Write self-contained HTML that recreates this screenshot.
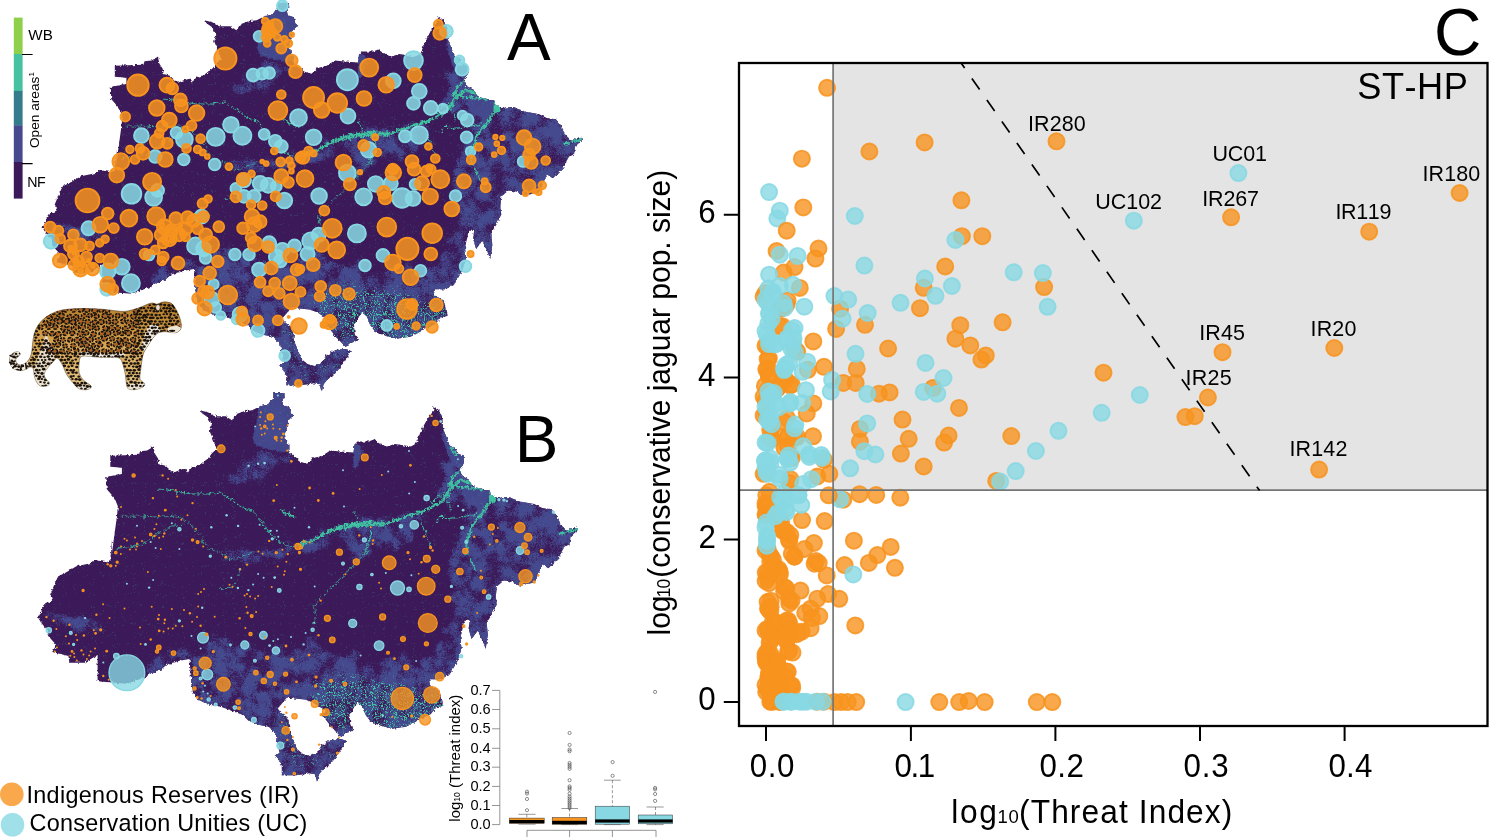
<!DOCTYPE html>
<html><head><meta charset="utf-8"><title>Figure</title>
<style>html,body{margin:0;padding:0;background:#fff;overflow:hidden}svg{display:block}text{font-family:"Liberation Sans",Arial,sans-serif;fill:#000;font-kerning:none}</style></head><body>
<svg width="1489" height="837" viewBox="0 0 1489 837">
<rect width="1489" height="837" fill="#fff"/>
<defs><clipPath id="mapclip"><path d="M111.8 554.0 L117.2 514.2 L117.8 506.1 L114.4 498.1 L106.7 489.0 L106.3 476.9 L121.9 473.8 L121.9 467.8 L110.3 466.8 L110.3 455.7 L139.0 454.7 L140.0 451.2 L147.1 450.6 L153.6 446.6 L154.8 453.6 L158.2 458.7 L159.2 464.1 L165.3 465.8 L173.3 472.8 L180.4 469.8 L185.5 468.8 L187.1 473.4 L191.5 467.8 L199.6 464.7 L207.7 458.7 L212.7 452.6 L216.7 449.6 L213.7 440.5 L209.7 431.4 L211.7 424.4 L207.7 417.3 L200.6 412.3 L199.6 410.2 L207.7 412.3 L215.7 416.3 L225.8 416.3 L231.9 420.3 L235.9 414.3 L244.0 411.2 L252.1 410.2 L260.1 406.2 L268.2 404.2 L273.3 397.1 L273.3 393.1 L284.4 393.1 L284.8 399.1 L282.0 400.1 L283.4 405.2 L289.4 407.2 L290.8 413.3 L293.1 415.7 L288.4 420.3 L287.4 427.4 L284.8 433.5 L286.4 443.5 L289.4 445.6 L289.4 452.6 L292.4 454.7 L298.5 460.7 L300.0 461.7 L307.1 463.7 L312.1 458.7 L322.2 455.7 L330.3 450.6 L340.4 451.6 L353.5 452.6 L354.5 444.6 L357.5 441.5 L368.6 441.5 L373.7 439.5 L380.8 444.6 L386.8 446.6 L394.9 444.0 L405.0 445.6 L411.0 446.6 L416.1 443.5 L421.1 430.4 L427.2 419.3 L433.2 411.2 L433.6 406.2 L439.3 410.2 L442.3 417.3 L443.3 429.4 L447.4 439.5 L449.4 445.6 L455.5 448.6 L457.5 453.6 L463.5 455.7 L463.9 462.7 L460.5 469.8 L461.5 475.8 L469.6 479.9 L473.6 487.0 L489.8 490.4 L490.8 495.0 L496.8 498.1 L507.9 497.0 L522.1 502.1 L534.2 504.1 L542.3 508.1 L551.3 509.2 L557.4 516.2 L560.4 524.3 L566.5 530.4 L574.6 527.3 L578.6 529.3 L570.5 536.4 L569.5 544.5 L564.5 546.5 L560.4 554.0 L558.4 558.2 L548.3 568.3 L542.3 564.2 L538.2 574.3 L534.2 582.4 L520.1 585.4 L512.0 581.4 L503.9 580.4 L496.8 586.4 L495.8 596.5 L496.8 604.6 L491.8 614.7 L486.7 622.8 L487.8 634.9 L485.7 649.0 L482.7 640.9 L477.7 630.8 L471.6 638.9 L468.6 628.8 L469.6 620.8 L464.5 620.8 L460.5 636.9 L461.5 649.0 L457.5 661.1 L450.4 673.2 L441.3 679.3 L429.2 679.3 L430.2 685.4 L439.3 690.4 L441.3 699.5 L442.3 700.6 L443.3 705.6 L436.2 707.6 L430.1 714.7 L420.1 718.7 L414.0 722.8 L405.9 726.8 L391.8 728.8 L381.7 725.8 L371.6 722.8 L365.5 714.7 L362.5 706.6 L357.5 702.6 L353.4 708.6 L349.4 714.7 L350.4 724.8 L354.4 729.8 L349.4 731.9 L345.4 732.9 L341.3 736.9 L331.2 726.8 L325.2 718.7 L321.1 714.7 L326.2 710.7 L319.1 706.6 L313.1 702.6 L305.0 699.6 L294.9 698.5 L286.8 697.5 L282.8 702.6 L277.7 708.6 L280.8 712.7 L286.8 716.7 L289.8 722.8 L288.8 728.8 L292.9 738.9 L296.9 749.0 L303.0 754.1 L310.0 756.1 L317.1 753.1 L321.1 746.0 L331.2 739.9 L341.3 738.9 L346.4 740.9 L341.3 749.0 L335.3 758.1 L329.2 765.2 L323.1 769.2 L319.1 774.3 L317.1 782.3 L315.1 774.3 L309.0 773.2 L305.0 774.3 L294.9 775.3 L281.8 775.3 L281.8 765.2 L278.7 759.1 L274.7 755.5 L279.7 753.1 L276.7 740.9 L275.7 732.9 L268.6 726.8 L258.5 724.8 L248.5 720.8 L242.4 714.7 L234.3 711.7 L220.2 706.6 L208.1 704.6 L200.0 700.6 L197.6 699.5 L193.5 693.4 L191.5 685.4 L190.5 671.2 L189.5 659.1 L179.4 660.7 L167.3 664.2 L161.2 669.2 L151.1 673.2 L145.1 677.3 L126.9 683.7 L108.7 682.3 L97.6 681.3 L97.6 655.1 L84.5 662.7 L69.4 662.7 L68.4 656.1 L52.2 652.0 L56.2 645.0 L49.2 636.9 L46.2 628.8 L41.1 622.8 L38.1 617.7 L41.1 611.7 L43.1 605.6 L52.2 600.6 L50.2 594.5 L55.2 582.4 L58.3 576.3 L66.3 572.3 L76.4 566.2 L90.6 563.2 L96.6 560.2 L106.7 562.2 L110.3 560.2 L111.8 540.0Z"/></clipPath><filter id="fblue" filterUnits="userSpaceOnUse" x="30" y="385" width="560" height="410" color-interpolation-filters="sRGB">
<feGaussianBlur in="SourceAlpha" stdDeviation="4" result="b"/>
<feTurbulence type="fractalNoise" baseFrequency="0.8" numOctaves="1" seed="11" result="n"/>
<feColorMatrix in="n" type="matrix" values="0 0 0 0 0 0 0 0 0 0 0 0 0 0 0 2.2 0 0 0 -0.6" result="na"/>
<feTurbulence type="fractalNoise" baseFrequency="0.07" numOctaves="3" seed="3" result="m"/>
<feColorMatrix in="m" type="matrix" values="0 0 0 0 0 0 0 0 0 0 0 0 0 0 0 2.5 0 0 0 -0.75" result="ma"/>
<feComposite in="na" in2="ma" operator="arithmetic" k1="0" k2="0.4" k3="0.6" k4="0" result="nm"/>
<feComposite in="b" in2="nm" operator="arithmetic" k1="0" k2="0.8" k3="1" k4="-0.72" result="s"/>
<feComponentTransfer in="s" result="t"><feFuncA type="linear" slope="2.5" intercept="-0.75"/></feComponentTransfer>
<feFlood flood-color="#454a8f"/><feComposite operator="in" in2="t"/>
</filter>
<filter id="fteal" filterUnits="userSpaceOnUse" x="30" y="385" width="560" height="410" color-interpolation-filters="sRGB">
<feGaussianBlur in="SourceAlpha" stdDeviation="5" result="b"/>
<feTurbulence type="fractalNoise" baseFrequency="0.9" numOctaves="1" seed="5" result="n"/>
<feColorMatrix in="n" type="matrix" values="0 0 0 0 0 0 0 0 0 0 0 0 0 0 0 0 2.5 0 0 -0.75" result="na"/>
<feComposite in="b" in2="na" operator="arithmetic" k1="0" k2="0.4" k3="1" k4="-0.62" result="s"/>
<feComponentTransfer in="s" result="t"><feFuncA type="linear" slope="3" intercept="-1"/></feComponentTransfer>
<feFlood flood-color="#3fc3a0"/><feComposite operator="in" in2="t"/>
</filter>
<filter id="fedge" filterUnits="userSpaceOnUse" x="30" y="385" width="560" height="410" color-interpolation-filters="sRGB">
<feTurbulence type="fractalNoise" baseFrequency="0.35" numOctaves="2" seed="21" result="n"/>
<feDisplacementMap in="SourceGraphic" in2="n" scale="3.5" xChannelSelector="R" yChannelSelector="G"/>
</filter>
<filter id="frough" filterUnits="userSpaceOnUse" x="30" y="385" width="560" height="410" color-interpolation-filters="sRGB">
<feTurbulence type="fractalNoise" baseFrequency="0.25" numOctaves="2" seed="8" result="n"/>
<feDisplacementMap in="SourceGraphic" in2="n" scale="5" xChannelSelector="R" yChannelSelector="G" result="d"/>
<feTurbulence type="fractalNoise" baseFrequency="0.9" numOctaves="1" seed="2" result="h"/>
<feColorMatrix in="h" type="matrix" values="0 0 0 0 0 0 0 0 0 0 0 0 0 0 0 0 0 3 0 -0.45" result="ha"/>
<feComposite in="d" in2="ha" operator="in"/>
</filter><g id="mapbase"><g filter="url(#fedge)"><path d="M111.8 554.0 L117.2 514.2 L117.8 506.1 L114.4 498.1 L106.7 489.0 L106.3 476.9 L121.9 473.8 L121.9 467.8 L110.3 466.8 L110.3 455.7 L139.0 454.7 L140.0 451.2 L147.1 450.6 L153.6 446.6 L154.8 453.6 L158.2 458.7 L159.2 464.1 L165.3 465.8 L173.3 472.8 L180.4 469.8 L185.5 468.8 L187.1 473.4 L191.5 467.8 L199.6 464.7 L207.7 458.7 L212.7 452.6 L216.7 449.6 L213.7 440.5 L209.7 431.4 L211.7 424.4 L207.7 417.3 L200.6 412.3 L199.6 410.2 L207.7 412.3 L215.7 416.3 L225.8 416.3 L231.9 420.3 L235.9 414.3 L244.0 411.2 L252.1 410.2 L260.1 406.2 L268.2 404.2 L273.3 397.1 L273.3 393.1 L284.4 393.1 L284.8 399.1 L282.0 400.1 L283.4 405.2 L289.4 407.2 L290.8 413.3 L293.1 415.7 L288.4 420.3 L287.4 427.4 L284.8 433.5 L286.4 443.5 L289.4 445.6 L289.4 452.6 L292.4 454.7 L298.5 460.7 L300.0 461.7 L307.1 463.7 L312.1 458.7 L322.2 455.7 L330.3 450.6 L340.4 451.6 L353.5 452.6 L354.5 444.6 L357.5 441.5 L368.6 441.5 L373.7 439.5 L380.8 444.6 L386.8 446.6 L394.9 444.0 L405.0 445.6 L411.0 446.6 L416.1 443.5 L421.1 430.4 L427.2 419.3 L433.2 411.2 L433.6 406.2 L439.3 410.2 L442.3 417.3 L443.3 429.4 L447.4 439.5 L449.4 445.6 L455.5 448.6 L457.5 453.6 L463.5 455.7 L463.9 462.7 L460.5 469.8 L461.5 475.8 L469.6 479.9 L473.6 487.0 L489.8 490.4 L490.8 495.0 L496.8 498.1 L507.9 497.0 L522.1 502.1 L534.2 504.1 L542.3 508.1 L551.3 509.2 L557.4 516.2 L560.4 524.3 L566.5 530.4 L574.6 527.3 L578.6 529.3 L570.5 536.4 L569.5 544.5 L564.5 546.5 L560.4 554.0 L558.4 558.2 L548.3 568.3 L542.3 564.2 L538.2 574.3 L534.2 582.4 L520.1 585.4 L512.0 581.4 L503.9 580.4 L496.8 586.4 L495.8 596.5 L496.8 604.6 L491.8 614.7 L486.7 622.8 L487.8 634.9 L485.7 649.0 L482.7 640.9 L477.7 630.8 L471.6 638.9 L468.6 628.8 L469.6 620.8 L464.5 620.8 L460.5 636.9 L461.5 649.0 L457.5 661.1 L450.4 673.2 L441.3 679.3 L429.2 679.3 L430.2 685.4 L439.3 690.4 L441.3 699.5 L442.3 700.6 L443.3 705.6 L436.2 707.6 L430.1 714.7 L420.1 718.7 L414.0 722.8 L405.9 726.8 L391.8 728.8 L381.7 725.8 L371.6 722.8 L365.5 714.7 L362.5 706.6 L357.5 702.6 L353.4 708.6 L349.4 714.7 L350.4 724.8 L354.4 729.8 L349.4 731.9 L345.4 732.9 L341.3 736.9 L331.2 726.8 L325.2 718.7 L321.1 714.7 L326.2 710.7 L319.1 706.6 L313.1 702.6 L305.0 699.6 L294.9 698.5 L286.8 697.5 L282.8 702.6 L277.7 708.6 L280.8 712.7 L286.8 716.7 L289.8 722.8 L288.8 728.8 L292.9 738.9 L296.9 749.0 L303.0 754.1 L310.0 756.1 L317.1 753.1 L321.1 746.0 L331.2 739.9 L341.3 738.9 L346.4 740.9 L341.3 749.0 L335.3 758.1 L329.2 765.2 L323.1 769.2 L319.1 774.3 L317.1 782.3 L315.1 774.3 L309.0 773.2 L305.0 774.3 L294.9 775.3 L281.8 775.3 L281.8 765.2 L278.7 759.1 L274.7 755.5 L279.7 753.1 L276.7 740.9 L275.7 732.9 L268.6 726.8 L258.5 724.8 L248.5 720.8 L242.4 714.7 L234.3 711.7 L220.2 706.6 L208.1 704.6 L200.0 700.6 L197.6 699.5 L193.5 693.4 L191.5 685.4 L190.5 671.2 L189.5 659.1 L179.4 660.7 L167.3 664.2 L161.2 669.2 L151.1 673.2 L145.1 677.3 L126.9 683.7 L108.7 682.3 L97.6 681.3 L97.6 655.1 L84.5 662.7 L69.4 662.7 L68.4 656.1 L52.2 652.0 L56.2 645.0 L49.2 636.9 L46.2 628.8 L41.1 622.8 L38.1 617.7 L41.1 611.7 L43.1 605.6 L52.2 600.6 L50.2 594.5 L55.2 582.4 L58.3 576.3 L66.3 572.3 L76.4 566.2 L90.6 563.2 L96.6 560.2 L106.7 562.2 L110.3 560.2 L111.8 540.0Z" fill="#3c1a59"/><g clip-path="url(#mapclip)"><path d="M258.1 407.2 L268.2 403.2 L272.3 397.1 L272.3 391.1 L286.4 391.1 L287.4 399.1 L285.4 405.2 L292.4 406.2 L296.5 415.7 L291.4 420.3 L289.4 427.4 L287.4 433.5 L288.4 443.5 L290.4 445.6 L290.4 452.6 L280.3 451.6 L268.2 449.6 L256.1 445.6 L252.1 437.5 L256.1 425.4 L258.1 415.3Z" fill="#454a8f" fill-opacity="0.92"/><path d="M469.6 478.9 L474.6 485.9 L490.8 489.6 L491.8 495.0 L487.8 504.1 L477.7 508.1 L467.6 502.1 L461.5 494.0 L463.5 485.9Z" fill="#454a8f" fill-opacity="0.92"/><path d="M352.9 443.5 L360.6 445.6 L360.6 455.7 L358.5 465.8 L353.7 468.2Z" fill="#454a8f" fill-opacity="0.92"/><path d="M442.5 423.4 L445.4 429.4 L451.0 445.6 L459.1 452.6 L465.1 462.7 L461.5 469.8 L453.4 465.8 L447.4 453.6 L443.7 441.5Z" fill="#454a8f" fill-opacity="0.92"/><g filter="url(#fblue)"><path d="M255.9 408.0 L275.0 396.5 L284.6 402.2 L288.4 423.3 L285.7 450.1 L294.1 461.6 L275.0 467.3 L259.7 480.7 L236.7 485.3 L221.4 480.7 L232.9 471.1 L253.9 457.7 L256.6 434.8Z"/><path d="M354.6 445.5 L366.9 448.2 L368.8 461.6 L355.4 467.3Z"/><path d="M435.8 385.0 L435.8 408.0 L443.4 442.4 L441.5 473.0 L431.9 499.8 L451.1 503.7 L462.6 511.3 L454.9 538.1 L447.3 557.3 L451.1 584.1 L445.3 614.7 L435.8 645.3 L420.5 660.6 L397.5 653.0 L374.5 660.6 L351.6 649.1 L328.6 653.0 L313.3 630.0 L298.0 649.1 L275.0 645.3 L255.9 653.0 L244.4 641.5 L229.1 630.0 L209.9 637.7 L198.4 653.0 L183.1 649.1 L156.3 653.0 L144.8 675.9 L144.8 806.1 L604.2 806.1 L604.2 385.0Z"/><path d="M213.7 553.4 L259.7 547.7 L298.0 540.0 L328.6 526.6 L359.2 517.1 L393.7 515.2 L428.1 507.5 L431.9 517.1 L412.8 528.6 L374.5 536.2 L336.2 543.9 L305.6 555.3 L259.7 563.0 L213.7 568.0Z"/><path d="M351.6 538.1 L412.8 530.5 L416.6 545.8 L374.5 553.4 L355.4 568.7 L347.7 553.4Z"/><path d="M41.5 608.9 L75.9 614.7 L110.4 624.3 L106.6 635.7 L72.1 630.0 L41.5 622.3Z"/></g><g filter="url(#fteal)"><path d="M313.1 680.4 L341.3 676.3 L381.7 680.4 L422.1 690.5 L452.4 700.6 L432.2 724.8 L391.8 730.8 L365.5 720.8 L357.5 706.6 L349.4 732.9 L325.2 720.8 L313.1 704.6Z"/><path d="M280.8 716.7 L284.8 734.9 L290.8 753.1 L305.0 763.1 L321.1 759.1 L337.3 747.0" fill="none" stroke="#000" stroke-width="5" stroke-linecap="round" stroke-linejoin="round"/></g><g filter="url(#frough)" fill="none" stroke="#3fc3a0" stroke-linecap="round" stroke-linejoin="round"><path d="M300.0 544.5 L312.1 540.5 L326.2 532.4 L340.4 527.3 L356.5 524.3 L370.7 524.3 L384.8 524.3 L400.9 518.2 L413.1 514.2 L425.2 510.2 L437.3 504.1 L445.4 498.1 L449.4 490.0 L455.5 483.9 L461.5 479.9 L471.6 483.9" stroke-width="3.2"/><path d="M340.4 527.3 L356.5 524.7 L370.7 524.3 L384.8 523.9" stroke-width="5.1"/><path d="M449.4 485.9 L453.4 475.8 L459.5 471.8" stroke-width="2.5"/><path d="M493.8 495.6 L489.8 502.1 L485.7 508.1 L479.7 516.2 L471.6 526.3 L467.6 540.5 L465.5 554.0" stroke-width="2.5"/><path d="M435.3 522.3 L439.3 517.2 L453.4 518.2 L465.5 516.2 L477.7 514.2" stroke-width="1.2"/><path d="M421.1 522.3 L424.2 530.4 L427.2 538.4 L431.2 546.5" stroke-width="1.0"/><path d="M370.7 530.4 L369.7 538.4 L367.6 546.5 L366.6 554.0" stroke-width="1.2"/><path d="M354.5 510.2 L356.5 518.2 L358.5 524.3" stroke-width="1.0"/><path d="M560.4 534.4 L570.5 530.4 L577.6 528.7" stroke-width="2.5"/><path d="M450.4 447.6 L453.4 451.6 L455.5 454.7" stroke-width="2.5"/><path d="M159.2 489.0 L175.4 491.0 L191.5 494.0 L207.7 494.0 L219.8 492.0 L231.9 500.1 L244.0 508.1 L254.1 512.2 L262.2 522.3 L270.2 534.4 L280.3 542.5 L292.4 546.5 L308.6 544.5" stroke-width="1.0"/><path d="M120.8 516.2 L143.1 516.2 L159.2 517.2 L175.4 516.2 L187.5 520.3 L191.5 526.3 L199.6 534.4 L205.6 544.5" stroke-width="0.8"/><path d="M118.8 547.5 L143.1 544.5 L159.2 532.4 L171.3 526.3 L183.4 524.3" stroke-width="0.8"/><path d="M280.3 510.2 L288.4 514.2 L294.5 517.2" stroke-width="2.0"/><path d="M368.6 540.0 L366.6 548.1 L360.6 558.2 L350.5 568.3 L340.4 578.4 L330.3 588.5 L320.2 598.5 L314.1 606.6 L316.2 616.7 L314.1 624.8" stroke-width="0.8"/><path d="M465.5 540.0 L467.6 552.1 L471.6 562.2 L475.6 570.3" stroke-width="1.2"/><path d="M207.7 548.1 L219.8 552.1 L231.9 560.2 L242.0 556.2 L252.1 552.1" stroke-width="0.8"/><path d="M240.0 570.3 L237.9 580.4 L231.9 588.5 L219.8 588.5" stroke-width="0.7"/><path d="M116.8 549.1 L124.9 547.1 L135.0 546.1 L143.1 544.0" stroke-width="0.7"/><path d="M451.1 485.7 L457.2 486.2 L464.3 487.7 L471.4 488.7 L477.5 488.2 L482.6 489.8" stroke-width="2.2"/><path d="M431.8 503.0 L434.8 498.4 L440.9 495.3 L446.0 492.8 L450.1 489.8" stroke-width="1.4"/><path d="M445.0 496.9 L447.0 500.9 L451.1 505.0 L450.1 511.1" stroke-width="1.0"/></g><path d="M489.8 490.4 L496.8 498.1 L492.8 504.1 L488.8 498.1Z" fill="#3fc3a0"/></g></g></g></defs>
<use href="#mapbase" transform="translate(4.5 -390.0)"/>
<use href="#mapbase"/>
<g fill="#87d8e3" fill-opacity="0.86" stroke="#87d8e3" stroke-width="1.9">
<circle cx="282.4" cy="5.7" r="5.4"/>
<circle cx="259.1" cy="36.3" r="5.4"/>
<circle cx="253.1" cy="75.1" r="6.4"/>
<circle cx="262.2" cy="73.7" r="5.8"/>
<circle cx="269.2" cy="73.1" r="5.8"/>
<circle cx="230.9" cy="124.8" r="7.8"/>
<circle cx="215.7" cy="136.9" r="9.0"/>
<circle cx="242.4" cy="135.7" r="9.0"/>
<circle cx="141.4" cy="135.7" r="7.4"/>
<circle cx="176.4" cy="132.8" r="5.8"/>
<circle cx="184.4" cy="139.3" r="8.4"/>
<circle cx="183.8" cy="159.5" r="5.8"/>
<circle cx="214.7" cy="164.5" r="5.8"/>
<circle cx="264.2" cy="134.3" r="5.4"/>
<circle cx="275.3" cy="141.3" r="6.4"/>
<circle cx="281.3" cy="146.4" r="6.4"/>
<circle cx="298.5" cy="117.7" r="8.4"/>
<circle cx="313.6" cy="137.3" r="7.8"/>
<circle cx="155.2" cy="156.5" r="6.4"/>
<circle cx="446.4" cy="31.3" r="6.4"/>
<circle cx="413.5" cy="60.6" r="9.4"/>
<circle cx="459.5" cy="60.2" r="4.8"/>
<circle cx="462.1" cy="69.2" r="6.4"/>
<circle cx="347.4" cy="79.7" r="10.5"/>
<circle cx="393.3" cy="80.8" r="7.4"/>
<circle cx="419.3" cy="91.3" r="7.4"/>
<circle cx="413.5" cy="103.4" r="6.4"/>
<circle cx="430.8" cy="108.0" r="7.0"/>
<circle cx="442.9" cy="108.6" r="4.8"/>
<circle cx="348.0" cy="116.1" r="7.4"/>
<circle cx="462.5" cy="115.5" r="4.8"/>
<circle cx="467.2" cy="120.1" r="6.4"/>
<circle cx="405.0" cy="136.3" r="6.0"/>
<circle cx="419.1" cy="134.9" r="8.8"/>
<circle cx="466.6" cy="137.3" r="5.8"/>
<circle cx="470.6" cy="151.4" r="4.8"/>
<circle cx="368.6" cy="149.8" r="7.8"/>
<circle cx="523.1" cy="161.5" r="5.4"/>
<circle cx="131.5" cy="193.8" r="9.8"/>
<circle cx="153.6" cy="197.4" r="8.4"/>
<circle cx="157.6" cy="190.4" r="6.4"/>
<circle cx="88.5" cy="228.3" r="7.0"/>
<circle cx="51.2" cy="241.3" r="7.4"/>
<circle cx="201.6" cy="216.6" r="7.0"/>
<circle cx="195.5" cy="245.9" r="8.4"/>
<circle cx="203.6" cy="248.9" r="7.4"/>
<circle cx="205.6" cy="258.0" r="5.8"/>
<circle cx="234.9" cy="254.6" r="5.8"/>
<circle cx="249.0" cy="254.6" r="5.8"/>
<circle cx="121.9" cy="266.7" r="7.8"/>
<circle cx="107.7" cy="271.1" r="7.8"/>
<circle cx="130.9" cy="283.2" r="9.0"/>
<circle cx="149.1" cy="255.0" r="5.4"/>
<circle cx="260.1" cy="183.3" r="7.4"/>
<circle cx="268.2" cy="185.3" r="7.4"/>
<circle cx="244.0" cy="180.3" r="7.0"/>
<circle cx="235.9" cy="188.4" r="5.4"/>
<circle cx="244.0" cy="196.4" r="6.4"/>
<circle cx="254.1" cy="196.4" r="6.4"/>
<circle cx="276.3" cy="186.3" r="5.4"/>
<circle cx="284.4" cy="200.5" r="7.8"/>
<circle cx="319.1" cy="196.0" r="7.8"/>
<circle cx="269.2" cy="243.3" r="7.0"/>
<circle cx="282.4" cy="249.9" r="7.0"/>
<circle cx="294.5" cy="245.9" r="6.4"/>
<circle cx="307.6" cy="254.0" r="7.0"/>
<circle cx="310.6" cy="240.8" r="8.4"/>
<circle cx="318.7" cy="234.8" r="7.0"/>
<circle cx="276.3" cy="257.0" r="7.4"/>
<circle cx="280.3" cy="261.0" r="6.4"/>
<circle cx="259.1" cy="269.7" r="7.0"/>
<circle cx="213.7" cy="284.3" r="5.0"/>
<circle cx="211.7" cy="299.4" r="7.4"/>
<circle cx="215.7" cy="307.5" r="5.4"/>
<circle cx="106.7" cy="289.3" r="6.4"/>
<circle cx="240.0" cy="314.5" r="7.4"/>
<circle cx="220.8" cy="315.5" r="4.4"/>
<circle cx="347.4" cy="173.2" r="8.4"/>
<circle cx="375.7" cy="183.9" r="7.8"/>
<circle cx="390.8" cy="183.3" r="7.0"/>
<circle cx="363.6" cy="196.8" r="8.4"/>
<circle cx="402.0" cy="198.0" r="9.8"/>
<circle cx="413.1" cy="198.5" r="7.4"/>
<circle cx="415.1" cy="184.3" r="5.4"/>
<circle cx="455.5" cy="196.0" r="5.8"/>
<circle cx="356.9" cy="233.4" r="9.0"/>
<circle cx="383.0" cy="255.4" r="6.4"/>
<circle cx="365.0" cy="265.5" r="5.8"/>
<circle cx="420.5" cy="270.7" r="5.8"/>
<circle cx="465.5" cy="266.3" r="5.8"/>
<circle cx="258.0" cy="330.5" r="6.4"/>
<circle cx="284.7" cy="355.7" r="5.4"/>
<circle cx="386.8" cy="325.4" r="5.4"/>
<circle cx="236.8" cy="319.4" r="5.0"/>
</g>
<g fill="#f7931e" fill-opacity="0.86" stroke="#f7931e" stroke-width="1.9">
<circle cx="225.4" cy="58.5" r="11.1"/>
<circle cx="138.0" cy="85.2" r="10.7"/>
<circle cx="166.9" cy="85.2" r="7.4"/>
<circle cx="172.3" cy="88.4" r="5.8"/>
<circle cx="180.4" cy="99.9" r="6.4"/>
<circle cx="181.4" cy="106.0" r="6.4"/>
<circle cx="156.8" cy="108.0" r="7.8"/>
<circle cx="196.6" cy="113.1" r="7.8"/>
<circle cx="125.3" cy="116.7" r="4.8"/>
<circle cx="169.3" cy="120.1" r="7.4"/>
<circle cx="162.2" cy="126.2" r="5.4"/>
<circle cx="191.5" cy="125.6" r="5.0"/>
<circle cx="185.5" cy="129.2" r="3.0"/>
<circle cx="200.6" cy="138.7" r="4.4"/>
<circle cx="159.2" cy="133.2" r="4.4"/>
<circle cx="157.2" cy="141.3" r="7.4"/>
<circle cx="167.3" cy="143.3" r="5.4"/>
<circle cx="186.5" cy="148.4" r="4.4"/>
<circle cx="197.6" cy="149.4" r="3.8"/>
<circle cx="202.6" cy="152.4" r="3.0"/>
<circle cx="207.3" cy="156.5" r="2.4"/>
<circle cx="129.9" cy="149.4" r="3.8"/>
<circle cx="140.0" cy="148.4" r="4.4"/>
<circle cx="143.1" cy="153.4" r="6.4"/>
<circle cx="135.0" cy="159.5" r="4.4"/>
<circle cx="120.8" cy="161.5" r="8.4"/>
<circle cx="165.3" cy="159.5" r="7.4"/>
<circle cx="228.9" cy="166.6" r="3.4"/>
<circle cx="265.2" cy="21.2" r="3.4"/>
<circle cx="275.3" cy="26.2" r="7.0"/>
<circle cx="268.2" cy="30.3" r="6.4"/>
<circle cx="266.2" cy="37.3" r="4.4"/>
<circle cx="267.2" cy="43.4" r="3.4"/>
<circle cx="277.3" cy="37.3" r="3.4"/>
<circle cx="284.4" cy="39.4" r="3.4"/>
<circle cx="288.4" cy="43.4" r="3.8"/>
<circle cx="281.3" cy="48.5" r="5.0"/>
<circle cx="291.8" cy="34.7" r="2.2"/>
<circle cx="291.8" cy="60.6" r="5.8"/>
<circle cx="295.5" cy="71.7" r="6.4"/>
<circle cx="281.3" cy="94.5" r="4.4"/>
<circle cx="277.9" cy="110.6" r="9.4"/>
<circle cx="313.6" cy="97.5" r="10.5"/>
<circle cx="321.7" cy="110.0" r="7.8"/>
<circle cx="274.3" cy="151.0" r="3.4"/>
<circle cx="262.2" cy="161.5" r="1.8"/>
<circle cx="266.2" cy="163.5" r="2.4"/>
<circle cx="280.7" cy="161.9" r="4.4"/>
<circle cx="289.4" cy="160.5" r="3.4"/>
<circle cx="291.4" cy="165.5" r="3.4"/>
<circle cx="300.5" cy="157.5" r="5.0"/>
<circle cx="308.6" cy="151.0" r="4.4"/>
<circle cx="313.6" cy="153.4" r="3.0"/>
<circle cx="438.3" cy="24.2" r="4.4"/>
<circle cx="439.7" cy="33.3" r="6.4"/>
<circle cx="369.2" cy="67.6" r="9.0"/>
<circle cx="414.7" cy="75.1" r="7.0"/>
<circle cx="386.2" cy="84.8" r="7.8"/>
<circle cx="337.3" cy="103.0" r="9.8"/>
<circle cx="364.0" cy="98.5" r="7.4"/>
<circle cx="375.1" cy="137.3" r="3.0"/>
<circle cx="363.6" cy="145.4" r="5.4"/>
<circle cx="377.3" cy="152.4" r="3.8"/>
<circle cx="428.4" cy="146.4" r="3.4"/>
<circle cx="478.7" cy="147.0" r="3.8"/>
<circle cx="471.2" cy="159.9" r="4.4"/>
<circle cx="495.4" cy="136.9" r="2.2"/>
<circle cx="502.3" cy="137.9" r="2.2"/>
<circle cx="496.8" cy="143.7" r="2.4"/>
<circle cx="501.5" cy="150.4" r="3.8"/>
<circle cx="494.2" cy="154.6" r="2.4"/>
<circle cx="524.1" cy="137.7" r="7.4"/>
<circle cx="532.6" cy="146.4" r="7.8"/>
<circle cx="529.1" cy="154.4" r="5.8"/>
<circle cx="531.2" cy="162.5" r="6.4"/>
<circle cx="545.7" cy="160.5" r="4.4"/>
<circle cx="303.0" cy="157.5" r="6.4"/>
<circle cx="343.4" cy="162.5" r="7.8"/>
<circle cx="412.0" cy="161.5" r="6.4"/>
<circle cx="435.3" cy="158.5" r="4.4"/>
<circle cx="429.2" cy="167.6" r="3.4"/>
<circle cx="392.9" cy="169.0" r="5.4"/>
<circle cx="116.8" cy="175.2" r="7.4"/>
<circle cx="152.1" cy="181.9" r="9.0"/>
<circle cx="87.5" cy="200.5" r="11.9"/>
<circle cx="107.7" cy="213.6" r="5.8"/>
<circle cx="100.3" cy="224.7" r="7.8"/>
<circle cx="113.8" cy="228.1" r="5.0"/>
<circle cx="128.9" cy="218.2" r="8.4"/>
<circle cx="50.2" cy="227.1" r="5.4"/>
<circle cx="58.3" cy="230.8" r="5.0"/>
<circle cx="60.3" cy="238.8" r="4.8"/>
<circle cx="73.4" cy="234.8" r="5.4"/>
<circle cx="105.1" cy="239.2" r="3.8"/>
<circle cx="99.7" cy="242.9" r="3.8"/>
<circle cx="70.4" cy="245.9" r="6.4"/>
<circle cx="80.5" cy="244.9" r="6.4"/>
<circle cx="89.6" cy="245.9" r="4.4"/>
<circle cx="73.4" cy="254.0" r="5.4"/>
<circle cx="86.5" cy="257.0" r="5.4"/>
<circle cx="99.7" cy="258.0" r="4.4"/>
<circle cx="110.8" cy="261.0" r="7.4"/>
<circle cx="59.9" cy="260.6" r="7.0"/>
<circle cx="73.4" cy="265.1" r="5.0"/>
<circle cx="80.5" cy="269.1" r="7.4"/>
<circle cx="92.6" cy="269.1" r="6.4"/>
<circle cx="78.5" cy="261.0" r="5.4"/>
<circle cx="107.7" cy="284.3" r="7.4"/>
<circle cx="112.8" cy="289.3" r="5.4"/>
<circle cx="144.7" cy="236.8" r="7.8"/>
<circle cx="156.2" cy="216.2" r="9.0"/>
<circle cx="164.3" cy="226.7" r="7.4"/>
<circle cx="175.8" cy="218.6" r="6.4"/>
<circle cx="187.5" cy="217.6" r="6.4"/>
<circle cx="193.5" cy="220.7" r="6.4"/>
<circle cx="203.6" cy="216.6" r="5.4"/>
<circle cx="202.6" cy="203.5" r="5.0"/>
<circle cx="208.1" cy="198.9" r="3.8"/>
<circle cx="161.2" cy="234.8" r="6.4"/>
<circle cx="171.3" cy="230.8" r="6.4"/>
<circle cx="179.4" cy="234.8" r="6.4"/>
<circle cx="185.5" cy="228.7" r="6.4"/>
<circle cx="197.6" cy="228.7" r="5.4"/>
<circle cx="169.3" cy="238.8" r="7.4"/>
<circle cx="163.2" cy="242.9" r="5.4"/>
<circle cx="185.5" cy="236.8" r="4.4"/>
<circle cx="205.6" cy="234.8" r="6.4"/>
<circle cx="210.7" cy="244.5" r="8.4"/>
<circle cx="218.8" cy="226.7" r="5.4"/>
<circle cx="145.1" cy="254.0" r="5.4"/>
<circle cx="155.2" cy="249.9" r="4.4"/>
<circle cx="163.2" cy="257.0" r="5.4"/>
<circle cx="161.8" cy="261.0" r="4.4"/>
<circle cx="178.0" cy="263.1" r="6.4"/>
<circle cx="217.8" cy="261.4" r="5.8"/>
<circle cx="209.7" cy="273.1" r="6.4"/>
<circle cx="199.6" cy="281.2" r="5.4"/>
<circle cx="203.6" cy="291.3" r="5.4"/>
<circle cx="207.7" cy="292.3" r="6.4"/>
<circle cx="227.8" cy="295.0" r="9.4"/>
<circle cx="197.6" cy="298.4" r="5.4"/>
<circle cx="204.6" cy="308.5" r="7.0"/>
<circle cx="243.0" cy="179.3" r="6.4"/>
<circle cx="251.5" cy="173.8" r="3.4"/>
<circle cx="281.3" cy="176.2" r="7.0"/>
<circle cx="288.4" cy="182.3" r="5.4"/>
<circle cx="305.0" cy="178.7" r="8.4"/>
<circle cx="291.4" cy="171.2" r="2.4"/>
<circle cx="235.9" cy="196.8" r="5.4"/>
<circle cx="275.7" cy="196.4" r="5.0"/>
<circle cx="251.1" cy="204.5" r="4.4"/>
<circle cx="262.2" cy="205.5" r="4.4"/>
<circle cx="252.1" cy="216.6" r="7.4"/>
<circle cx="260.1" cy="221.7" r="6.4"/>
<circle cx="243.0" cy="228.3" r="5.8"/>
<circle cx="254.1" cy="224.7" r="7.4"/>
<circle cx="251.1" cy="237.8" r="5.4"/>
<circle cx="255.1" cy="243.9" r="7.4"/>
<circle cx="268.2" cy="246.9" r="5.8"/>
<circle cx="290.4" cy="255.4" r="7.0"/>
<circle cx="271.3" cy="268.1" r="6.4"/>
<circle cx="296.5" cy="269.7" r="5.8"/>
<circle cx="313.2" cy="264.7" r="6.4"/>
<circle cx="321.7" cy="244.9" r="7.0"/>
<circle cx="324.3" cy="210.6" r="5.0"/>
<circle cx="260.1" cy="282.2" r="5.4"/>
<circle cx="274.7" cy="283.2" r="5.4"/>
<circle cx="289.8" cy="283.2" r="7.0"/>
<circle cx="268.2" cy="291.3" r="5.0"/>
<circle cx="279.3" cy="293.3" r="5.4"/>
<circle cx="300.5" cy="291.9" r="5.0"/>
<circle cx="291.4" cy="301.4" r="7.8"/>
<circle cx="320.7" cy="286.3" r="5.4"/>
<circle cx="319.7" cy="296.4" r="5.0"/>
<circle cx="242.0" cy="311.5" r="5.0"/>
<circle cx="360.0" cy="172.2" r="2.2"/>
<circle cx="349.9" cy="184.3" r="6.0"/>
<circle cx="393.3" cy="172.6" r="7.8"/>
<circle cx="414.1" cy="169.2" r="6.4"/>
<circle cx="426.2" cy="171.2" r="5.4"/>
<circle cx="431.2" cy="169.2" r="4.4"/>
<circle cx="440.3" cy="179.3" r="9.0"/>
<circle cx="422.1" cy="183.3" r="7.0"/>
<circle cx="430.2" cy="196.4" r="7.8"/>
<circle cx="383.8" cy="192.4" r="6.4"/>
<circle cx="385.2" cy="198.0" r="6.4"/>
<circle cx="463.9" cy="181.3" r="7.0"/>
<circle cx="485.7" cy="187.3" r="5.0"/>
<circle cx="484.7" cy="181.3" r="3.0"/>
<circle cx="451.8" cy="209.0" r="7.4"/>
<circle cx="332.3" cy="228.3" r="9.4"/>
<circle cx="386.8" cy="227.1" r="9.4"/>
<circle cx="432.2" cy="233.2" r="9.8"/>
<circle cx="336.7" cy="249.9" r="8.4"/>
<circle cx="407.4" cy="248.9" r="11.1"/>
<circle cx="430.8" cy="254.0" r="6.4"/>
<circle cx="392.9" cy="262.4" r="7.8"/>
<circle cx="398.9" cy="268.7" r="4.4"/>
<circle cx="410.6" cy="277.2" r="7.8"/>
<circle cx="300.0" cy="269.1" r="4.4"/>
<circle cx="470.6" cy="254.0" r="3.0"/>
<circle cx="335.3" cy="290.3" r="5.4"/>
<circle cx="349.1" cy="293.9" r="5.8"/>
<circle cx="407.0" cy="309.1" r="9.8"/>
<circle cx="412.0" cy="304.4" r="5.4"/>
<circle cx="436.3" cy="305.0" r="6.4"/>
<circle cx="330.3" cy="319.0" r="4.4"/>
<circle cx="529.1" cy="185.9" r="6.4"/>
<circle cx="542.3" cy="185.3" r="3.8"/>
<circle cx="538.6" cy="192.0" r="3.0"/>
<circle cx="525.5" cy="193.4" r="2.6"/>
<circle cx="534.2" cy="191.4" r="1.8"/>
<circle cx="299.0" cy="326.0" r="7.8"/>
<circle cx="258.0" cy="320.4" r="5.0"/>
<circle cx="277.8" cy="320.4" r="5.0"/>
<circle cx="242.9" cy="319.4" r="6.4"/>
<circle cx="288.7" cy="316.9" r="1.0"/>
<circle cx="329.7" cy="322.4" r="7.0"/>
<circle cx="323.6" cy="324.8" r="3.0"/>
<circle cx="298.4" cy="383.4" r="3.4"/>
<circle cx="396.7" cy="326.4" r="2.4"/>
<circle cx="416.1" cy="326.0" r="3.8"/>
<circle cx="432.0" cy="327.0" r="5.8"/>
<circle cx="76.6" cy="260.9" r="1.9"/>
<circle cx="82.7" cy="265.0" r="2.2"/>
<circle cx="88.7" cy="260.9" r="1.9"/>
<circle cx="92.8" cy="266.0" r="1.9"/>
<circle cx="80.6" cy="271.1" r="2.2"/>
<circle cx="87.7" cy="271.1" r="1.9"/>
<circle cx="70.5" cy="247.7" r="1.9"/>
<circle cx="74.5" cy="252.8" r="1.9"/>
<circle cx="161.9" cy="225.4" r="2.2"/>
<circle cx="168.0" cy="230.5" r="2.2"/>
<circle cx="175.1" cy="228.4" r="2.2"/>
<circle cx="182.2" cy="233.5" r="2.4"/>
<circle cx="164.9" cy="238.6" r="2.2"/>
<circle cx="172.0" cy="240.6" r="2.2"/>
<circle cx="180.1" cy="225.4" r="1.9"/>
<circle cx="267.3" cy="27.2" r="4.4"/>
<circle cx="273.0" cy="32.3" r="3.7"/>
<circle cx="268.7" cy="35.8" r="3.7"/>
<circle cx="265.8" cy="31.5" r="3.3"/>
<circle cx="270.1" cy="23.7" r="2.9"/>
</g>
<g fill="#87d8e3" fill-opacity="0.8" stroke="#87d8e3" stroke-width="1.3">
<circle cx="277.9" cy="395.5" r="1.0" stroke="none" fill-opacity="1"/>
<circle cx="255.1" cy="426.4" r="1.0" stroke="none" fill-opacity="1"/>
<circle cx="248.6" cy="465.8" r="1.2" stroke="none" fill-opacity="1"/>
<circle cx="258.1" cy="463.7" r="1.2" stroke="none" fill-opacity="1"/>
<circle cx="264.6" cy="463.1" r="1.4" stroke="none" fill-opacity="1"/>
<circle cx="226.6" cy="515.2" r="1.2" stroke="none" fill-opacity="1"/>
<circle cx="211.3" cy="527.3" r="1.2" stroke="none" fill-opacity="1"/>
<circle cx="238.1" cy="525.9" r="1.2" stroke="none" fill-opacity="1"/>
<circle cx="179.4" cy="529.3" r="1.6"/>
<circle cx="171.9" cy="523.3" r="1.0" stroke="none" fill-opacity="1"/>
<circle cx="137.0" cy="525.7" r="1.0" stroke="none" fill-opacity="1"/>
<circle cx="150.7" cy="542.1" r="1.0" stroke="none" fill-opacity="1"/>
<circle cx="155.6" cy="548.1" r="1.0" stroke="none" fill-opacity="1"/>
<circle cx="179.4" cy="548.9" r="1.0" stroke="none" fill-opacity="1"/>
<circle cx="259.7" cy="524.7" r="1.0" stroke="none" fill-opacity="1"/>
<circle cx="270.8" cy="530.8" r="1.0" stroke="none" fill-opacity="1"/>
<circle cx="276.9" cy="530.8" r="1.0" stroke="none" fill-opacity="1"/>
<circle cx="272.3" cy="538.8" r="1.0"/>
<circle cx="278.3" cy="536.8" r="1.0" stroke="none" fill-opacity="1"/>
<circle cx="294.5" cy="507.7" r="1.0" stroke="none" fill-opacity="1"/>
<circle cx="309.0" cy="527.3" r="1.2" stroke="none" fill-opacity="1"/>
<circle cx="440.7" cy="421.5" r="1.4" stroke="none" fill-opacity="1"/>
<circle cx="409.0" cy="451.0" r="1.0" stroke="none" fill-opacity="1"/>
<circle cx="343.0" cy="470.2" r="1.0" stroke="none" fill-opacity="1"/>
<circle cx="388.2" cy="471.4" r="1.0" stroke="none" fill-opacity="1"/>
<circle cx="414.9" cy="481.9" r="1.0" stroke="none" fill-opacity="1"/>
<circle cx="409.2" cy="493.6" r="1.0" stroke="none" fill-opacity="1"/>
<circle cx="426.6" cy="498.1" r="2.6"/>
<circle cx="344.0" cy="506.5" r="1.0" stroke="none" fill-opacity="1"/>
<circle cx="457.9" cy="459.3" r="1.0" stroke="none" fill-opacity="1"/>
<circle cx="458.1" cy="506.1" r="1.0" stroke="none" fill-opacity="1"/>
<circle cx="463.1" cy="510.2" r="1.4" stroke="none" fill-opacity="1"/>
<circle cx="462.1" cy="527.7" r="1.4"/>
<circle cx="414.3" cy="524.9" r="4.2"/>
<circle cx="400.9" cy="526.3" r="1.6"/>
<circle cx="364.4" cy="539.8" r="2.0"/>
<circle cx="466.2" cy="541.9" r="1.2"/>
<circle cx="520.1" cy="550.5" r="3.8"/>
<circle cx="498.9" cy="499.7" r="1.0"/>
<circle cx="503.9" cy="500.1" r="1.0"/>
<circle cx="506.9" cy="501.1" r="1.2" stroke="none" fill-opacity="1"/>
<circle cx="553.4" cy="512.2" r="1.0"/>
<circle cx="48.8" cy="630.2" r="2.6"/>
<circle cx="70.8" cy="632.9" r="1.4"/>
<circle cx="73.6" cy="644.4" r="1.0"/>
<circle cx="85.1" cy="618.1" r="1.2" stroke="none" fill-opacity="1"/>
<circle cx="126.9" cy="583.8" r="1.0" stroke="none" fill-opacity="1"/>
<circle cx="153.1" cy="580.0" r="1.0" stroke="none" fill-opacity="1"/>
<circle cx="149.1" cy="587.6" r="1.2" stroke="none" fill-opacity="1"/>
<circle cx="179.4" cy="620.8" r="1.0"/>
<circle cx="145.5" cy="644.4" r="1.4" stroke="none" fill-opacity="1"/>
<circle cx="203.0" cy="637.7" r="5.4"/>
<circle cx="116.4" cy="656.1" r="2.8"/>
<circle cx="126.9" cy="672.8" r="17.9"/>
<circle cx="207.3" cy="674.5" r="5.4"/>
<circle cx="200.6" cy="678.5" r="1.4"/>
<circle cx="244.8" cy="645.0" r="4.0"/>
<circle cx="263.4" cy="635.3" r="3.8"/>
<circle cx="275.9" cy="650.6" r="3.6"/>
<circle cx="254.9" cy="660.7" r="1.4"/>
<circle cx="279.3" cy="590.5" r="1.8"/>
<circle cx="274.7" cy="577.6" r="1.4" stroke="none" fill-opacity="1"/>
<circle cx="237.9" cy="588.0" r="1.2" stroke="none" fill-opacity="1"/>
<circle cx="248.4" cy="590.1" r="1.2" stroke="none" fill-opacity="1"/>
<circle cx="253.1" cy="584.4" r="1.0" stroke="none" fill-opacity="1"/>
<circle cx="258.1" cy="573.9" r="1.0" stroke="none" fill-opacity="1"/>
<circle cx="263.6" cy="577.8" r="1.0" stroke="none" fill-opacity="1"/>
<circle cx="240.0" cy="569.3" r="1.2" stroke="none" fill-opacity="1"/>
<circle cx="231.3" cy="577.8" r="1.0" stroke="none" fill-opacity="1"/>
<circle cx="210.3" cy="556.2" r="1.0"/>
<circle cx="202.2" cy="607.8" r="1.2" stroke="none" fill-opacity="1"/>
<circle cx="191.5" cy="635.9" r="1.0" stroke="none" fill-opacity="1"/>
<circle cx="200.6" cy="648.6" r="1.0" stroke="none" fill-opacity="1"/>
<circle cx="230.5" cy="645.0" r="1.4" stroke="none" fill-opacity="1"/>
<circle cx="269.6" cy="645.6" r="1.4" stroke="none" fill-opacity="1"/>
<circle cx="273.3" cy="640.9" r="1.0" stroke="none" fill-opacity="1"/>
<circle cx="277.9" cy="639.3" r="1.0" stroke="none" fill-opacity="1"/>
<circle cx="291.0" cy="636.9" r="1.0" stroke="none" fill-opacity="1"/>
<circle cx="303.6" cy="644.4" r="1.2" stroke="none" fill-opacity="1"/>
<circle cx="312.6" cy="629.8" r="1.6"/>
<circle cx="305.6" cy="632.9" r="1.0" stroke="none" fill-opacity="1"/>
<circle cx="314.1" cy="622.8" r="1.0" stroke="none" fill-opacity="1"/>
<circle cx="314.7" cy="586.4" r="1.0" stroke="none" fill-opacity="1"/>
<circle cx="208.7" cy="699.5" r="1.6"/>
<circle cx="215.7" cy="704.5" r="1.4"/>
<circle cx="203.2" cy="691.4" r="1.0" stroke="none" fill-opacity="1"/>
<circle cx="205.0" cy="685.8" r="1.0" stroke="none" fill-opacity="1"/>
<circle cx="207.7" cy="693.4" r="1.0" stroke="none" fill-opacity="1"/>
<circle cx="103.3" cy="662.5" r="1.0" stroke="none" fill-opacity="1"/>
<circle cx="234.9" cy="707.6" r="1.8"/>
<circle cx="343.0" cy="563.6" r="1.4"/>
<circle cx="371.9" cy="574.5" r="1.2"/>
<circle cx="385.8" cy="572.9" r="1.0" stroke="none" fill-opacity="1"/>
<circle cx="411.4" cy="575.3" r="1.0" stroke="none" fill-opacity="1"/>
<circle cx="359.4" cy="587.0" r="2.6"/>
<circle cx="397.5" cy="588.0" r="7.0"/>
<circle cx="409.0" cy="589.3" r="2.2"/>
<circle cx="451.4" cy="586.4" r="1.0"/>
<circle cx="488.6" cy="596.9" r="2.2"/>
<circle cx="352.7" cy="623.4" r="4.0"/>
<circle cx="379.1" cy="645.6" r="4.8"/>
<circle cx="360.6" cy="655.5" r="1.0" stroke="none" fill-opacity="1"/>
<circle cx="416.1" cy="661.1" r="1.0" stroke="none" fill-opacity="1"/>
<circle cx="461.1" cy="656.3" r="1.6"/>
<circle cx="280.3" cy="745.6" r="3.4"/>
<circle cx="253.9" cy="719.9" r="2.4"/>
<circle cx="382.7" cy="715.7" r="1.2" stroke="none" fill-opacity="1"/>
</g>
<g fill="#f7931e" fill-opacity="0.8" stroke="#f7931e" stroke-width="1.3">
<circle cx="270.2" cy="416.9" r="3.0"/>
<circle cx="221.2" cy="448.8" r="3.8"/>
<circle cx="133.6" cy="475.4" r="1.6"/>
<circle cx="162.6" cy="475.4" r="1.2" stroke="none" fill-opacity="1"/>
<circle cx="168.1" cy="478.7" r="1.0" stroke="none" fill-opacity="1"/>
<circle cx="175.8" cy="490.0" r="1.0" stroke="none" fill-opacity="1"/>
<circle cx="177.2" cy="496.6" r="1.0" stroke="none" fill-opacity="1"/>
<circle cx="152.9" cy="498.1" r="1.2" stroke="none" fill-opacity="1"/>
<circle cx="121.0" cy="506.9" r="1.0" stroke="none" fill-opacity="1"/>
<circle cx="165.3" cy="510.2" r="1.4" stroke="none" fill-opacity="1"/>
<circle cx="192.5" cy="503.1" r="1.2" stroke="none" fill-opacity="1"/>
<circle cx="187.5" cy="515.2" r="1.0" stroke="none" fill-opacity="1"/>
<circle cx="158.8" cy="515.8" r="1.0" stroke="none" fill-opacity="1"/>
<circle cx="181.4" cy="519.7" r="1.0" stroke="none" fill-opacity="1"/>
<circle cx="156.4" cy="524.3" r="1.0" stroke="none" fill-opacity="1"/>
<circle cx="154.4" cy="528.9" r="1.0" stroke="none" fill-opacity="1"/>
<circle cx="150.7" cy="534.4" r="1.2"/>
<circle cx="154.4" cy="536.0" r="1.2" stroke="none" fill-opacity="1"/>
<circle cx="159.2" cy="537.8" r="1.0" stroke="none" fill-opacity="1"/>
<circle cx="164.3" cy="533.4" r="1.2" stroke="none" fill-opacity="1"/>
<circle cx="163.2" cy="536.4" r="1.0" stroke="none" fill-opacity="1"/>
<circle cx="124.5" cy="538.8" r="1.0" stroke="none" fill-opacity="1"/>
<circle cx="126.9" cy="540.5" r="1.0" stroke="none" fill-opacity="1"/>
<circle cx="135.0" cy="537.4" r="1.0" stroke="none" fill-opacity="1"/>
<circle cx="142.0" cy="541.1" r="1.0" stroke="none" fill-opacity="1"/>
<circle cx="137.0" cy="543.5" r="1.0" stroke="none" fill-opacity="1"/>
<circle cx="137.0" cy="546.5" r="1.0" stroke="none" fill-opacity="1"/>
<circle cx="129.9" cy="549.5" r="1.0" stroke="none" fill-opacity="1"/>
<circle cx="136.0" cy="549.5" r="0.9" stroke="none" fill-opacity="1"/>
<circle cx="160.8" cy="548.9" r="1.0" stroke="none" fill-opacity="1"/>
<circle cx="115.8" cy="552.6" r="1.2"/>
<circle cx="192.5" cy="540.0" r="1.0"/>
<circle cx="197.6" cy="542.1" r="1.4"/>
<circle cx="195.9" cy="528.7" r="1.0" stroke="none" fill-opacity="1"/>
<circle cx="203.2" cy="546.5" r="1.0" stroke="none" fill-opacity="1"/>
<circle cx="276.9" cy="485.1" r="1.0" stroke="none" fill-opacity="1"/>
<circle cx="273.7" cy="500.7" r="1.4" stroke="none" fill-opacity="1"/>
<circle cx="291.4" cy="461.3" r="1.4" stroke="none" fill-opacity="1"/>
<circle cx="287.4" cy="450.6" r="1.2" stroke="none" fill-opacity="1"/>
<circle cx="309.6" cy="488.0" r="1.4" stroke="none" fill-opacity="1"/>
<circle cx="318.3" cy="500.5" r="1.4" stroke="none" fill-opacity="1"/>
<circle cx="304.0" cy="541.5" r="1.4" stroke="none" fill-opacity="1"/>
<circle cx="297.9" cy="546.5" r="3.0"/>
<circle cx="269.2" cy="540.9" r="1.2" stroke="none" fill-opacity="1"/>
<circle cx="276.3" cy="552.6" r="1.0"/>
<circle cx="260.8" cy="412.3" r="1.0" stroke="none" fill-opacity="1"/>
<circle cx="260.1" cy="416.9" r="1.0" stroke="none" fill-opacity="1"/>
<circle cx="265.4" cy="421.3" r="1.0" stroke="none" fill-opacity="1"/>
<circle cx="260.1" cy="425.0" r="1.0" stroke="none" fill-opacity="1"/>
<circle cx="264.8" cy="426.4" r="1.2"/>
<circle cx="261.2" cy="428.4" r="1.2" stroke="none" fill-opacity="1"/>
<circle cx="267.2" cy="428.4" r="1.0" stroke="none" fill-opacity="1"/>
<circle cx="272.9" cy="424.4" r="1.0" stroke="none" fill-opacity="1"/>
<circle cx="273.3" cy="428.4" r="1.0" stroke="none" fill-opacity="1"/>
<circle cx="279.7" cy="429.0" r="1.0" stroke="none" fill-opacity="1"/>
<circle cx="283.4" cy="433.9" r="1.4" stroke="none" fill-opacity="1"/>
<circle cx="287.8" cy="425.0" r="1.0" stroke="none" fill-opacity="1"/>
<circle cx="261.8" cy="434.7" r="1.0" stroke="none" fill-opacity="1"/>
<circle cx="264.8" cy="433.5" r="0.9" stroke="none" fill-opacity="1"/>
<circle cx="275.7" cy="437.9" r="1.4"/>
<circle cx="281.7" cy="437.5" r="1.2" stroke="none" fill-opacity="1"/>
<circle cx="276.7" cy="440.5" r="1.0" stroke="none" fill-opacity="1"/>
<circle cx="281.3" cy="440.9" r="0.9" stroke="none" fill-opacity="1"/>
<circle cx="435.5" cy="423.0" r="2.6"/>
<circle cx="431.6" cy="415.9" r="1.2" stroke="none" fill-opacity="1"/>
<circle cx="364.8" cy="457.5" r="3.4"/>
<circle cx="410.4" cy="465.3" r="1.4" stroke="none" fill-opacity="1"/>
<circle cx="381.8" cy="475.0" r="1.0" stroke="none" fill-opacity="1"/>
<circle cx="333.1" cy="493.4" r="1.4" stroke="none" fill-opacity="1"/>
<circle cx="359.6" cy="489.0" r="1.0" stroke="none" fill-opacity="1"/>
<circle cx="370.7" cy="527.3" r="1.0" stroke="none" fill-opacity="1"/>
<circle cx="359.2" cy="535.4" r="1.2" stroke="none" fill-opacity="1"/>
<circle cx="373.1" cy="540.5" r="1.2" stroke="none" fill-opacity="1"/>
<circle cx="372.7" cy="543.9" r="1.0" stroke="none" fill-opacity="1"/>
<circle cx="424.0" cy="536.4" r="1.2" stroke="none" fill-opacity="1"/>
<circle cx="430.6" cy="547.5" r="1.0"/>
<circle cx="432.6" cy="550.5" r="1.2" stroke="none" fill-opacity="1"/>
<circle cx="408.0" cy="552.6" r="1.0"/>
<circle cx="339.4" cy="552.2" r="3.0"/>
<circle cx="301.0" cy="547.5" r="1.4"/>
<circle cx="491.4" cy="527.1" r="3.0"/>
<circle cx="497.8" cy="527.9" r="1.0" stroke="none" fill-opacity="1"/>
<circle cx="492.8" cy="534.0" r="1.0" stroke="none" fill-opacity="1"/>
<circle cx="519.9" cy="527.5" r="5.0"/>
<circle cx="528.1" cy="537.2" r="3.8"/>
<circle cx="524.5" cy="545.7" r="2.8"/>
<circle cx="527.1" cy="552.2" r="2.2"/>
<circle cx="541.7" cy="550.9" r="1.4"/>
<circle cx="496.8" cy="540.9" r="1.2"/>
<circle cx="489.8" cy="544.5" r="1.0" stroke="none" fill-opacity="1"/>
<circle cx="474.2" cy="536.8" r="1.2" stroke="none" fill-opacity="1"/>
<circle cx="465.3" cy="550.9" r="2.6"/>
<circle cx="120.8" cy="554.1" r="1.0" stroke="none" fill-opacity="1"/>
<circle cx="107.7" cy="564.2" r="1.2" stroke="none" fill-opacity="1"/>
<circle cx="110.8" cy="565.8" r="1.0"/>
<circle cx="115.8" cy="565.8" r="1.0" stroke="none" fill-opacity="1"/>
<circle cx="117.2" cy="562.2" r="1.0"/>
<circle cx="83.1" cy="590.5" r="1.0"/>
<circle cx="147.9" cy="571.9" r="1.0" stroke="none" fill-opacity="1"/>
<circle cx="103.1" cy="604.2" r="1.0" stroke="none" fill-opacity="1"/>
<circle cx="96.4" cy="614.7" r="1.2" stroke="none" fill-opacity="1"/>
<circle cx="109.5" cy="618.1" r="1.0" stroke="none" fill-opacity="1"/>
<circle cx="124.5" cy="608.6" r="1.0" stroke="none" fill-opacity="1"/>
<circle cx="151.7" cy="606.8" r="1.0" stroke="none" fill-opacity="1"/>
<circle cx="46.4" cy="617.1" r="1.2" stroke="none" fill-opacity="1"/>
<circle cx="53.6" cy="620.8" r="1.2" stroke="none" fill-opacity="1"/>
<circle cx="56.4" cy="629.0" r="1.0" stroke="none" fill-opacity="1"/>
<circle cx="69.4" cy="624.8" r="1.2" stroke="none" fill-opacity="1"/>
<circle cx="65.9" cy="636.3" r="1.0" stroke="none" fill-opacity="1"/>
<circle cx="76.0" cy="634.9" r="1.0" stroke="none" fill-opacity="1"/>
<circle cx="77.2" cy="639.9" r="1.0" stroke="none" fill-opacity="1"/>
<circle cx="83.9" cy="635.5" r="1.2" stroke="none" fill-opacity="1"/>
<circle cx="93.8" cy="630.2" r="1.0" stroke="none" fill-opacity="1"/>
<circle cx="95.6" cy="633.3" r="1.4" stroke="none" fill-opacity="1"/>
<circle cx="100.7" cy="629.8" r="1.0"/>
<circle cx="69.0" cy="643.4" r="1.0" stroke="none" fill-opacity="1"/>
<circle cx="56.9" cy="647.4" r="1.0" stroke="none" fill-opacity="1"/>
<circle cx="54.8" cy="651.6" r="1.0" stroke="none" fill-opacity="1"/>
<circle cx="72.0" cy="651.4" r="1.4" stroke="none" fill-opacity="1"/>
<circle cx="74.0" cy="653.5" r="1.0" stroke="none" fill-opacity="1"/>
<circle cx="70.4" cy="655.7" r="1.0" stroke="none" fill-opacity="1"/>
<circle cx="74.4" cy="657.1" r="1.0" stroke="none" fill-opacity="1"/>
<circle cx="81.5" cy="650.4" r="1.2" stroke="none" fill-opacity="1"/>
<circle cx="83.5" cy="654.5" r="1.0" stroke="none" fill-opacity="1"/>
<circle cx="89.2" cy="655.5" r="1.0" stroke="none" fill-opacity="1"/>
<circle cx="90.6" cy="651.6" r="1.0" stroke="none" fill-opacity="1"/>
<circle cx="95.0" cy="648.6" r="1.0" stroke="none" fill-opacity="1"/>
<circle cx="86.9" cy="659.1" r="1.0" stroke="none" fill-opacity="1"/>
<circle cx="76.8" cy="660.5" r="1.0" stroke="none" fill-opacity="1"/>
<circle cx="106.7" cy="651.2" r="1.4" stroke="none" fill-opacity="1"/>
<circle cx="140.0" cy="627.4" r="1.0" stroke="none" fill-opacity="1"/>
<circle cx="140.6" cy="644.0" r="1.0" stroke="none" fill-opacity="1"/>
<circle cx="150.7" cy="639.5" r="1.2" stroke="none" fill-opacity="1"/>
<circle cx="159.0" cy="614.9" r="1.0" stroke="none" fill-opacity="1"/>
<circle cx="158.2" cy="619.1" r="1.4" stroke="none" fill-opacity="1"/>
<circle cx="164.9" cy="619.7" r="1.2" stroke="none" fill-opacity="1"/>
<circle cx="164.3" cy="623.2" r="1.0" stroke="none" fill-opacity="1"/>
<circle cx="159.2" cy="630.8" r="1.4" stroke="none" fill-opacity="1"/>
<circle cx="163.6" cy="631.5" r="1.0" stroke="none" fill-opacity="1"/>
<circle cx="168.3" cy="628.4" r="1.0" stroke="none" fill-opacity="1"/>
<circle cx="172.7" cy="628.4" r="1.0" stroke="none" fill-opacity="1"/>
<circle cx="175.8" cy="625.8" r="1.0" stroke="none" fill-opacity="1"/>
<circle cx="182.4" cy="626.2" r="1.0" stroke="none" fill-opacity="1"/>
<circle cx="171.9" cy="609.0" r="1.0" stroke="none" fill-opacity="1"/>
<circle cx="184.0" cy="610.1" r="1.0" stroke="none" fill-opacity="1"/>
<circle cx="189.9" cy="613.3" r="1.2" stroke="none" fill-opacity="1"/>
<circle cx="198.2" cy="606.6" r="1.0" stroke="none" fill-opacity="1"/>
<circle cx="197.0" cy="617.1" r="1.0" stroke="none" fill-opacity="1"/>
<circle cx="192.1" cy="621.8" r="1.0" stroke="none" fill-opacity="1"/>
<circle cx="200.6" cy="625.8" r="1.2" stroke="none" fill-opacity="1"/>
<circle cx="214.7" cy="616.7" r="1.0" stroke="none" fill-opacity="1"/>
<circle cx="198.2" cy="594.1" r="1.0" stroke="none" fill-opacity="1"/>
<circle cx="201.0" cy="591.9" r="1.0" stroke="none" fill-opacity="1"/>
<circle cx="204.0" cy="589.1" r="1.0" stroke="none" fill-opacity="1"/>
<circle cx="158.8" cy="647.4" r="2.2"/>
<circle cx="157.0" cy="651.6" r="1.6"/>
<circle cx="173.5" cy="653.1" r="2.2"/>
<circle cx="206.6" cy="634.3" r="1.2"/>
<circle cx="205.2" cy="663.1" r="6.0"/>
<circle cx="194.7" cy="668.6" r="1.6"/>
<circle cx="195.9" cy="673.2" r="2.2"/>
<circle cx="223.4" cy="684.3" r="6.8"/>
<circle cx="194.5" cy="688.4" r="1.6"/>
<circle cx="202.6" cy="683.3" r="1.2" stroke="none" fill-opacity="1"/>
<circle cx="197.2" cy="697.5" r="1.4" stroke="none" fill-opacity="1"/>
<circle cx="201.6" cy="698.5" r="1.2" stroke="none" fill-opacity="1"/>
<circle cx="210.7" cy="696.1" r="1.0" stroke="none" fill-opacity="1"/>
<circle cx="213.3" cy="651.6" r="1.0"/>
<circle cx="250.5" cy="633.9" r="1.6"/>
<circle cx="245.4" cy="628.0" r="1.0" stroke="none" fill-opacity="1"/>
<circle cx="251.7" cy="616.1" r="1.4"/>
<circle cx="247.6" cy="612.7" r="1.2" stroke="none" fill-opacity="1"/>
<circle cx="256.1" cy="612.1" r="1.0" stroke="none" fill-opacity="1"/>
<circle cx="246.4" cy="607.0" r="1.0" stroke="none" fill-opacity="1"/>
<circle cx="239.6" cy="618.3" r="1.2" stroke="none" fill-opacity="1"/>
<circle cx="244.6" cy="595.5" r="1.0" stroke="none" fill-opacity="1"/>
<circle cx="247.0" cy="593.9" r="1.0" stroke="none" fill-opacity="1"/>
<circle cx="250.1" cy="596.5" r="1.0" stroke="none" fill-opacity="1"/>
<circle cx="255.1" cy="598.5" r="1.0" stroke="none" fill-opacity="1"/>
<circle cx="258.1" cy="596.1" r="1.0" stroke="none" fill-opacity="1"/>
<circle cx="229.5" cy="584.8" r="1.0" stroke="none" fill-opacity="1"/>
<circle cx="232.3" cy="587.0" r="1.0" stroke="none" fill-opacity="1"/>
<circle cx="277.7" cy="566.4" r="1.0" stroke="none" fill-opacity="1"/>
<circle cx="284.8" cy="571.3" r="1.0" stroke="none" fill-opacity="1"/>
<circle cx="284.0" cy="574.7" r="1.0" stroke="none" fill-opacity="1"/>
<circle cx="271.7" cy="587.0" r="1.0" stroke="none" fill-opacity="1"/>
<circle cx="300.5" cy="569.3" r="1.0"/>
<circle cx="286.4" cy="561.8" r="1.0" stroke="none" fill-opacity="1"/>
<circle cx="287.8" cy="554.1" r="1.2" stroke="none" fill-opacity="1"/>
<circle cx="262.6" cy="553.7" r="1.0" stroke="none" fill-opacity="1"/>
<circle cx="258.5" cy="551.5" r="1.0" stroke="none" fill-opacity="1"/>
<circle cx="225.8" cy="557.2" r="1.4" stroke="none" fill-opacity="1"/>
<circle cx="247.0" cy="564.6" r="1.2" stroke="none" fill-opacity="1"/>
<circle cx="240.0" cy="569.3" r="1.0" stroke="none" fill-opacity="1"/>
<circle cx="299.5" cy="552.5" r="1.0"/>
<circle cx="309.6" cy="542.4" r="1.0" stroke="none" fill-opacity="1"/>
<circle cx="282.4" cy="549.7" r="1.0" stroke="none" fill-opacity="1"/>
<circle cx="265.2" cy="637.5" r="1.0" stroke="none" fill-opacity="1"/>
<circle cx="267.2" cy="657.7" r="1.6"/>
<circle cx="286.0" cy="646.0" r="1.4" stroke="none" fill-opacity="1"/>
<circle cx="292.0" cy="659.7" r="1.2"/>
<circle cx="309.0" cy="655.1" r="1.4" stroke="none" fill-opacity="1"/>
<circle cx="255.9" cy="672.6" r="2.2"/>
<circle cx="270.2" cy="674.5" r="3.0"/>
<circle cx="285.6" cy="674.1" r="2.0"/>
<circle cx="263.8" cy="681.1" r="2.6"/>
<circle cx="274.9" cy="683.7" r="1.6"/>
<circle cx="286.6" cy="691.8" r="2.2"/>
<circle cx="296.5" cy="681.9" r="1.4" stroke="none" fill-opacity="1"/>
<circle cx="316.1" cy="677.1" r="1.0"/>
<circle cx="315.7" cy="686.0" r="1.0"/>
<circle cx="318.5" cy="635.3" r="1.2" stroke="none" fill-opacity="1"/>
<circle cx="320.7" cy="600.6" r="1.2" stroke="none" fill-opacity="1"/>
<circle cx="327.4" cy="618.3" r="3.0"/>
<circle cx="238.1" cy="702.1" r="2.2"/>
<circle cx="239.0" cy="708.2" r="1.4"/>
<circle cx="314.7" cy="703.9" r="3.4"/>
<circle cx="284.8" cy="707.0" r="1.0" stroke="none" fill-opacity="1"/>
<circle cx="103.3" cy="675.9" r="1.2" stroke="none" fill-opacity="1"/>
<circle cx="108.7" cy="679.7" r="1.0" stroke="none" fill-opacity="1"/>
<circle cx="120.8" cy="546.5" r="1.0" stroke="none" fill-opacity="1"/>
<circle cx="356.3" cy="561.8" r="3.0"/>
<circle cx="389.2" cy="562.8" r="6.8"/>
<circle cx="426.8" cy="558.8" r="3.4"/>
<circle cx="435.7" cy="569.3" r="4.0"/>
<circle cx="410.0" cy="559.2" r="1.0" stroke="none" fill-opacity="1"/>
<circle cx="421.5" cy="562.2" r="1.2" stroke="none" fill-opacity="1"/>
<circle cx="418.7" cy="573.7" r="1.0" stroke="none" fill-opacity="1"/>
<circle cx="426.2" cy="586.2" r="8.8"/>
<circle cx="447.8" cy="599.2" r="3.0"/>
<circle cx="459.9" cy="571.5" r="3.2"/>
<circle cx="480.9" cy="570.7" r="1.0" stroke="none" fill-opacity="1"/>
<circle cx="481.3" cy="577.6" r="1.4"/>
<circle cx="484.1" cy="591.7" r="1.8"/>
<circle cx="477.1" cy="613.1" r="1.0" stroke="none" fill-opacity="1"/>
<circle cx="525.5" cy="576.3" r="6.6"/>
<circle cx="521.1" cy="584.0" r="1.6"/>
<circle cx="534.2" cy="582.0" r="1.0"/>
<circle cx="538.2" cy="575.3" r="1.2" stroke="none" fill-opacity="1"/>
<circle cx="345.4" cy="574.3" r="1.0" stroke="none" fill-opacity="1"/>
<circle cx="379.1" cy="582.8" r="1.0" stroke="none" fill-opacity="1"/>
<circle cx="381.0" cy="588.5" r="1.0" stroke="none" fill-opacity="1"/>
<circle cx="382.6" cy="616.9" r="3.0"/>
<circle cx="427.8" cy="623.0" r="9.4"/>
<circle cx="332.3" cy="639.9" r="2.8"/>
<circle cx="403.0" cy="639.1" r="2.4"/>
<circle cx="426.4" cy="643.8" r="2.0"/>
<circle cx="388.0" cy="652.7" r="1.4"/>
<circle cx="394.5" cy="658.7" r="1.4" stroke="none" fill-opacity="1"/>
<circle cx="406.2" cy="667.4" r="2.4"/>
<circle cx="331.1" cy="680.7" r="1.4"/>
<circle cx="345.0" cy="684.1" r="1.8"/>
<circle cx="463.7" cy="626.2" r="1.2"/>
<circle cx="466.6" cy="644.0" r="1.0"/>
<circle cx="439.7" cy="676.7" r="4.2"/>
<circle cx="402.4" cy="698.5" r="11.1"/>
<circle cx="431.8" cy="694.8" r="8.2"/>
<circle cx="294.5" cy="716.3" r="2.6"/>
<circle cx="285.8" cy="730.4" r="3.8"/>
<circle cx="325.8" cy="712.3" r="3.4"/>
<circle cx="321.1" cy="714.7" r="1.0"/>
<circle cx="287.4" cy="739.9" r="1.2" stroke="none" fill-opacity="1"/>
<circle cx="292.9" cy="736.9" r="1.0" stroke="none" fill-opacity="1"/>
<circle cx="292.9" cy="749.6" r="1.4"/>
<circle cx="294.3" cy="773.6" r="1.2"/>
<circle cx="319.1" cy="744.6" r="1.2" stroke="none" fill-opacity="1"/>
<circle cx="337.3" cy="753.1" r="1.0"/>
<circle cx="339.3" cy="737.5" r="1.0" stroke="none" fill-opacity="1"/>
<circle cx="331.8" cy="727.2" r="1.0" stroke="none" fill-opacity="1"/>
<circle cx="281.8" cy="722.2" r="1.0" stroke="none" fill-opacity="1"/>
<circle cx="425.1" cy="719.7" r="5.4"/>
<circle cx="411.6" cy="716.1" r="1.0"/>
<circle cx="392.4" cy="716.7" r="1.0" stroke="none" fill-opacity="1"/>
<circle cx="286.4" cy="712.7" r="1.2" stroke="none" fill-opacity="1"/>
</g>
<rect x="13.8" y="17.6" width="8.8" height="36.7" fill="#8ecf4b"/>
<rect x="13.8" y="54.0" width="8.8" height="37.2" fill="#47c2a0"/>
<rect x="13.8" y="90.9" width="8.8" height="34.9" fill="#347b8c"/>
<rect x="13.8" y="125.5" width="8.8" height="36.8" fill="#484a90"/>
<rect x="13.8" y="162.0" width="8.8" height="36.6" fill="#3c1a59"/>
<path d="M22 54.5H32.6M22 163.7H32.6" stroke="#000" stroke-width="1.2"/>
<text transform="translate(28.33 39.70) scale(1 0.980)" font-size="15.2" letter-spacing="0.18" fill="#000">WB</text>
<text transform="translate(27.24 187.00) scale(1 1.030)" font-size="14.2" letter-spacing="-0.40" fill="#000">NF</text>
<text transform="translate(38.6 148.1) rotate(-90)" font-size="13.7">Open areas<tspan font-size="8" dy="-5">1</tspan></text>
<g>
<defs><clipPath id="jagclip"><path d="M154.6 303.6Q156.7 305.0 159.4 303.3Q162.1 301.6 166.8 301.9Q171.5 302.3 173.5 305.3Q175.6 308.4 177.6 312.4Q179.6 316.5 180.6 320.5Q181.6 324.6 181.3 327.3Q181.0 330.0 178.3 331.7Q175.6 333.3 172.9 332.7Q170.2 332.0 166.1 331.7Q162.1 331.3 158.7 332.7Q155.3 334.0 151.9 339.4Q148.5 344.8 145.8 348.9Q143.1 352.9 142.5 357.0Q141.8 361.0 141.1 366.4Q140.4 371.8 139.8 375.9Q139.1 379.9 142.1 381.6Q145.2 383.3 144.8 385.0Q144.5 386.7 139.8 388.4Q135.0 390.1 131.3 389.7Q127.6 389.4 126.9 386.7Q126.3 384.0 125.9 379.3Q125.6 374.5 124.2 369.1Q122.9 363.7 121.5 360.4Q120.2 357.0 114.1 357.3Q108.0 357.7 101.3 357.3Q94.5 357.0 89.1 356.3Q83.7 355.6 81.7 356.3Q79.7 357.0 79.3 360.4Q79.0 363.7 78.7 368.5Q78.3 373.2 81.0 377.2Q83.7 381.3 87.1 383.0Q90.5 384.7 91.2 386.3Q91.8 388.0 89.1 389.0Q86.4 390.1 82.4 389.7Q78.3 389.4 75.6 386.0Q72.9 382.6 69.5 378.6Q66.2 374.5 64.8 370.5Q63.5 366.4 61.4 363.1Q59.4 359.7 58.1 358.3Q56.7 357.0 55.4 359.0Q54.0 361.0 50.6 364.4Q47.3 367.8 45.2 371.2Q43.2 374.5 44.6 376.9Q45.9 379.3 47.9 380.9Q50.0 382.6 49.3 384.3Q48.6 386.0 44.6 386.3Q40.5 386.7 38.5 384.7Q36.5 382.6 35.1 378.6Q33.8 374.5 33.8 371.2Q33.8 367.8 31.7 367.1Q29.7 366.4 28.4 367.8Q27.0 369.1 23.6 370.1Q20.3 371.2 16.9 370.1Q13.5 369.1 11.5 366.4Q9.5 363.7 9.5 360.4Q9.5 357.0 11.5 354.6Q13.5 352.2 16.2 351.9Q18.9 351.6 19.9 352.9Q20.9 354.3 19.2 355.6Q17.6 357.0 16.2 358.3Q14.9 359.7 16.2 362.4Q17.6 365.1 20.3 365.1Q23.0 365.1 25.7 363.1Q28.4 361.0 30.0 357.7Q31.7 354.3 32.1 349.5Q32.4 344.8 33.1 339.4Q33.8 334.0 35.8 329.3Q37.8 324.6 41.9 320.5Q45.9 316.5 51.3 313.8Q56.7 311.1 62.1 310.0Q67.5 309.0 74.3 308.7Q81.0 308.4 87.8 308.5Q94.5 308.6 101.3 309.2Q108.0 309.7 114.8 310.7Q121.5 311.7 124.9 311.4Q128.3 311.1 133.0 309.7Q137.7 308.4 141.8 306.7Q145.8 305.0 149.2 303.6Q152.6 302.3 154.6 303.6Z"/></clipPath><linearGradient id="jg" x1="0" y1="0" x2="0" y2="1"><stop offset="0" stop-color="#b27a2a"/><stop offset="0.45" stop-color="#d6a450"/><stop offset="1" stop-color="#e2c488"/></linearGradient></defs>
<path d="M154.6 303.6Q156.7 305.0 159.4 303.3Q162.1 301.6 166.8 301.9Q171.5 302.3 173.5 305.3Q175.6 308.4 177.6 312.4Q179.6 316.5 180.6 320.5Q181.6 324.6 181.3 327.3Q181.0 330.0 178.3 331.7Q175.6 333.3 172.9 332.7Q170.2 332.0 166.1 331.7Q162.1 331.3 158.7 332.7Q155.3 334.0 151.9 339.4Q148.5 344.8 145.8 348.9Q143.1 352.9 142.5 357.0Q141.8 361.0 141.1 366.4Q140.4 371.8 139.8 375.9Q139.1 379.9 142.1 381.6Q145.2 383.3 144.8 385.0Q144.5 386.7 139.8 388.4Q135.0 390.1 131.3 389.7Q127.6 389.4 126.9 386.7Q126.3 384.0 125.9 379.3Q125.6 374.5 124.2 369.1Q122.9 363.7 121.5 360.4Q120.2 357.0 114.1 357.3Q108.0 357.7 101.3 357.3Q94.5 357.0 89.1 356.3Q83.7 355.6 81.7 356.3Q79.7 357.0 79.3 360.4Q79.0 363.7 78.7 368.5Q78.3 373.2 81.0 377.2Q83.7 381.3 87.1 383.0Q90.5 384.7 91.2 386.3Q91.8 388.0 89.1 389.0Q86.4 390.1 82.4 389.7Q78.3 389.4 75.6 386.0Q72.9 382.6 69.5 378.6Q66.2 374.5 64.8 370.5Q63.5 366.4 61.4 363.1Q59.4 359.7 58.1 358.3Q56.7 357.0 55.4 359.0Q54.0 361.0 50.6 364.4Q47.3 367.8 45.2 371.2Q43.2 374.5 44.6 376.9Q45.9 379.3 47.9 380.9Q50.0 382.6 49.3 384.3Q48.6 386.0 44.6 386.3Q40.5 386.7 38.5 384.7Q36.5 382.6 35.1 378.6Q33.8 374.5 33.8 371.2Q33.8 367.8 31.7 367.1Q29.7 366.4 28.4 367.8Q27.0 369.1 23.6 370.1Q20.3 371.2 16.9 370.1Q13.5 369.1 11.5 366.4Q9.5 363.7 9.5 360.4Q9.5 357.0 11.5 354.6Q13.5 352.2 16.2 351.9Q18.9 351.6 19.9 352.9Q20.9 354.3 19.2 355.6Q17.6 357.0 16.2 358.3Q14.9 359.7 16.2 362.4Q17.6 365.1 20.3 365.1Q23.0 365.1 25.7 363.1Q28.4 361.0 30.0 357.7Q31.7 354.3 32.1 349.5Q32.4 344.8 33.1 339.4Q33.8 334.0 35.8 329.3Q37.8 324.6 41.9 320.5Q45.9 316.5 51.3 313.8Q56.7 311.1 62.1 310.0Q67.5 309.0 74.3 308.7Q81.0 308.4 87.8 308.5Q94.5 308.6 101.3 309.2Q108.0 309.7 114.8 310.7Q121.5 311.7 124.9 311.4Q128.3 311.1 133.0 309.7Q137.7 308.4 141.8 306.7Q145.8 305.0 149.2 303.6Q152.6 302.3 154.6 303.6Z" fill="url(#jg)" stroke="#3a2a18" stroke-width="0.5" stroke-linejoin="round"/>
<g clip-path="url(#jagclip)">
<path d="M79.0 353.3Q79.7 350.9 87.1 351.9Q94.5 352.9 101.3 353.3Q108.0 353.6 114.8 352.9Q121.5 352.2 124.2 353.9Q126.9 355.6 123.6 356.6Q120.2 357.7 114.1 358.0Q108.0 358.3 101.3 358.0Q94.5 357.7 89.1 357.0Q83.7 356.3 81.0 356.0Q78.3 355.6 79.0 353.3Z" fill="#efe9dc"/>
<path d="M146.5 330.6Q148.5 324.6 152.6 324.6Q156.7 324.6 159.4 327.9Q162.1 331.3 158.7 332.7Q155.3 334.0 151.9 339.4Q148.5 344.8 145.8 348.9Q143.1 352.9 141.8 350.2Q140.4 347.5 142.5 342.1Q144.5 336.7 146.5 330.6Z" fill="#efe9dc"/>
<path d="M33.8 371.2Q33.8 367.8 38.5 356.3Q43.2 344.8 44.6 338.1Q45.9 331.3 47.9 338.1Q50.0 344.8 53.3 350.9Q56.7 357.0 52.0 362.4Q47.3 367.8 45.2 371.2Q43.2 374.5 44.6 376.9Q45.9 379.3 47.9 380.9Q50.0 382.6 49.3 384.3Q48.6 386.0 44.6 386.3Q40.5 386.7 38.5 384.7Q36.5 382.6 35.1 378.6Q33.8 374.5 33.8 371.2Z" fill="#e6dcc6"/>
<path d="M29.0 363.7Q29.7 366.4 28.4 367.8Q27.0 369.1 23.6 370.1Q20.3 371.2 16.9 370.1Q13.5 369.1 11.5 366.4Q9.5 363.7 9.5 360.4Q9.5 357.0 11.5 354.6Q13.5 352.2 16.2 351.9Q18.9 351.6 19.9 352.9Q20.9 354.3 19.2 355.6Q17.6 357.0 16.2 358.3Q14.9 359.7 16.2 362.4Q17.6 365.1 20.3 365.1Q23.0 365.1 25.7 363.1Q28.4 361.0 29.0 363.7Z" fill="#efe9dc"/>
<path d="M127.3 386.7Q126.9 384.0 136.1 383.6Q145.2 383.3 144.8 385.0Q144.5 386.7 139.8 388.4Q135.0 390.1 131.3 389.7Q127.6 389.4 127.3 386.7Z" fill="#e9e2d2"/>
<path d="M77.0 386.7Q75.6 384.0 83.1 384.3Q90.5 384.7 91.2 386.3Q91.8 388.0 89.1 389.0Q86.4 390.1 82.4 389.7Q78.3 389.4 77.0 386.7Z" fill="#e9e2d2"/>
<path d="M38.5 383.3Q36.5 379.9 43.2 381.3Q50.0 382.6 49.3 384.3Q48.6 386.0 44.6 386.3Q40.5 386.7 38.5 383.3Z" fill="#e9e2d2"/>
<g fill="#ad5f24"><ellipse cx="59.7" cy="310.9" rx="1.9" ry="1.6"/><ellipse cx="65.3" cy="309.7" rx="1.6" ry="1.4"/><ellipse cx="73.5" cy="309.9" rx="1.7" ry="1.4"/><ellipse cx="80.7" cy="309.7" rx="1.8" ry="1.5"/><ellipse cx="86.9" cy="309.7" rx="2.0" ry="1.7"/><ellipse cx="94.8" cy="310.5" rx="2.0" ry="1.6"/><ellipse cx="101.2" cy="310.3" rx="1.6" ry="1.3"/><ellipse cx="107.2" cy="310.6" rx="1.7" ry="1.4"/><ellipse cx="135.9" cy="310.8" rx="1.7" ry="1.4"/><ellipse cx="48.8" cy="316.4" rx="1.7" ry="1.4"/><ellipse cx="54.5" cy="316.5" rx="2.0" ry="1.6"/><ellipse cx="61.5" cy="315.8" rx="2.0" ry="1.7"/><ellipse cx="69.6" cy="316.7" rx="1.7" ry="1.4"/><ellipse cx="76.2" cy="316.9" rx="1.7" ry="1.4"/><ellipse cx="84.0" cy="316.0" rx="1.7" ry="1.4"/><ellipse cx="89.9" cy="315.5" rx="1.6" ry="1.3"/><ellipse cx="96.6" cy="316.2" rx="1.7" ry="1.4"/><ellipse cx="105.0" cy="316.0" rx="2.0" ry="1.7"/><ellipse cx="110.7" cy="316.1" rx="1.7" ry="1.4"/><ellipse cx="117.7" cy="315.8" rx="1.7" ry="1.4"/><ellipse cx="124.9" cy="315.5" rx="2.0" ry="1.7"/><ellipse cx="133.4" cy="316.4" rx="1.9" ry="1.6"/><ellipse cx="45.6" cy="322.7" rx="1.7" ry="1.4"/><ellipse cx="52.5" cy="322.0" rx="1.9" ry="1.5"/><ellipse cx="59.7" cy="321.3" rx="2.0" ry="1.7"/><ellipse cx="66.7" cy="321.4" rx="2.0" ry="1.7"/><ellipse cx="73.2" cy="322.1" rx="1.9" ry="1.6"/><ellipse cx="80.7" cy="321.2" rx="2.0" ry="1.6"/><ellipse cx="87.7" cy="322.1" rx="2.0" ry="1.6"/><ellipse cx="94.7" cy="322.4" rx="1.8" ry="1.5"/><ellipse cx="101.2" cy="322.0" rx="2.0" ry="1.6"/><ellipse cx="108.5" cy="322.0" rx="1.5" ry="1.3"/><ellipse cx="115.1" cy="321.8" rx="1.9" ry="1.6"/><ellipse cx="123.0" cy="321.3" rx="1.6" ry="1.3"/><ellipse cx="129.0" cy="322.6" rx="1.9" ry="1.6"/><ellipse cx="135.8" cy="322.5" rx="1.7" ry="1.5"/><ellipse cx="40.7" cy="327.2" rx="1.8" ry="1.5"/><ellipse cx="48.7" cy="327.0" rx="1.7" ry="1.4"/><ellipse cx="55.3" cy="327.1" rx="1.7" ry="1.4"/><ellipse cx="63.3" cy="328.0" rx="1.9" ry="1.6"/><ellipse cx="69.4" cy="328.5" rx="1.7" ry="1.4"/><ellipse cx="76.3" cy="327.2" rx="1.9" ry="1.6"/><ellipse cx="82.7" cy="327.2" rx="1.9" ry="1.6"/><ellipse cx="90.6" cy="327.6" rx="1.8" ry="1.5"/><ellipse cx="96.9" cy="328.1" rx="1.7" ry="1.4"/><ellipse cx="105.4" cy="328.3" rx="1.9" ry="1.6"/><ellipse cx="111.7" cy="327.8" rx="1.8" ry="1.5"/><ellipse cx="117.8" cy="328.1" rx="1.9" ry="1.6"/><ellipse cx="125.2" cy="328.5" rx="1.7" ry="1.4"/><ellipse cx="132.3" cy="327.4" rx="1.7" ry="1.4"/><ellipse cx="45.4" cy="333.3" rx="1.7" ry="1.4"/><ellipse cx="52.2" cy="333.8" rx="1.7" ry="1.4"/><ellipse cx="58.1" cy="334.4" rx="2.0" ry="1.7"/><ellipse cx="65.1" cy="333.2" rx="1.6" ry="1.4"/><ellipse cx="72.3" cy="333.2" rx="1.7" ry="1.4"/><ellipse cx="80.3" cy="333.7" rx="2.0" ry="1.7"/><ellipse cx="86.2" cy="332.9" rx="1.7" ry="1.4"/><ellipse cx="93.6" cy="334.2" rx="1.9" ry="1.6"/><ellipse cx="101.7" cy="334.0" rx="1.8" ry="1.5"/><ellipse cx="108.0" cy="333.1" rx="1.9" ry="1.6"/><ellipse cx="115.8" cy="333.2" rx="1.7" ry="1.4"/><ellipse cx="121.9" cy="333.5" rx="1.6" ry="1.3"/><ellipse cx="128.4" cy="333.1" rx="2.0" ry="1.6"/><ellipse cx="136.1" cy="334.0" rx="1.6" ry="1.4"/><ellipse cx="56.0" cy="339.6" rx="1.6" ry="1.3"/><ellipse cx="62.7" cy="340.1" rx="1.8" ry="1.5"/><ellipse cx="70.1" cy="339.7" rx="1.7" ry="1.4"/><ellipse cx="77.1" cy="340.1" rx="2.0" ry="1.6"/><ellipse cx="83.7" cy="339.5" rx="2.0" ry="1.7"/><ellipse cx="90.5" cy="339.5" rx="1.8" ry="1.5"/><ellipse cx="98.0" cy="340.1" rx="1.9" ry="1.6"/><ellipse cx="104.5" cy="338.6" rx="1.9" ry="1.6"/><ellipse cx="112.0" cy="338.7" rx="1.8" ry="1.5"/><ellipse cx="119.0" cy="339.9" rx="1.7" ry="1.4"/><ellipse cx="125.4" cy="340.2" rx="1.9" ry="1.6"/><ellipse cx="133.2" cy="339.8" rx="1.8" ry="1.5"/><ellipse cx="52.1" cy="345.8" rx="1.7" ry="1.4"/><ellipse cx="58.0" cy="344.8" rx="1.7" ry="1.4"/><ellipse cx="65.1" cy="346.0" rx="1.6" ry="1.4"/><ellipse cx="73.2" cy="345.9" rx="1.8" ry="1.5"/><ellipse cx="80.9" cy="344.7" rx="1.7" ry="1.4"/><ellipse cx="86.6" cy="345.3" rx="1.9" ry="1.6"/><ellipse cx="93.4" cy="345.6" rx="1.6" ry="1.3"/><ellipse cx="100.1" cy="344.9" rx="1.7" ry="1.4"/><ellipse cx="109.0" cy="344.7" rx="1.6" ry="1.4"/><ellipse cx="116.0" cy="344.5" rx="2.0" ry="1.6"/><ellipse cx="121.3" cy="344.7" rx="1.6" ry="1.3"/><ellipse cx="128.8" cy="345.6" rx="1.9" ry="1.6"/><ellipse cx="135.6" cy="344.8" rx="1.8" ry="1.5"/><ellipse cx="49.2" cy="350.5" rx="1.7" ry="1.4"/><ellipse cx="54.8" cy="351.6" rx="1.9" ry="1.6"/><ellipse cx="62.0" cy="351.4" rx="1.7" ry="1.4"/><ellipse cx="69.1" cy="350.9" rx="1.6" ry="1.3"/><ellipse cx="76.3" cy="350.4" rx="1.7" ry="1.4"/><ellipse cx="84.4" cy="351.1" rx="1.6" ry="1.4"/><ellipse cx="90.9" cy="350.3" rx="1.8" ry="1.5"/><ellipse cx="96.9" cy="350.7" rx="1.8" ry="1.5"/><ellipse cx="104.2" cy="351.3" rx="1.8" ry="1.5"/><ellipse cx="111.2" cy="351.1" rx="1.8" ry="1.5"/><ellipse cx="118.5" cy="350.4" rx="2.0" ry="1.6"/><ellipse cx="126.0" cy="351.2" rx="1.6" ry="1.3"/><ellipse cx="133.4" cy="351.5" rx="1.8" ry="1.5"/></g>
<g fill="none" stroke="#1a120c" stroke-width="1.7"><ellipse cx="59.7" cy="310.9" rx="2.7" ry="2.4" stroke-dasharray="2.5 0.9" stroke-dashoffset="0.8"/><ellipse cx="65.3" cy="309.7" rx="2.3" ry="2.1" stroke-dasharray="3.3 1.0" stroke-dashoffset="2.4"/><ellipse cx="73.5" cy="309.9" rx="2.4" ry="2.1" stroke-dasharray="3.0 1.0" stroke-dashoffset="2.6"/><ellipse cx="80.7" cy="309.7" rx="2.6" ry="2.3" stroke-dasharray="3.0 0.9" stroke-dashoffset="0.5"/><ellipse cx="86.9" cy="309.7" rx="2.8" ry="2.5" stroke-dasharray="3.2 0.9" stroke-dashoffset="0.9"/><ellipse cx="94.8" cy="310.5" rx="2.8" ry="2.5" stroke-dasharray="3.2 0.9" stroke-dashoffset="1.2"/><ellipse cx="101.2" cy="310.3" rx="2.3" ry="2.0" stroke-dasharray="2.6 1.0" stroke-dashoffset="0.1"/><ellipse cx="107.2" cy="310.6" rx="2.4" ry="2.1" stroke-dasharray="2.8 0.8" stroke-dashoffset="1.0"/><ellipse cx="135.9" cy="310.8" rx="2.4" ry="2.1" stroke-dasharray="2.9 1.1" stroke-dashoffset="0.3"/><ellipse cx="48.8" cy="316.4" rx="2.3" ry="2.1" stroke-dasharray="2.6 0.7" stroke-dashoffset="1.4"/><ellipse cx="54.5" cy="316.5" rx="2.8" ry="2.5" stroke-dasharray="3.3 1.0" stroke-dashoffset="2.9"/><ellipse cx="61.5" cy="315.8" rx="2.8" ry="2.5" stroke-dasharray="3.1 0.8" stroke-dashoffset="2.8"/><ellipse cx="69.6" cy="316.7" rx="2.4" ry="2.1" stroke-dasharray="2.4 0.8" stroke-dashoffset="0.4"/><ellipse cx="76.2" cy="316.9" rx="2.4" ry="2.1" stroke-dasharray="2.2 0.6" stroke-dashoffset="0.5"/><ellipse cx="84.0" cy="316.0" rx="2.4" ry="2.1" stroke-dasharray="2.3 1.1" stroke-dashoffset="1.3"/><ellipse cx="89.9" cy="315.5" rx="2.2" ry="2.0" stroke-dasharray="2.4 0.9" stroke-dashoffset="0.4"/><ellipse cx="96.6" cy="316.2" rx="2.4" ry="2.1" stroke-dasharray="3.4 0.7" stroke-dashoffset="1.6"/><ellipse cx="105.0" cy="316.0" rx="2.9" ry="2.5" stroke-dasharray="2.8 0.7" stroke-dashoffset="1.2"/><ellipse cx="110.7" cy="316.1" rx="2.4" ry="2.1" stroke-dasharray="3.3 1.0" stroke-dashoffset="1.5"/><ellipse cx="117.7" cy="315.8" rx="2.3" ry="2.1" stroke-dasharray="2.4 0.7" stroke-dashoffset="2.6"/><ellipse cx="124.9" cy="315.5" rx="2.8" ry="2.5" stroke-dasharray="2.9 1.1" stroke-dashoffset="1.2"/><ellipse cx="133.4" cy="316.4" rx="2.7" ry="2.4" stroke-dasharray="3.1 0.8" stroke-dashoffset="0.3"/><ellipse cx="45.6" cy="322.7" rx="2.4" ry="2.1" stroke-dasharray="3.0 1.0" stroke-dashoffset="1.9"/><ellipse cx="52.5" cy="322.0" rx="2.6" ry="2.3" stroke-dasharray="3.0 0.7" stroke-dashoffset="2.8"/><ellipse cx="59.7" cy="321.3" rx="2.8" ry="2.5" stroke-dasharray="3.4 0.9" stroke-dashoffset="0.1"/><ellipse cx="66.7" cy="321.4" rx="2.8" ry="2.5" stroke-dasharray="3.0 0.6" stroke-dashoffset="0.5"/><ellipse cx="73.2" cy="322.1" rx="2.7" ry="2.4" stroke-dasharray="3.3 0.7" stroke-dashoffset="0.0"/><ellipse cx="80.7" cy="321.2" rx="2.8" ry="2.5" stroke-dasharray="2.3 1.0" stroke-dashoffset="2.3"/><ellipse cx="87.7" cy="322.1" rx="2.8" ry="2.5" stroke-dasharray="2.4 0.9" stroke-dashoffset="1.0"/><ellipse cx="94.7" cy="322.4" rx="2.5" ry="2.2" stroke-dasharray="2.8 0.6" stroke-dashoffset="0.1"/><ellipse cx="101.2" cy="322.0" rx="2.8" ry="2.4" stroke-dasharray="2.9 0.7" stroke-dashoffset="1.1"/><ellipse cx="108.5" cy="322.0" rx="2.2" ry="1.9" stroke-dasharray="3.2 1.0" stroke-dashoffset="0.3"/><ellipse cx="115.1" cy="321.8" rx="2.7" ry="2.4" stroke-dasharray="2.6 0.7" stroke-dashoffset="1.5"/><ellipse cx="123.0" cy="321.3" rx="2.3" ry="2.0" stroke-dasharray="2.9 1.0" stroke-dashoffset="1.5"/><ellipse cx="129.0" cy="322.6" rx="2.7" ry="2.4" stroke-dasharray="2.3 1.0" stroke-dashoffset="0.6"/><ellipse cx="135.8" cy="322.5" rx="2.5" ry="2.2" stroke-dasharray="3.2 0.7" stroke-dashoffset="2.6"/><ellipse cx="40.7" cy="327.2" rx="2.5" ry="2.2" stroke-dasharray="2.6 0.9" stroke-dashoffset="2.7"/><ellipse cx="48.7" cy="327.0" rx="2.4" ry="2.1" stroke-dasharray="2.9 0.8" stroke-dashoffset="2.1"/><ellipse cx="55.3" cy="327.1" rx="2.4" ry="2.1" stroke-dasharray="3.2 0.8" stroke-dashoffset="2.3"/><ellipse cx="63.3" cy="328.0" rx="2.6" ry="2.3" stroke-dasharray="2.9 0.8" stroke-dashoffset="2.7"/><ellipse cx="69.4" cy="328.5" rx="2.4" ry="2.1" stroke-dasharray="3.2 1.0" stroke-dashoffset="1.8"/><ellipse cx="76.3" cy="327.2" rx="2.7" ry="2.4" stroke-dasharray="2.6 0.9" stroke-dashoffset="0.4"/><ellipse cx="82.7" cy="327.2" rx="2.7" ry="2.4" stroke-dasharray="2.4 1.1" stroke-dashoffset="1.1"/><ellipse cx="90.6" cy="327.6" rx="2.6" ry="2.3" stroke-dasharray="2.3 0.8" stroke-dashoffset="2.8"/><ellipse cx="96.9" cy="328.1" rx="2.4" ry="2.1" stroke-dasharray="2.6 0.6" stroke-dashoffset="0.1"/><ellipse cx="105.4" cy="328.3" rx="2.7" ry="2.4" stroke-dasharray="3.2 1.1" stroke-dashoffset="0.5"/><ellipse cx="111.7" cy="327.8" rx="2.6" ry="2.3" stroke-dasharray="3.3 1.0" stroke-dashoffset="2.9"/><ellipse cx="117.8" cy="328.1" rx="2.6" ry="2.3" stroke-dasharray="3.1 0.9" stroke-dashoffset="2.5"/><ellipse cx="125.2" cy="328.5" rx="2.5" ry="2.2" stroke-dasharray="2.9 1.0" stroke-dashoffset="2.1"/><ellipse cx="132.3" cy="327.4" rx="2.4" ry="2.1" stroke-dasharray="3.0 1.1" stroke-dashoffset="2.7"/><ellipse cx="45.4" cy="333.3" rx="2.5" ry="2.2" stroke-dasharray="2.2 0.7" stroke-dashoffset="1.6"/><ellipse cx="52.2" cy="333.8" rx="2.4" ry="2.1" stroke-dasharray="3.3 0.9" stroke-dashoffset="0.5"/><ellipse cx="58.1" cy="334.4" rx="2.9" ry="2.5" stroke-dasharray="3.3 0.9" stroke-dashoffset="0.9"/><ellipse cx="65.1" cy="333.2" rx="2.3" ry="2.1" stroke-dasharray="3.3 1.0" stroke-dashoffset="2.3"/><ellipse cx="72.3" cy="333.2" rx="2.4" ry="2.1" stroke-dasharray="3.3 0.7" stroke-dashoffset="2.4"/><ellipse cx="80.3" cy="333.7" rx="2.8" ry="2.5" stroke-dasharray="2.5 0.9" stroke-dashoffset="0.5"/><ellipse cx="86.2" cy="332.9" rx="2.4" ry="2.1" stroke-dasharray="2.3 0.6" stroke-dashoffset="3.0"/><ellipse cx="93.6" cy="334.2" rx="2.7" ry="2.4" stroke-dasharray="3.1 0.9" stroke-dashoffset="2.9"/><ellipse cx="101.7" cy="334.0" rx="2.6" ry="2.3" stroke-dasharray="3.0 1.0" stroke-dashoffset="1.7"/><ellipse cx="108.0" cy="333.1" rx="2.8" ry="2.4" stroke-dasharray="2.8 0.6" stroke-dashoffset="0.5"/><ellipse cx="115.8" cy="333.2" rx="2.5" ry="2.2" stroke-dasharray="3.0 1.0" stroke-dashoffset="1.0"/><ellipse cx="121.9" cy="333.5" rx="2.2" ry="1.9" stroke-dasharray="3.3 0.6" stroke-dashoffset="2.9"/><ellipse cx="128.4" cy="333.1" rx="2.8" ry="2.4" stroke-dasharray="3.2 0.7" stroke-dashoffset="1.7"/><ellipse cx="136.1" cy="334.0" rx="2.3" ry="2.0" stroke-dasharray="3.2 1.1" stroke-dashoffset="2.1"/><ellipse cx="56.0" cy="339.6" rx="2.3" ry="2.0" stroke-dasharray="2.9 1.1" stroke-dashoffset="0.9"/><ellipse cx="62.7" cy="340.1" rx="2.6" ry="2.3" stroke-dasharray="2.2 0.9" stroke-dashoffset="0.8"/><ellipse cx="70.1" cy="339.7" rx="2.4" ry="2.1" stroke-dasharray="3.3 0.9" stroke-dashoffset="1.0"/><ellipse cx="77.1" cy="340.1" rx="2.8" ry="2.5" stroke-dasharray="3.3 0.9" stroke-dashoffset="2.1"/><ellipse cx="83.7" cy="339.5" rx="2.9" ry="2.5" stroke-dasharray="2.6 0.6" stroke-dashoffset="2.1"/><ellipse cx="90.5" cy="339.5" rx="2.6" ry="2.3" stroke-dasharray="2.5 0.7" stroke-dashoffset="0.2"/><ellipse cx="98.0" cy="340.1" rx="2.7" ry="2.3" stroke-dasharray="2.3 1.1" stroke-dashoffset="2.5"/><ellipse cx="104.5" cy="338.6" rx="2.8" ry="2.4" stroke-dasharray="2.9 0.9" stroke-dashoffset="0.1"/><ellipse cx="112.0" cy="338.7" rx="2.5" ry="2.2" stroke-dasharray="2.4 0.8" stroke-dashoffset="2.7"/><ellipse cx="119.0" cy="339.9" rx="2.4" ry="2.1" stroke-dasharray="2.7 0.9" stroke-dashoffset="0.1"/><ellipse cx="125.4" cy="340.2" rx="2.7" ry="2.4" stroke-dasharray="3.2 0.7" stroke-dashoffset="2.1"/><ellipse cx="133.2" cy="339.8" rx="2.5" ry="2.2" stroke-dasharray="2.4 0.6" stroke-dashoffset="2.7"/><ellipse cx="52.1" cy="345.8" rx="2.4" ry="2.1" stroke-dasharray="2.9 0.7" stroke-dashoffset="1.5"/><ellipse cx="58.0" cy="344.8" rx="2.4" ry="2.1" stroke-dasharray="3.3 0.7" stroke-dashoffset="2.3"/><ellipse cx="65.1" cy="346.0" rx="2.3" ry="2.0" stroke-dasharray="2.3 0.7" stroke-dashoffset="2.8"/><ellipse cx="73.2" cy="345.9" rx="2.5" ry="2.2" stroke-dasharray="2.3 0.8" stroke-dashoffset="1.4"/><ellipse cx="80.9" cy="344.7" rx="2.3" ry="2.1" stroke-dasharray="3.2 0.7" stroke-dashoffset="2.9"/><ellipse cx="86.6" cy="345.3" rx="2.6" ry="2.3" stroke-dasharray="3.3 0.6" stroke-dashoffset="2.5"/><ellipse cx="93.4" cy="345.6" rx="2.2" ry="1.9" stroke-dasharray="3.1 0.7" stroke-dashoffset="0.6"/><ellipse cx="100.1" cy="344.9" rx="2.4" ry="2.1" stroke-dasharray="3.4 0.9" stroke-dashoffset="1.1"/><ellipse cx="109.0" cy="344.7" rx="2.3" ry="2.1" stroke-dasharray="3.3 1.1" stroke-dashoffset="2.1"/><ellipse cx="116.0" cy="344.5" rx="2.8" ry="2.5" stroke-dasharray="3.0 0.9" stroke-dashoffset="2.5"/><ellipse cx="121.3" cy="344.7" rx="2.3" ry="2.0" stroke-dasharray="2.8 0.9" stroke-dashoffset="1.6"/><ellipse cx="128.8" cy="345.6" rx="2.8" ry="2.4" stroke-dasharray="3.1 0.6" stroke-dashoffset="0.5"/><ellipse cx="135.6" cy="344.8" rx="2.6" ry="2.3" stroke-dasharray="2.4 0.9" stroke-dashoffset="1.0"/><ellipse cx="49.2" cy="350.5" rx="2.4" ry="2.1" stroke-dasharray="3.4 0.7" stroke-dashoffset="0.1"/><ellipse cx="54.8" cy="351.6" rx="2.7" ry="2.4" stroke-dasharray="3.3 0.8" stroke-dashoffset="0.1"/><ellipse cx="62.0" cy="351.4" rx="2.5" ry="2.2" stroke-dasharray="2.4 0.8" stroke-dashoffset="1.4"/><ellipse cx="69.1" cy="350.9" rx="2.3" ry="2.0" stroke-dasharray="2.2 1.0" stroke-dashoffset="2.2"/><ellipse cx="76.3" cy="350.4" rx="2.4" ry="2.1" stroke-dasharray="2.9 1.0" stroke-dashoffset="1.4"/><ellipse cx="84.4" cy="351.1" rx="2.3" ry="2.0" stroke-dasharray="2.9 0.9" stroke-dashoffset="1.8"/><ellipse cx="90.9" cy="350.3" rx="2.5" ry="2.2" stroke-dasharray="3.2 0.7" stroke-dashoffset="0.1"/><ellipse cx="96.9" cy="350.7" rx="2.5" ry="2.2" stroke-dasharray="2.6 0.9" stroke-dashoffset="0.5"/><ellipse cx="104.2" cy="351.3" rx="2.6" ry="2.3" stroke-dasharray="3.4 1.1" stroke-dashoffset="0.8"/><ellipse cx="111.2" cy="351.1" rx="2.6" ry="2.3" stroke-dasharray="2.6 1.0" stroke-dashoffset="0.6"/><ellipse cx="118.5" cy="350.4" rx="2.8" ry="2.5" stroke-dasharray="2.9 1.1" stroke-dashoffset="0.4"/><ellipse cx="126.0" cy="351.2" rx="2.2" ry="2.0" stroke-dasharray="3.2 1.0" stroke-dashoffset="0.2"/><ellipse cx="133.4" cy="351.5" rx="2.6" ry="2.3" stroke-dasharray="2.9 0.7" stroke-dashoffset="0.2"/><ellipse cx="149.8" cy="305.3" rx="1.3" ry="1.0" fill="#1a120c" stroke="none"/><ellipse cx="154.2" cy="304.2" rx="1.7" ry="1.3" fill="#1a120c" stroke="none"/><ellipse cx="157.8" cy="304.8" rx="1.7" ry="1.4" fill="#1a120c" stroke="none"/><ellipse cx="160.9" cy="304.4" rx="1.5" ry="1.2" fill="#1a120c" stroke="none"/><ellipse cx="164.7" cy="305.1" rx="1.6" ry="1.3" fill="#1a120c" stroke="none"/><ellipse cx="169.0" cy="305.5" rx="1.7" ry="1.4" fill="#1a120c" stroke="none"/><ellipse cx="173.0" cy="305.5" rx="1.8" ry="1.5" fill="#1a120c" stroke="none"/><ellipse cx="84.0" cy="308.7" rx="1.4" ry="1.2" fill="#1a120c" stroke="none"/><ellipse cx="140.9" cy="308.1" rx="1.8" ry="1.4" fill="#1a120c" stroke="none"/><ellipse cx="144.0" cy="308.2" rx="1.4" ry="1.1" fill="#1a120c" stroke="none"/><ellipse cx="148.2" cy="307.8" rx="1.2" ry="1.0" fill="#1a120c" stroke="none"/><ellipse cx="151.7" cy="308.2" rx="1.8" ry="1.4" fill="#1a120c" stroke="none"/><ellipse cx="155.3" cy="308.7" rx="1.8" ry="1.4" fill="#1a120c" stroke="none"/><ellipse cx="158.9" cy="308.5" rx="1.8" ry="1.5" fill="#1a120c" stroke="none"/><ellipse cx="163.8" cy="308.3" rx="1.5" ry="1.2" fill="#1a120c" stroke="none"/><ellipse cx="167.0" cy="308.3" rx="1.6" ry="1.3" fill="#1a120c" stroke="none"/><ellipse cx="170.3" cy="308.6" rx="1.6" ry="1.3" fill="#1a120c" stroke="none"/><ellipse cx="173.9" cy="307.8" rx="1.3" ry="1.0" fill="#1a120c" stroke="none"/><ellipse cx="138.8" cy="310.7" rx="1.8" ry="1.5" fill="#1a120c" stroke="none"/><ellipse cx="141.9" cy="311.8" rx="1.2" ry="1.0" fill="#1a120c" stroke="none"/><ellipse cx="146.1" cy="311.0" rx="1.7" ry="1.4" fill="#1a120c" stroke="none"/><ellipse cx="150.3" cy="310.8" rx="1.3" ry="1.0" fill="#1a120c" stroke="none"/><ellipse cx="154.0" cy="311.2" rx="1.5" ry="1.2" fill="#1a120c" stroke="none"/><ellipse cx="157.3" cy="311.2" rx="1.6" ry="1.3" fill="#1a120c" stroke="none"/><ellipse cx="161.1" cy="310.8" rx="1.5" ry="1.2" fill="#1a120c" stroke="none"/><ellipse cx="165.7" cy="311.7" rx="1.7" ry="1.4" fill="#1a120c" stroke="none"/><ellipse cx="169.4" cy="311.3" rx="1.5" ry="1.2" fill="#1a120c" stroke="none"/><ellipse cx="173.0" cy="310.8" rx="1.7" ry="1.4" fill="#1a120c" stroke="none"/><ellipse cx="175.9" cy="311.5" rx="1.6" ry="1.2" fill="#1a120c" stroke="none"/><ellipse cx="136.8" cy="314.4" rx="1.8" ry="1.4" fill="#1a120c" stroke="none"/><ellipse cx="140.2" cy="314.2" rx="1.6" ry="1.3" fill="#1a120c" stroke="none"/><ellipse cx="144.4" cy="315.2" rx="1.9" ry="1.5" fill="#1a120c" stroke="none"/><ellipse cx="147.9" cy="314.5" rx="1.7" ry="1.3" fill="#1a120c" stroke="none"/><ellipse cx="151.8" cy="314.7" rx="1.5" ry="1.2" fill="#1a120c" stroke="none"/><ellipse cx="156.1" cy="315.1" rx="1.7" ry="1.4" fill="#1a120c" stroke="none"/><ellipse cx="159.7" cy="315.1" rx="1.4" ry="1.1" fill="#1a120c" stroke="none"/><ellipse cx="163.7" cy="314.2" rx="1.3" ry="1.0" fill="#1a120c" stroke="none"/><ellipse cx="166.9" cy="314.1" rx="1.4" ry="1.1" fill="#1a120c" stroke="none"/><ellipse cx="170.8" cy="314.1" rx="1.5" ry="1.2" fill="#1a120c" stroke="none"/><ellipse cx="174.3" cy="315.2" rx="1.3" ry="1.0" fill="#1a120c" stroke="none"/><ellipse cx="178.3" cy="314.5" rx="1.3" ry="1.1" fill="#1a120c" stroke="none"/><ellipse cx="139.2" cy="318.0" rx="1.7" ry="1.4" fill="#1a120c" stroke="none"/><ellipse cx="142.8" cy="317.6" rx="1.7" ry="1.4" fill="#1a120c" stroke="none"/><ellipse cx="146.3" cy="317.2" rx="1.6" ry="1.3" fill="#1a120c" stroke="none"/><ellipse cx="150.5" cy="317.9" rx="1.7" ry="1.4" fill="#1a120c" stroke="none"/><ellipse cx="153.1" cy="317.7" rx="1.6" ry="1.2" fill="#1a120c" stroke="none"/><ellipse cx="157.5" cy="318.3" rx="1.5" ry="1.2" fill="#1a120c" stroke="none"/><ellipse cx="161.3" cy="317.8" rx="1.7" ry="1.3" fill="#1a120c" stroke="none"/><ellipse cx="165.1" cy="317.7" rx="1.4" ry="1.1" fill="#1a120c" stroke="none"/><ellipse cx="169.3" cy="317.6" rx="1.7" ry="1.4" fill="#1a120c" stroke="none"/><ellipse cx="172.3" cy="318.5" rx="1.4" ry="1.1" fill="#1a120c" stroke="none"/><ellipse cx="176.3" cy="317.6" rx="1.8" ry="1.4" fill="#1a120c" stroke="none"/><ellipse cx="137.3" cy="320.5" rx="1.5" ry="1.2" fill="#1a120c" stroke="none"/><ellipse cx="140.0" cy="320.6" rx="1.5" ry="1.2" fill="#1a120c" stroke="none"/><ellipse cx="144.6" cy="320.5" rx="1.8" ry="1.4" fill="#1a120c" stroke="none"/><ellipse cx="148.5" cy="321.7" rx="1.7" ry="1.4" fill="#1a120c" stroke="none"/><ellipse cx="151.4" cy="321.3" rx="1.6" ry="1.3" fill="#1a120c" stroke="none"/><ellipse cx="155.3" cy="321.4" rx="1.4" ry="1.2" fill="#1a120c" stroke="none"/><ellipse cx="159.8" cy="321.6" rx="1.5" ry="1.2" fill="#1a120c" stroke="none"/><ellipse cx="162.6" cy="321.5" rx="1.3" ry="1.1" fill="#1a120c" stroke="none"/><ellipse cx="166.4" cy="321.6" rx="1.4" ry="1.1" fill="#1a120c" stroke="none"/><ellipse cx="170.4" cy="320.9" rx="1.7" ry="1.4" fill="#1a120c" stroke="none"/><ellipse cx="174.1" cy="320.8" rx="1.3" ry="1.0" fill="#1a120c" stroke="none"/><ellipse cx="177.9" cy="321.4" rx="1.6" ry="1.3" fill="#1a120c" stroke="none"/><ellipse cx="138.7" cy="324.3" rx="1.3" ry="1.1" fill="#1a120c" stroke="none"/><ellipse cx="141.7" cy="323.7" rx="1.7" ry="1.4" fill="#1a120c" stroke="none"/><ellipse cx="145.8" cy="324.3" rx="1.6" ry="1.3" fill="#1a120c" stroke="none"/><ellipse cx="150.3" cy="323.8" rx="1.5" ry="1.2" fill="#1a120c" stroke="none"/><ellipse cx="154.0" cy="324.5" rx="1.5" ry="1.2" fill="#1a120c" stroke="none"/><ellipse cx="157.7" cy="324.7" rx="1.8" ry="1.4" fill="#1a120c" stroke="none"/><ellipse cx="161.3" cy="323.8" rx="1.3" ry="1.0" fill="#1a120c" stroke="none"/><ellipse cx="165.2" cy="324.5" rx="1.5" ry="1.2" fill="#1a120c" stroke="none"/><ellipse cx="169.1" cy="323.9" rx="1.5" ry="1.2" fill="#1a120c" stroke="none"/><ellipse cx="172.4" cy="324.6" rx="1.9" ry="1.5" fill="#1a120c" stroke="none"/><ellipse cx="176.1" cy="323.8" rx="1.5" ry="1.2" fill="#1a120c" stroke="none"/><ellipse cx="180.6" cy="325.0" rx="1.3" ry="1.0" fill="#1a120c" stroke="none"/><ellipse cx="38.9" cy="327.8" rx="1.5" ry="1.2" fill="#1a120c" stroke="none"/><ellipse cx="136.4" cy="327.3" rx="1.4" ry="1.1" fill="#1a120c" stroke="none"/><ellipse cx="139.8" cy="327.6" rx="1.6" ry="1.3" fill="#1a120c" stroke="none"/><ellipse cx="143.8" cy="327.6" rx="1.6" ry="1.2" fill="#1a120c" stroke="none"/><ellipse cx="148.3" cy="327.2" rx="1.4" ry="1.1" fill="#1a120c" stroke="none"/><ellipse cx="152.3" cy="327.8" rx="1.7" ry="1.4" fill="#1a120c" stroke="none"/><ellipse cx="155.4" cy="327.6" rx="1.5" ry="1.2" fill="#1a120c" stroke="none"/><ellipse cx="159.6" cy="328.2" rx="1.5" ry="1.2" fill="#1a120c" stroke="none"/><ellipse cx="163.1" cy="327.8" rx="1.6" ry="1.2" fill="#1a120c" stroke="none"/><ellipse cx="166.7" cy="326.9" rx="1.8" ry="1.4" fill="#1a120c" stroke="none"/><ellipse cx="170.7" cy="328.0" rx="1.4" ry="1.2" fill="#1a120c" stroke="none"/><ellipse cx="175.0" cy="328.0" rx="1.4" ry="1.1" fill="#1a120c" stroke="none"/><ellipse cx="178.6" cy="326.9" rx="1.7" ry="1.3" fill="#1a120c" stroke="none"/><ellipse cx="36.2" cy="331.2" rx="1.7" ry="1.3" fill="#1a120c" stroke="none"/><ellipse cx="138.0" cy="330.8" rx="1.6" ry="1.3" fill="#1a120c" stroke="none"/><ellipse cx="142.2" cy="331.1" rx="1.7" ry="1.3" fill="#1a120c" stroke="none"/><ellipse cx="146.2" cy="331.2" rx="1.3" ry="1.0" fill="#1a120c" stroke="none"/><ellipse cx="149.5" cy="330.5" rx="1.3" ry="1.1" fill="#1a120c" stroke="none"/><ellipse cx="154.2" cy="331.2" rx="1.8" ry="1.5" fill="#1a120c" stroke="none"/><ellipse cx="157.3" cy="331.3" rx="1.8" ry="1.5" fill="#1a120c" stroke="none"/><ellipse cx="161.6" cy="331.2" rx="1.7" ry="1.3" fill="#1a120c" stroke="none"/><ellipse cx="164.4" cy="330.5" rx="1.4" ry="1.1" fill="#1a120c" stroke="none"/><ellipse cx="168.8" cy="330.9" rx="1.8" ry="1.5" fill="#1a120c" stroke="none"/><ellipse cx="172.3" cy="331.4" rx="1.3" ry="1.1" fill="#1a120c" stroke="none"/><ellipse cx="176.8" cy="330.5" rx="1.6" ry="1.3" fill="#1a120c" stroke="none"/><ellipse cx="180.3" cy="330.2" rx="1.6" ry="1.3" fill="#1a120c" stroke="none"/><ellipse cx="34.1" cy="334.4" rx="1.6" ry="1.3" fill="#1a120c" stroke="none"/><ellipse cx="38.1" cy="334.7" rx="1.6" ry="1.3" fill="#1a120c" stroke="none"/><ellipse cx="141.1" cy="333.9" rx="1.9" ry="1.5" fill="#1a120c" stroke="none"/><ellipse cx="143.9" cy="333.8" rx="1.3" ry="1.0" fill="#1a120c" stroke="none"/><ellipse cx="147.5" cy="333.9" rx="1.7" ry="1.4" fill="#1a120c" stroke="none"/><ellipse cx="152.0" cy="333.6" rx="1.3" ry="1.0" fill="#1a120c" stroke="none"/><ellipse cx="155.0" cy="333.8" rx="1.6" ry="1.3" fill="#1a120c" stroke="none"/><ellipse cx="35.9" cy="337.6" rx="1.5" ry="1.2" fill="#1a120c" stroke="none"/><ellipse cx="138.7" cy="337.6" rx="1.3" ry="1.1" fill="#1a120c" stroke="none"/><ellipse cx="142.8" cy="336.9" rx="1.6" ry="1.3" fill="#1a120c" stroke="none"/><ellipse cx="146.1" cy="337.3" rx="1.8" ry="1.4" fill="#1a120c" stroke="none"/><ellipse cx="149.4" cy="336.9" rx="1.9" ry="1.5" fill="#1a120c" stroke="none"/><ellipse cx="35.1" cy="340.6" rx="1.4" ry="1.1" fill="#1a120c" stroke="none"/><ellipse cx="38.9" cy="340.6" rx="1.2" ry="1.0" fill="#1a120c" stroke="none"/><ellipse cx="42.4" cy="339.9" rx="1.4" ry="1.1" fill="#1a120c" stroke="none"/><ellipse cx="46.0" cy="340.7" rx="1.9" ry="1.5" fill="#1a120c" stroke="none"/><ellipse cx="139.8" cy="340.5" rx="1.8" ry="1.5" fill="#1a120c" stroke="none"/><ellipse cx="144.7" cy="340.2" rx="1.8" ry="1.5" fill="#1a120c" stroke="none"/><ellipse cx="147.6" cy="340.8" rx="1.7" ry="1.4" fill="#1a120c" stroke="none"/><ellipse cx="151.2" cy="340.2" rx="1.6" ry="1.3" fill="#1a120c" stroke="none"/><ellipse cx="36.6" cy="343.6" rx="1.5" ry="1.2" fill="#1a120c" stroke="none"/><ellipse cx="39.9" cy="343.8" rx="1.8" ry="1.5" fill="#1a120c" stroke="none"/><ellipse cx="44.1" cy="343.6" rx="1.7" ry="1.3" fill="#1a120c" stroke="none"/><ellipse cx="48.4" cy="343.3" rx="1.6" ry="1.3" fill="#1a120c" stroke="none"/><ellipse cx="138.4" cy="343.5" rx="1.8" ry="1.4" fill="#1a120c" stroke="none"/><ellipse cx="142.5" cy="344.2" rx="1.2" ry="1.0" fill="#1a120c" stroke="none"/><ellipse cx="146.5" cy="343.3" rx="1.4" ry="1.1" fill="#1a120c" stroke="none"/><ellipse cx="34.9" cy="347.3" rx="1.4" ry="1.1" fill="#1a120c" stroke="none"/><ellipse cx="38.8" cy="346.4" rx="1.4" ry="1.1" fill="#1a120c" stroke="none"/><ellipse cx="42.4" cy="347.4" rx="1.9" ry="1.5" fill="#1a120c" stroke="none"/><ellipse cx="46.0" cy="347.3" rx="1.9" ry="1.5" fill="#1a120c" stroke="none"/><ellipse cx="136.4" cy="346.6" rx="1.8" ry="1.4" fill="#1a120c" stroke="none"/><ellipse cx="141.0" cy="347.5" rx="1.8" ry="1.5" fill="#1a120c" stroke="none"/><ellipse cx="144.2" cy="346.6" rx="1.6" ry="1.3" fill="#1a120c" stroke="none"/><ellipse cx="32.6" cy="349.6" rx="1.4" ry="1.1" fill="#1a120c" stroke="none"/><ellipse cx="36.0" cy="350.1" rx="1.4" ry="1.1" fill="#1a120c" stroke="none"/><ellipse cx="40.8" cy="349.6" rx="1.4" ry="1.1" fill="#1a120c" stroke="none"/><ellipse cx="43.4" cy="350.1" rx="1.5" ry="1.2" fill="#1a120c" stroke="none"/><ellipse cx="47.6" cy="349.8" rx="1.4" ry="1.1" fill="#1a120c" stroke="none"/><ellipse cx="138.2" cy="350.4" rx="1.4" ry="1.2" fill="#1a120c" stroke="none"/><ellipse cx="142.2" cy="349.6" rx="1.7" ry="1.4" fill="#1a120c" stroke="none"/><ellipse cx="12.4" cy="353.8" rx="1.4" ry="1.1" fill="#1a120c" stroke="none"/><ellipse cx="16.0" cy="353.9" rx="1.4" ry="1.1" fill="#1a120c" stroke="none"/><ellipse cx="20.0" cy="353.6" rx="1.3" ry="1.0" fill="#1a120c" stroke="none"/><ellipse cx="34.5" cy="353.6" rx="1.8" ry="1.5" fill="#1a120c" stroke="none"/><ellipse cx="37.7" cy="353.2" rx="1.8" ry="1.5" fill="#1a120c" stroke="none"/><ellipse cx="42.3" cy="353.9" rx="1.3" ry="1.0" fill="#1a120c" stroke="none"/><ellipse cx="46.3" cy="353.1" rx="1.4" ry="1.1" fill="#1a120c" stroke="none"/><ellipse cx="49.5" cy="353.5" rx="1.8" ry="1.4" fill="#1a120c" stroke="none"/><ellipse cx="53.7" cy="353.7" rx="1.4" ry="1.1" fill="#1a120c" stroke="none"/><ellipse cx="57.5" cy="353.3" rx="1.8" ry="1.4" fill="#1a120c" stroke="none"/><ellipse cx="61.2" cy="353.0" rx="1.5" ry="1.2" fill="#1a120c" stroke="none"/><ellipse cx="65.0" cy="353.7" rx="1.4" ry="1.1" fill="#1a120c" stroke="none"/><ellipse cx="68.2" cy="353.8" rx="1.3" ry="1.0" fill="#1a120c" stroke="none"/><ellipse cx="72.4" cy="353.8" rx="1.4" ry="1.1" fill="#1a120c" stroke="none"/><ellipse cx="75.5" cy="354.1" rx="1.8" ry="1.4" fill="#1a120c" stroke="none"/><ellipse cx="80.2" cy="353.8" rx="1.8" ry="1.4" fill="#1a120c" stroke="none"/><ellipse cx="83.7" cy="354.0" rx="1.9" ry="1.5" fill="#1a120c" stroke="none"/><ellipse cx="87.8" cy="353.8" rx="1.3" ry="1.0" fill="#1a120c" stroke="none"/><ellipse cx="90.9" cy="353.5" rx="1.7" ry="1.4" fill="#1a120c" stroke="none"/><ellipse cx="94.4" cy="354.0" rx="1.8" ry="1.5" fill="#1a120c" stroke="none"/><ellipse cx="98.2" cy="353.8" rx="1.7" ry="1.4" fill="#1a120c" stroke="none"/><ellipse cx="102.4" cy="353.6" rx="1.3" ry="1.1" fill="#1a120c" stroke="none"/><ellipse cx="106.3" cy="354.0" rx="1.5" ry="1.2" fill="#1a120c" stroke="none"/><ellipse cx="110.2" cy="353.2" rx="1.7" ry="1.3" fill="#1a120c" stroke="none"/><ellipse cx="114.0" cy="353.3" rx="1.6" ry="1.3" fill="#1a120c" stroke="none"/><ellipse cx="117.9" cy="354.0" rx="1.4" ry="1.1" fill="#1a120c" stroke="none"/><ellipse cx="121.1" cy="353.1" rx="1.4" ry="1.1" fill="#1a120c" stroke="none"/><ellipse cx="125.4" cy="353.0" rx="1.3" ry="1.1" fill="#1a120c" stroke="none"/><ellipse cx="129.0" cy="352.8" rx="1.5" ry="1.2" fill="#1a120c" stroke="none"/><ellipse cx="133.4" cy="353.2" rx="1.6" ry="1.3" fill="#1a120c" stroke="none"/><ellipse cx="136.9" cy="353.7" rx="1.9" ry="1.5" fill="#1a120c" stroke="none"/><ellipse cx="140.5" cy="353.1" rx="1.7" ry="1.4" fill="#1a120c" stroke="none"/><ellipse cx="14.1" cy="356.9" rx="1.7" ry="1.3" fill="#1a120c" stroke="none"/><ellipse cx="17.8" cy="356.7" rx="1.6" ry="1.2" fill="#1a120c" stroke="none"/><ellipse cx="32.6" cy="357.4" rx="1.3" ry="1.0" fill="#1a120c" stroke="none"/><ellipse cx="36.4" cy="356.7" rx="1.6" ry="1.3" fill="#1a120c" stroke="none"/><ellipse cx="40.7" cy="356.8" rx="1.7" ry="1.3" fill="#1a120c" stroke="none"/><ellipse cx="44.5" cy="357.3" rx="1.3" ry="1.0" fill="#1a120c" stroke="none"/><ellipse cx="48.2" cy="356.6" rx="1.7" ry="1.4" fill="#1a120c" stroke="none"/><ellipse cx="52.0" cy="356.2" rx="1.3" ry="1.0" fill="#1a120c" stroke="none"/><ellipse cx="55.9" cy="356.7" rx="1.8" ry="1.4" fill="#1a120c" stroke="none"/><ellipse cx="58.6" cy="356.7" rx="1.6" ry="1.3" fill="#1a120c" stroke="none"/><ellipse cx="62.4" cy="356.9" rx="1.4" ry="1.1" fill="#1a120c" stroke="none"/><ellipse cx="66.9" cy="356.2" rx="1.7" ry="1.3" fill="#1a120c" stroke="none"/><ellipse cx="70.6" cy="357.0" rx="1.6" ry="1.3" fill="#1a120c" stroke="none"/><ellipse cx="74.7" cy="356.0" rx="1.3" ry="1.0" fill="#1a120c" stroke="none"/><ellipse cx="77.9" cy="356.6" rx="1.5" ry="1.2" fill="#1a120c" stroke="none"/><ellipse cx="93.7" cy="356.3" rx="1.8" ry="1.4" fill="#1a120c" stroke="none"/><ellipse cx="97.2" cy="356.6" rx="1.6" ry="1.3" fill="#1a120c" stroke="none"/><ellipse cx="101.0" cy="357.2" rx="1.3" ry="1.0" fill="#1a120c" stroke="none"/><ellipse cx="104.6" cy="356.6" rx="1.4" ry="1.1" fill="#1a120c" stroke="none"/><ellipse cx="108.8" cy="356.4" rx="1.7" ry="1.3" fill="#1a120c" stroke="none"/><ellipse cx="112.4" cy="357.2" rx="1.3" ry="1.0" fill="#1a120c" stroke="none"/><ellipse cx="116.0" cy="356.3" rx="1.8" ry="1.4" fill="#1a120c" stroke="none"/><ellipse cx="119.0" cy="356.6" rx="1.8" ry="1.4" fill="#1a120c" stroke="none"/><ellipse cx="122.8" cy="356.4" rx="1.7" ry="1.3" fill="#1a120c" stroke="none"/><ellipse cx="126.8" cy="357.3" rx="1.4" ry="1.1" fill="#1a120c" stroke="none"/><ellipse cx="131.0" cy="356.6" rx="1.6" ry="1.3" fill="#1a120c" stroke="none"/><ellipse cx="134.2" cy="356.8" rx="1.6" ry="1.3" fill="#1a120c" stroke="none"/><ellipse cx="138.0" cy="356.3" rx="1.2" ry="1.0" fill="#1a120c" stroke="none"/><ellipse cx="142.3" cy="356.4" rx="1.6" ry="1.3" fill="#1a120c" stroke="none"/><ellipse cx="11.8" cy="360.5" rx="1.3" ry="1.0" fill="#1a120c" stroke="none"/><ellipse cx="31.1" cy="360.0" rx="1.3" ry="1.0" fill="#1a120c" stroke="none"/><ellipse cx="34.1" cy="359.6" rx="1.9" ry="1.5" fill="#1a120c" stroke="none"/><ellipse cx="38.1" cy="360.0" rx="1.4" ry="1.1" fill="#1a120c" stroke="none"/><ellipse cx="42.0" cy="359.9" rx="1.2" ry="1.0" fill="#1a120c" stroke="none"/><ellipse cx="45.3" cy="360.0" rx="1.3" ry="1.1" fill="#1a120c" stroke="none"/><ellipse cx="49.6" cy="359.3" rx="1.6" ry="1.3" fill="#1a120c" stroke="none"/><ellipse cx="53.1" cy="360.1" rx="1.7" ry="1.4" fill="#1a120c" stroke="none"/><ellipse cx="61.2" cy="360.1" rx="1.9" ry="1.5" fill="#1a120c" stroke="none"/><ellipse cx="64.8" cy="359.9" rx="1.5" ry="1.2" fill="#1a120c" stroke="none"/><ellipse cx="68.4" cy="359.4" rx="1.7" ry="1.4" fill="#1a120c" stroke="none"/><ellipse cx="72.5" cy="360.6" rx="1.4" ry="1.1" fill="#1a120c" stroke="none"/><ellipse cx="75.8" cy="359.6" rx="1.4" ry="1.1" fill="#1a120c" stroke="none"/><ellipse cx="125.8" cy="359.6" rx="1.4" ry="1.1" fill="#1a120c" stroke="none"/><ellipse cx="129.2" cy="360.6" rx="1.3" ry="1.1" fill="#1a120c" stroke="none"/><ellipse cx="132.8" cy="359.3" rx="1.3" ry="1.1" fill="#1a120c" stroke="none"/><ellipse cx="137.1" cy="360.5" rx="1.4" ry="1.1" fill="#1a120c" stroke="none"/><ellipse cx="140.2" cy="359.4" rx="1.6" ry="1.3" fill="#1a120c" stroke="none"/><ellipse cx="10.2" cy="363.7" rx="1.9" ry="1.5" fill="#1a120c" stroke="none"/><ellipse cx="13.6" cy="363.6" rx="1.7" ry="1.4" fill="#1a120c" stroke="none"/><ellipse cx="29.5" cy="363.6" rx="1.7" ry="1.4" fill="#1a120c" stroke="none"/><ellipse cx="33.2" cy="363.2" rx="1.8" ry="1.4" fill="#1a120c" stroke="none"/><ellipse cx="36.6" cy="363.5" rx="1.3" ry="1.0" fill="#1a120c" stroke="none"/><ellipse cx="39.7" cy="363.5" rx="1.3" ry="1.0" fill="#1a120c" stroke="none"/><ellipse cx="43.8" cy="362.6" rx="1.8" ry="1.5" fill="#1a120c" stroke="none"/><ellipse cx="48.3" cy="363.8" rx="1.9" ry="1.5" fill="#1a120c" stroke="none"/><ellipse cx="51.6" cy="363.0" rx="1.4" ry="1.1" fill="#1a120c" stroke="none"/><ellipse cx="63.5" cy="363.2" rx="1.3" ry="1.0" fill="#1a120c" stroke="none"/><ellipse cx="66.5" cy="362.7" rx="1.6" ry="1.3" fill="#1a120c" stroke="none"/><ellipse cx="70.8" cy="363.0" rx="1.8" ry="1.4" fill="#1a120c" stroke="none"/><ellipse cx="73.8" cy="363.3" rx="1.2" ry="1.0" fill="#1a120c" stroke="none"/><ellipse cx="77.8" cy="363.4" rx="1.7" ry="1.3" fill="#1a120c" stroke="none"/><ellipse cx="124.0" cy="363.0" rx="1.7" ry="1.3" fill="#1a120c" stroke="none"/><ellipse cx="126.7" cy="363.1" rx="1.3" ry="1.0" fill="#1a120c" stroke="none"/><ellipse cx="131.1" cy="363.6" rx="1.6" ry="1.3" fill="#1a120c" stroke="none"/><ellipse cx="134.8" cy="363.5" rx="1.6" ry="1.3" fill="#1a120c" stroke="none"/><ellipse cx="138.0" cy="363.4" rx="1.7" ry="1.4" fill="#1a120c" stroke="none"/><ellipse cx="15.2" cy="366.2" rx="1.6" ry="1.3" fill="#1a120c" stroke="none"/><ellipse cx="18.8" cy="366.6" rx="1.6" ry="1.3" fill="#1a120c" stroke="none"/><ellipse cx="22.6" cy="365.9" rx="1.6" ry="1.3" fill="#1a120c" stroke="none"/><ellipse cx="27.6" cy="366.4" rx="1.3" ry="1.1" fill="#1a120c" stroke="none"/><ellipse cx="30.3" cy="365.9" rx="1.4" ry="1.1" fill="#1a120c" stroke="none"/><ellipse cx="34.0" cy="366.7" rx="1.7" ry="1.4" fill="#1a120c" stroke="none"/><ellipse cx="38.5" cy="365.9" rx="1.7" ry="1.3" fill="#1a120c" stroke="none"/><ellipse cx="42.0" cy="366.2" rx="1.7" ry="1.3" fill="#1a120c" stroke="none"/><ellipse cx="45.8" cy="365.8" rx="1.3" ry="1.0" fill="#1a120c" stroke="none"/><ellipse cx="64.3" cy="365.9" rx="1.8" ry="1.4" fill="#1a120c" stroke="none"/><ellipse cx="68.6" cy="366.7" rx="1.4" ry="1.1" fill="#1a120c" stroke="none"/><ellipse cx="72.1" cy="365.8" rx="1.5" ry="1.2" fill="#1a120c" stroke="none"/><ellipse cx="76.7" cy="367.0" rx="1.6" ry="1.3" fill="#1a120c" stroke="none"/><ellipse cx="124.7" cy="366.4" rx="1.6" ry="1.2" fill="#1a120c" stroke="none"/><ellipse cx="129.1" cy="365.9" rx="1.3" ry="1.1" fill="#1a120c" stroke="none"/><ellipse cx="133.3" cy="366.6" rx="1.4" ry="1.1" fill="#1a120c" stroke="none"/><ellipse cx="136.7" cy="366.9" rx="1.6" ry="1.3" fill="#1a120c" stroke="none"/><ellipse cx="140.0" cy="366.3" rx="1.8" ry="1.5" fill="#1a120c" stroke="none"/><ellipse cx="17.5" cy="370.1" rx="1.8" ry="1.4" fill="#1a120c" stroke="none"/><ellipse cx="20.9" cy="369.6" rx="1.3" ry="1.0" fill="#1a120c" stroke="none"/><ellipse cx="36.6" cy="370.2" rx="1.8" ry="1.4" fill="#1a120c" stroke="none"/><ellipse cx="39.6" cy="370.0" rx="1.2" ry="1.0" fill="#1a120c" stroke="none"/><ellipse cx="43.7" cy="369.2" rx="1.8" ry="1.4" fill="#1a120c" stroke="none"/><ellipse cx="67.1" cy="369.9" rx="1.5" ry="1.2" fill="#1a120c" stroke="none"/><ellipse cx="71.0" cy="370.2" rx="1.6" ry="1.3" fill="#1a120c" stroke="none"/><ellipse cx="73.8" cy="370.2" rx="1.4" ry="1.1" fill="#1a120c" stroke="none"/><ellipse cx="127.2" cy="370.1" rx="1.7" ry="1.3" fill="#1a120c" stroke="none"/><ellipse cx="130.4" cy="370.2" rx="1.5" ry="1.2" fill="#1a120c" stroke="none"/><ellipse cx="134.3" cy="370.3" rx="1.8" ry="1.4" fill="#1a120c" stroke="none"/><ellipse cx="139.0" cy="369.5" rx="1.8" ry="1.5" fill="#1a120c" stroke="none"/><ellipse cx="34.5" cy="373.4" rx="1.3" ry="1.0" fill="#1a120c" stroke="none"/><ellipse cx="38.2" cy="372.8" rx="1.6" ry="1.3" fill="#1a120c" stroke="none"/><ellipse cx="42.0" cy="373.5" rx="1.7" ry="1.4" fill="#1a120c" stroke="none"/><ellipse cx="68.5" cy="373.1" rx="1.3" ry="1.0" fill="#1a120c" stroke="none"/><ellipse cx="73.0" cy="372.4" rx="1.7" ry="1.4" fill="#1a120c" stroke="none"/><ellipse cx="76.4" cy="372.8" rx="1.4" ry="1.2" fill="#1a120c" stroke="none"/><ellipse cx="129.3" cy="373.1" rx="1.5" ry="1.2" fill="#1a120c" stroke="none"/><ellipse cx="133.2" cy="373.1" rx="1.6" ry="1.3" fill="#1a120c" stroke="none"/><ellipse cx="136.8" cy="373.2" rx="1.4" ry="1.1" fill="#1a120c" stroke="none"/><ellipse cx="139.8" cy="373.3" rx="1.3" ry="1.0" fill="#1a120c" stroke="none"/><ellipse cx="36.4" cy="375.8" rx="1.4" ry="1.1" fill="#1a120c" stroke="none"/><ellipse cx="39.7" cy="376.8" rx="1.7" ry="1.4" fill="#1a120c" stroke="none"/><ellipse cx="43.7" cy="376.7" rx="1.4" ry="1.1" fill="#1a120c" stroke="none"/><ellipse cx="71.1" cy="376.6" rx="1.6" ry="1.3" fill="#1a120c" stroke="none"/><ellipse cx="73.6" cy="376.0" rx="1.3" ry="1.1" fill="#1a120c" stroke="none"/><ellipse cx="78.7" cy="376.7" rx="1.4" ry="1.1" fill="#1a120c" stroke="none"/><ellipse cx="127.9" cy="376.2" rx="1.8" ry="1.4" fill="#1a120c" stroke="none"/><ellipse cx="131.1" cy="375.6" rx="1.5" ry="1.2" fill="#1a120c" stroke="none"/><ellipse cx="135.3" cy="376.1" rx="1.4" ry="1.2" fill="#1a120c" stroke="none"/><ellipse cx="138.1" cy="376.3" rx="1.8" ry="1.5" fill="#1a120c" stroke="none"/><ellipse cx="38.8" cy="378.8" rx="1.7" ry="1.3" fill="#1a120c" stroke="none"/><ellipse cx="41.9" cy="379.0" rx="1.3" ry="1.0" fill="#1a120c" stroke="none"/><ellipse cx="45.5" cy="379.8" rx="1.8" ry="1.4" fill="#1a120c" stroke="none"/><ellipse cx="72.4" cy="379.1" rx="1.3" ry="1.0" fill="#1a120c" stroke="none"/><ellipse cx="76.2" cy="379.3" rx="1.6" ry="1.3" fill="#1a120c" stroke="none"/><ellipse cx="79.8" cy="379.6" rx="1.8" ry="1.4" fill="#1a120c" stroke="none"/><ellipse cx="128.5" cy="379.2" rx="1.3" ry="1.0" fill="#1a120c" stroke="none"/><ellipse cx="133.3" cy="378.9" rx="1.4" ry="1.1" fill="#1a120c" stroke="none"/><ellipse cx="137.0" cy="379.3" rx="1.4" ry="1.1" fill="#1a120c" stroke="none"/><ellipse cx="40.5" cy="382.1" rx="1.3" ry="1.0" fill="#1a120c" stroke="none"/><ellipse cx="44.4" cy="382.6" rx="1.4" ry="1.1" fill="#1a120c" stroke="none"/><ellipse cx="48.3" cy="383.2" rx="1.3" ry="1.0" fill="#1a120c" stroke="none"/><ellipse cx="74.5" cy="383.0" rx="1.6" ry="1.3" fill="#1a120c" stroke="none"/><ellipse cx="77.7" cy="383.3" rx="1.4" ry="1.1" fill="#1a120c" stroke="none"/><ellipse cx="81.9" cy="383.1" rx="1.6" ry="1.3" fill="#1a120c" stroke="none"/><ellipse cx="85.5" cy="383.0" rx="1.8" ry="1.4" fill="#1a120c" stroke="none"/><ellipse cx="126.9" cy="383.2" rx="1.2" ry="1.0" fill="#1a120c" stroke="none"/><ellipse cx="131.1" cy="382.0" rx="1.9" ry="1.5" fill="#1a120c" stroke="none"/><ellipse cx="135.1" cy="382.7" rx="1.8" ry="1.4" fill="#1a120c" stroke="none"/><ellipse cx="138.7" cy="382.8" rx="1.4" ry="1.1" fill="#1a120c" stroke="none"/><ellipse cx="141.9" cy="382.8" rx="1.4" ry="1.1" fill="#1a120c" stroke="none"/><ellipse cx="42.7" cy="386.4" rx="1.6" ry="1.3" fill="#1a120c" stroke="none"/><ellipse cx="45.6" cy="385.6" rx="1.5" ry="1.2" fill="#1a120c" stroke="none"/><ellipse cx="76.3" cy="385.7" rx="1.8" ry="1.4" fill="#1a120c" stroke="none"/><ellipse cx="80.0" cy="385.3" rx="1.9" ry="1.5" fill="#1a120c" stroke="none"/><ellipse cx="84.1" cy="385.6" rx="1.4" ry="1.1" fill="#1a120c" stroke="none"/><ellipse cx="87.4" cy="386.5" rx="1.7" ry="1.4" fill="#1a120c" stroke="none"/><ellipse cx="90.9" cy="386.4" rx="1.8" ry="1.4" fill="#1a120c" stroke="none"/><ellipse cx="128.5" cy="385.5" rx="1.5" ry="1.2" fill="#1a120c" stroke="none"/><ellipse cx="132.2" cy="386.1" rx="1.4" ry="1.1" fill="#1a120c" stroke="none"/><ellipse cx="136.4" cy="385.4" rx="1.7" ry="1.3" fill="#1a120c" stroke="none"/><ellipse cx="140.4" cy="386.1" rx="1.4" ry="1.1" fill="#1a120c" stroke="none"/><ellipse cx="144.1" cy="386.2" rx="1.5" ry="1.2" fill="#1a120c" stroke="none"/><ellipse cx="81.4" cy="388.5" rx="1.3" ry="1.0" fill="#1a120c" stroke="none"/><ellipse cx="85.4" cy="389.0" rx="1.5" ry="1.2" fill="#1a120c" stroke="none"/><ellipse cx="134.2" cy="389.1" rx="1.3" ry="1.1" fill="#1a120c" stroke="none"/></g>
</g>
<path d="M167.8 330.2Q166.8 327.9 170.5 326.8Q174.2 325.6 177.2 326.1Q180.3 326.6 180.8 328.1Q181.2 329.7 178.4 331.5Q175.6 333.2 172.2 332.8Q168.8 332.4 167.8 330.2Z" fill="#eee6d6"/>
<path d="M155.6 308.0Q155.3 305.7 157.0 304.8Q158.7 304.0 159.7 305.5Q160.7 307.0 160.0 309.0Q159.4 311.1 157.7 310.7Q156.0 310.4 155.6 308.0Z" fill="#e9dccb" stroke="#1a120c" stroke-width="0.6"/>
<path d="M10.1 355.6L15.5 357.7" stroke="#1a120c" stroke-width="1.6" stroke-linecap="round"/>
<path d="M9.7 362.4L15.1 361.0" stroke="#1a120c" stroke-width="1.6" stroke-linecap="round"/>
<path d="M12.8 367.8L16.9 364.0" stroke="#1a120c" stroke-width="1.6" stroke-linecap="round"/>
<path d="M20.3 370.2L21.6 365.3" stroke="#1a120c" stroke-width="1.6" stroke-linecap="round"/>
<path d="M26.3 368.5L25.7 363.5" stroke="#1a120c" stroke-width="1.6" stroke-linecap="round"/>
<circle cx="170.4" cy="315.4" r="1" fill="#111"/>
<circle cx="180.3" cy="325.2" r="1" fill="#c77"/>
<ellipse cx="172.2" cy="330.8" rx="3.2" ry="1.1" fill="#1a120c"/>
</g>
<text transform="translate(506.97 59.80) scale(1 1.020)" font-size="65.5" fill="#000">A</text>
<text transform="translate(514.63 462.30) scale(1 1.020)" font-size="65.5" fill="#000">B</text>
<text transform="translate(1434.07 55.00) scale(1 1.020)" font-size="65.5" fill="#000">C</text>
<rect x="833" y="63" width="655" height="427" fill="#e4e4e4"/>
<g stroke-width="1.9" fill-opacity="0.8" stroke-opacity="0.85">
<circle cx="765.5" cy="293.1" r="8.05" fill="#f7931e" stroke="#f7931e"/>
<circle cx="787.5" cy="300.4" r="8.05" fill="#f7931e" stroke="#f7931e"/>
<circle cx="781.3" cy="307.4" r="8.05" fill="#f7931e" stroke="#f7931e"/>
<circle cx="779.3" cy="326.3" r="8.05" fill="#f7931e" stroke="#f7931e"/>
<circle cx="765.5" cy="345.7" r="8.05" fill="#f7931e" stroke="#f7931e"/>
<circle cx="794.1" cy="347.6" r="8.05" fill="#f7931e" stroke="#f7931e"/>
<circle cx="768.9" cy="358.3" r="8.05" fill="#f7931e" stroke="#f7931e"/>
<circle cx="766.3" cy="369.3" r="8.05" fill="#f7931e" stroke="#f7931e"/>
<circle cx="768.6" cy="374.5" r="8.05" fill="#f7931e" stroke="#f7931e"/>
<circle cx="785.8" cy="379.8" r="8.05" fill="#f7931e" stroke="#f7931e"/>
<circle cx="790.0" cy="385.3" r="8.05" fill="#f7931e" stroke="#f7931e"/>
<circle cx="765.5" cy="400.4" r="8.05" fill="#f7931e" stroke="#f7931e"/>
<circle cx="771.9" cy="428.1" r="8.05" fill="#f7931e" stroke="#f7931e"/>
<circle cx="787.1" cy="418.3" r="8.05" fill="#f7931e" stroke="#f7931e"/>
<circle cx="787.2" cy="438.2" r="8.05" fill="#f7931e" stroke="#f7931e"/>
<circle cx="794.7" cy="436.8" r="8.05" fill="#f7931e" stroke="#f7931e"/>
<circle cx="784.5" cy="448.0" r="8.05" fill="#f7931e" stroke="#f7931e"/>
<circle cx="772.1" cy="439.0" r="8.05" fill="#f7931e" stroke="#f7931e"/>
<circle cx="766.2" cy="413.6" r="8.05" fill="#f7931e" stroke="#f7931e"/>
<circle cx="791.8" cy="458.0" r="8.05" fill="#f7931e" stroke="#f7931e"/>
<circle cx="777.6" cy="388.1" r="8.05" fill="#f7931e" stroke="#f7931e"/>
<circle cx="767.3" cy="390.3" r="8.05" fill="#f7931e" stroke="#f7931e"/>
<circle cx="789.5" cy="483.0" r="8.05" fill="#f7931e" stroke="#f7931e"/>
<circle cx="769.5" cy="491.8" r="8.05" fill="#f7931e" stroke="#f7931e"/>
<circle cx="765.5" cy="503.4" r="8.05" fill="#f7931e" stroke="#f7931e"/>
<circle cx="765.7" cy="505.9" r="8.05" fill="#f7931e" stroke="#f7931e"/>
<circle cx="766.9" cy="513.1" r="8.05" fill="#f7931e" stroke="#f7931e"/>
<circle cx="765.5" cy="514.6" r="8.05" fill="#f7931e" stroke="#f7931e"/>
<circle cx="782.8" cy="530.9" r="8.05" fill="#f7931e" stroke="#f7931e"/>
<circle cx="786.9" cy="532.1" r="8.05" fill="#f7931e" stroke="#f7931e"/>
<circle cx="789.2" cy="540.8" r="8.05" fill="#f7931e" stroke="#f7931e"/>
<circle cx="790.3" cy="535.2" r="8.05" fill="#f7931e" stroke="#f7931e"/>
<circle cx="794.6" cy="556.5" r="8.05" fill="#f7931e" stroke="#f7931e"/>
<circle cx="794.4" cy="556.7" r="8.05" fill="#f7931e" stroke="#f7931e"/>
<circle cx="766.9" cy="548.0" r="8.05" fill="#f7931e" stroke="#f7931e"/>
<circle cx="765.5" cy="550.4" r="8.05" fill="#f7931e" stroke="#f7931e"/>
<circle cx="769.9" cy="555.4" r="8.05" fill="#f7931e" stroke="#f7931e"/>
<circle cx="770.9" cy="556.4" r="8.05" fill="#f7931e" stroke="#f7931e"/>
<circle cx="779.9" cy="517.7" r="8.05" fill="#f7931e" stroke="#f7931e"/>
<circle cx="777.5" cy="518.7" r="8.05" fill="#f7931e" stroke="#f7931e"/>
<circle cx="765.5" cy="472.4" r="8.05" fill="#f7931e" stroke="#f7931e"/>
<circle cx="789.3" cy="603.4" r="8.05" fill="#f7931e" stroke="#f7931e"/>
<circle cx="791.6" cy="600.6" r="8.05" fill="#f7931e" stroke="#f7931e"/>
<circle cx="784.7" cy="587.2" r="8.05" fill="#f7931e" stroke="#f7931e"/>
<circle cx="784.1" cy="591.3" r="8.05" fill="#f7931e" stroke="#f7931e"/>
<circle cx="779.9" cy="574.6" r="8.05" fill="#f7931e" stroke="#f7931e"/>
<circle cx="778.5" cy="569.0" r="8.05" fill="#f7931e" stroke="#f7931e"/>
<circle cx="772.5" cy="566.6" r="8.05" fill="#f7931e" stroke="#f7931e"/>
<circle cx="772.8" cy="564.8" r="8.05" fill="#f7931e" stroke="#f7931e"/>
<circle cx="769.8" cy="574.9" r="8.05" fill="#f7931e" stroke="#f7931e"/>
<circle cx="765.7" cy="572.6" r="8.05" fill="#f7931e" stroke="#f7931e"/>
<circle cx="767.9" cy="578.5" r="8.05" fill="#f7931e" stroke="#f7931e"/>
<circle cx="765.6" cy="581.0" r="8.05" fill="#f7931e" stroke="#f7931e"/>
<circle cx="796.8" cy="634.2" r="8.05" fill="#f7931e" stroke="#f7931e"/>
<circle cx="801.7" cy="631.7" r="8.05" fill="#f7931e" stroke="#f7931e"/>
<circle cx="770.7" cy="606.9" r="8.05" fill="#f7931e" stroke="#f7931e"/>
<circle cx="770.8" cy="600.7" r="8.05" fill="#f7931e" stroke="#f7931e"/>
<circle cx="768.3" cy="608.7" r="8.05" fill="#f7931e" stroke="#f7931e"/>
<circle cx="768.2" cy="608.5" r="8.05" fill="#f7931e" stroke="#f7931e"/>
<circle cx="773.9" cy="626.2" r="8.05" fill="#f7931e" stroke="#f7931e"/>
<circle cx="775.4" cy="622.0" r="8.05" fill="#f7931e" stroke="#f7931e"/>
<circle cx="768.7" cy="631.9" r="8.05" fill="#f7931e" stroke="#f7931e"/>
<circle cx="765.5" cy="630.5" r="8.05" fill="#f7931e" stroke="#f7931e"/>
<circle cx="789.3" cy="623.6" r="8.05" fill="#f7931e" stroke="#f7931e"/>
<circle cx="788.2" cy="620.6" r="8.05" fill="#f7931e" stroke="#f7931e"/>
<circle cx="786.8" cy="631.8" r="8.05" fill="#f7931e" stroke="#f7931e"/>
<circle cx="787.9" cy="631.9" r="8.05" fill="#f7931e" stroke="#f7931e"/>
<circle cx="773.6" cy="637.2" r="8.05" fill="#f7931e" stroke="#f7931e"/>
<circle cx="769.6" cy="642.7" r="8.05" fill="#f7931e" stroke="#f7931e"/>
<circle cx="788.0" cy="637.7" r="8.05" fill="#f7931e" stroke="#f7931e"/>
<circle cx="783.8" cy="637.5" r="8.05" fill="#f7931e" stroke="#f7931e"/>
<circle cx="770.4" cy="654.1" r="8.05" fill="#f7931e" stroke="#f7931e"/>
<circle cx="765.5" cy="654.3" r="8.05" fill="#f7931e" stroke="#f7931e"/>
<circle cx="792.5" cy="652.6" r="8.05" fill="#f7931e" stroke="#f7931e"/>
<circle cx="788.1" cy="651.5" r="8.05" fill="#f7931e" stroke="#f7931e"/>
<circle cx="765.5" cy="657.6" r="8.05" fill="#f7931e" stroke="#f7931e"/>
<circle cx="769.6" cy="664.0" r="8.05" fill="#f7931e" stroke="#f7931e"/>
<circle cx="777.2" cy="665.4" r="8.05" fill="#f7931e" stroke="#f7931e"/>
<circle cx="776.5" cy="664.8" r="8.05" fill="#f7931e" stroke="#f7931e"/>
<circle cx="769.9" cy="660.2" r="8.05" fill="#f7931e" stroke="#f7931e"/>
<circle cx="765.9" cy="661.0" r="8.05" fill="#f7931e" stroke="#f7931e"/>
<circle cx="775.2" cy="663.9" r="8.05" fill="#f7931e" stroke="#f7931e"/>
<circle cx="775.3" cy="662.2" r="8.05" fill="#f7931e" stroke="#f7931e"/>
<circle cx="785.2" cy="675.9" r="8.05" fill="#f7931e" stroke="#f7931e"/>
<circle cx="786.7" cy="671.4" r="8.05" fill="#f7931e" stroke="#f7931e"/>
<circle cx="769.5" cy="676.5" r="8.05" fill="#f7931e" stroke="#f7931e"/>
<circle cx="768.4" cy="676.6" r="8.05" fill="#f7931e" stroke="#f7931e"/>
<circle cx="778.4" cy="672.8" r="8.05" fill="#f7931e" stroke="#f7931e"/>
<circle cx="778.5" cy="667.6" r="8.05" fill="#f7931e" stroke="#f7931e"/>
<circle cx="768.5" cy="678.7" r="8.05" fill="#f7931e" stroke="#f7931e"/>
<circle cx="765.5" cy="684.9" r="8.05" fill="#f7931e" stroke="#f7931e"/>
<circle cx="777.4" cy="684.3" r="8.05" fill="#f7931e" stroke="#f7931e"/>
<circle cx="781.3" cy="685.1" r="8.05" fill="#f7931e" stroke="#f7931e"/>
<circle cx="790.6" cy="685.4" r="8.05" fill="#f7931e" stroke="#f7931e"/>
<circle cx="792.2" cy="688.1" r="8.05" fill="#f7931e" stroke="#f7931e"/>
<circle cx="766.2" cy="691.9" r="8.05" fill="#f7931e" stroke="#f7931e"/>
<circle cx="767.2" cy="689.0" r="8.05" fill="#f7931e" stroke="#f7931e"/>
<circle cx="780.3" cy="692.7" r="8.05" fill="#f7931e" stroke="#f7931e"/>
<circle cx="778.8" cy="695.2" r="8.05" fill="#f7931e" stroke="#f7931e"/>
<circle cx="773.2" cy="701.7" r="8.05" fill="#f7931e" stroke="#f7931e"/>
<circle cx="771.1" cy="701.7" r="8.05" fill="#f7931e" stroke="#f7931e"/>
<circle cx="779.8" cy="701.7" r="8.05" fill="#f7931e" stroke="#f7931e"/>
<circle cx="779.4" cy="701.7" r="8.05" fill="#f7931e" stroke="#f7931e"/>
<circle cx="763.6" cy="296.6" r="8.05" fill="#f7931e" stroke="#f7931e"/>
<circle cx="786.4" cy="304.7" r="8.05" fill="#f7931e" stroke="#f7931e"/>
<circle cx="781.0" cy="308.7" r="8.05" fill="#f7931e" stroke="#f7931e"/>
<circle cx="782.4" cy="326.2" r="8.05" fill="#f7931e" stroke="#f7931e"/>
<circle cx="767.6" cy="346.3" r="8.05" fill="#f7931e" stroke="#f7931e"/>
<circle cx="797.2" cy="351.7" r="8.05" fill="#f7931e" stroke="#f7931e"/>
<circle cx="767.6" cy="359.0" r="8.05" fill="#f7931e" stroke="#f7931e"/>
<circle cx="767.6" cy="368.4" r="8.05" fill="#f7931e" stroke="#f7931e"/>
<circle cx="769.0" cy="376.5" r="8.05" fill="#f7931e" stroke="#f7931e"/>
<circle cx="783.7" cy="377.8" r="8.05" fill="#f7931e" stroke="#f7931e"/>
<circle cx="791.8" cy="384.6" r="8.05" fill="#f7931e" stroke="#f7931e"/>
<circle cx="763.6" cy="396.6" r="8.05" fill="#f7931e" stroke="#f7931e"/>
<circle cx="770.3" cy="430.2" r="8.05" fill="#f7931e" stroke="#f7931e"/>
<circle cx="783.7" cy="422.2" r="8.05" fill="#f7931e" stroke="#f7931e"/>
<circle cx="787.8" cy="435.6" r="8.05" fill="#f7931e" stroke="#f7931e"/>
<circle cx="797.2" cy="436.9" r="8.05" fill="#f7931e" stroke="#f7931e"/>
<circle cx="787.8" cy="446.3" r="8.05" fill="#f7931e" stroke="#f7931e"/>
<circle cx="770.3" cy="438.3" r="8.05" fill="#f7931e" stroke="#f7931e"/>
<circle cx="763.6" cy="415.4" r="8.05" fill="#f7931e" stroke="#f7931e"/>
<circle cx="790.4" cy="457.1" r="8.05" fill="#f7931e" stroke="#f7931e"/>
<circle cx="777.0" cy="388.6" r="8.05" fill="#f7931e" stroke="#f7931e"/>
<circle cx="764.9" cy="385.9" r="8.05" fill="#f7931e" stroke="#f7931e"/>
<circle cx="790.4" cy="479.2" r="8.05" fill="#f7931e" stroke="#f7931e"/>
<circle cx="766.3" cy="495.3" r="8.05" fill="#f7931e" stroke="#f7931e"/>
<circle cx="767.6" cy="506.0" r="8.05" fill="#f7931e" stroke="#f7931e"/>
<circle cx="766.3" cy="515.4" r="8.05" fill="#f7931e" stroke="#f7931e"/>
<circle cx="783.7" cy="530.2" r="8.05" fill="#f7931e" stroke="#f7931e"/>
<circle cx="789.1" cy="539.6" r="8.05" fill="#f7931e" stroke="#f7931e"/>
<circle cx="791.8" cy="553.7" r="8.05" fill="#f7931e" stroke="#f7931e"/>
<circle cx="767.6" cy="549.0" r="8.05" fill="#f7931e" stroke="#f7931e"/>
<circle cx="773.0" cy="559.8" r="8.05" fill="#f7931e" stroke="#f7931e"/>
<circle cx="781.0" cy="522.2" r="8.05" fill="#f7931e" stroke="#f7931e"/>
<circle cx="763.6" cy="473.8" r="8.05" fill="#f7931e" stroke="#f7931e"/>
<circle cx="789.1" cy="598.7" r="8.05" fill="#f7931e" stroke="#f7931e"/>
<circle cx="786.4" cy="588.6" r="8.05" fill="#f7931e" stroke="#f7931e"/>
<circle cx="779.7" cy="571.8" r="8.05" fill="#f7931e" stroke="#f7931e"/>
<circle cx="770.3" cy="561.7" r="8.05" fill="#f7931e" stroke="#f7931e"/>
<circle cx="767.6" cy="572.5" r="8.05" fill="#f7931e" stroke="#f7931e"/>
<circle cx="769.0" cy="583.2" r="8.05" fill="#f7931e" stroke="#f7931e"/>
<circle cx="798.5" cy="632.2" r="8.05" fill="#f7931e" stroke="#f7931e"/>
<circle cx="767.6" cy="602.0" r="8.05" fill="#f7931e" stroke="#f7931e"/>
<circle cx="770.3" cy="611.4" r="8.05" fill="#f7931e" stroke="#f7931e"/>
<circle cx="773.0" cy="622.2" r="8.05" fill="#f7931e" stroke="#f7931e"/>
<circle cx="767.6" cy="628.9" r="8.05" fill="#f7931e" stroke="#f7931e"/>
<circle cx="786.4" cy="620.8" r="8.05" fill="#f7931e" stroke="#f7931e"/>
<circle cx="789.1" cy="628.9" r="8.05" fill="#f7931e" stroke="#f7931e"/>
<circle cx="770.3" cy="638.3" r="8.05" fill="#f7931e" stroke="#f7931e"/>
<circle cx="786.4" cy="641.0" r="8.05" fill="#f7931e" stroke="#f7931e"/>
<circle cx="767.6" cy="651.0" r="8.05" fill="#f7931e" stroke="#f7931e"/>
<circle cx="789.1" cy="651.0" r="8.05" fill="#f7931e" stroke="#f7931e"/>
<circle cx="766.3" cy="662.5" r="8.05" fill="#f7931e" stroke="#f7931e"/>
<circle cx="777.0" cy="661.1" r="8.05" fill="#f7931e" stroke="#f7931e"/>
<circle cx="767.6" cy="663.1" r="8.05" fill="#f7931e" stroke="#f7931e"/>
<circle cx="777.0" cy="663.1" r="8.05" fill="#f7931e" stroke="#f7931e"/>
<circle cx="787.8" cy="671.8" r="8.05" fill="#f7931e" stroke="#f7931e"/>
<circle cx="769.0" cy="672.5" r="8.05" fill="#f7931e" stroke="#f7931e"/>
<circle cx="778.4" cy="672.5" r="8.05" fill="#f7931e" stroke="#f7931e"/>
<circle cx="769.0" cy="681.9" r="8.05" fill="#f7931e" stroke="#f7931e"/>
<circle cx="779.7" cy="684.6" r="8.05" fill="#f7931e" stroke="#f7931e"/>
<circle cx="791.8" cy="685.2" r="8.05" fill="#f7931e" stroke="#f7931e"/>
<circle cx="769.0" cy="691.3" r="8.05" fill="#f7931e" stroke="#f7931e"/>
<circle cx="778.4" cy="692.6" r="8.05" fill="#f7931e" stroke="#f7931e"/>
<circle cx="770.3" cy="701.7" r="8.05" fill="#f7931e" stroke="#f7931e"/>
<circle cx="779.7" cy="701.7" r="8.05" fill="#f7931e" stroke="#f7931e"/>
<circle cx="772.5" cy="295.2" r="8.05" fill="#87d8e3" stroke="#87d8e3"/>
<circle cx="765.5" cy="299.9" r="8.05" fill="#87d8e3" stroke="#87d8e3"/>
<circle cx="784.6" cy="307.8" r="8.05" fill="#87d8e3" stroke="#87d8e3"/>
<circle cx="769.5" cy="313.1" r="8.05" fill="#87d8e3" stroke="#87d8e3"/>
<circle cx="771.6" cy="319.0" r="8.05" fill="#87d8e3" stroke="#87d8e3"/>
<circle cx="794.6" cy="328.1" r="8.05" fill="#87d8e3" stroke="#87d8e3"/>
<circle cx="765.5" cy="331.1" r="8.05" fill="#87d8e3" stroke="#87d8e3"/>
<circle cx="769.0" cy="344.1" r="8.05" fill="#87d8e3" stroke="#87d8e3"/>
<circle cx="774.8" cy="344.5" r="8.05" fill="#87d8e3" stroke="#87d8e3"/>
<circle cx="787.4" cy="338.3" r="8.05" fill="#87d8e3" stroke="#87d8e3"/>
<circle cx="793.5" cy="337.9" r="8.05" fill="#87d8e3" stroke="#87d8e3"/>
<circle cx="791.4" cy="348.8" r="8.05" fill="#87d8e3" stroke="#87d8e3"/>
<circle cx="784.2" cy="370.1" r="8.05" fill="#87d8e3" stroke="#87d8e3"/>
<circle cx="786.0" cy="365.1" r="8.05" fill="#87d8e3" stroke="#87d8e3"/>
<circle cx="769.3" cy="396.5" r="8.05" fill="#87d8e3" stroke="#87d8e3"/>
<circle cx="773.9" cy="393.1" r="8.05" fill="#87d8e3" stroke="#87d8e3"/>
<circle cx="789.6" cy="403.7" r="8.05" fill="#87d8e3" stroke="#87d8e3"/>
<circle cx="765.5" cy="407.0" r="8.05" fill="#87d8e3" stroke="#87d8e3"/>
<circle cx="776.0" cy="403.6" r="8.05" fill="#87d8e3" stroke="#87d8e3"/>
<circle cx="767.2" cy="419.5" r="8.05" fill="#87d8e3" stroke="#87d8e3"/>
<circle cx="769.0" cy="421.7" r="8.05" fill="#87d8e3" stroke="#87d8e3"/>
<circle cx="794.6" cy="428.3" r="8.05" fill="#87d8e3" stroke="#87d8e3"/>
<circle cx="765.5" cy="442.5" r="8.05" fill="#87d8e3" stroke="#87d8e3"/>
<circle cx="770.6" cy="462.3" r="8.05" fill="#87d8e3" stroke="#87d8e3"/>
<circle cx="790.0" cy="462.7" r="8.05" fill="#87d8e3" stroke="#87d8e3"/>
<circle cx="765.5" cy="460.3" r="8.05" fill="#87d8e3" stroke="#87d8e3"/>
<circle cx="765.5" cy="466.8" r="8.05" fill="#87d8e3" stroke="#87d8e3"/>
<circle cx="788.6" cy="455.5" r="8.05" fill="#87d8e3" stroke="#87d8e3"/>
<circle cx="766.5" cy="472.3" r="8.05" fill="#87d8e3" stroke="#87d8e3"/>
<circle cx="778.7" cy="474.7" r="8.05" fill="#87d8e3" stroke="#87d8e3"/>
<circle cx="786.2" cy="498.9" r="8.05" fill="#87d8e3" stroke="#87d8e3"/>
<circle cx="798.3" cy="495.1" r="8.05" fill="#87d8e3" stroke="#87d8e3"/>
<circle cx="780.2" cy="497.4" r="8.05" fill="#87d8e3" stroke="#87d8e3"/>
<circle cx="785.3" cy="509.7" r="8.05" fill="#87d8e3" stroke="#87d8e3"/>
<circle cx="778.0" cy="512.7" r="8.05" fill="#87d8e3" stroke="#87d8e3"/>
<circle cx="765.5" cy="527.3" r="8.05" fill="#87d8e3" stroke="#87d8e3"/>
<circle cx="767.1" cy="536.1" r="8.05" fill="#87d8e3" stroke="#87d8e3"/>
<circle cx="767.2" cy="540.9" r="8.05" fill="#87d8e3" stroke="#87d8e3"/>
<circle cx="783.6" cy="701.7" r="8.05" fill="#87d8e3" stroke="#87d8e3"/>
<circle cx="791.8" cy="701.7" r="8.05" fill="#87d8e3" stroke="#87d8e3"/>
<circle cx="802.9" cy="701.7" r="8.05" fill="#87d8e3" stroke="#87d8e3"/>
<circle cx="773.0" cy="291.9" r="8.05" fill="#87d8e3" stroke="#87d8e3"/>
<circle cx="767.6" cy="302.7" r="8.05" fill="#87d8e3" stroke="#87d8e3"/>
<circle cx="783.7" cy="303.4" r="8.05" fill="#87d8e3" stroke="#87d8e3"/>
<circle cx="769.0" cy="314.1" r="8.05" fill="#87d8e3" stroke="#87d8e3"/>
<circle cx="768.3" cy="323.5" r="8.05" fill="#87d8e3" stroke="#87d8e3"/>
<circle cx="792.1" cy="330.2" r="8.05" fill="#87d8e3" stroke="#87d8e3"/>
<circle cx="766.9" cy="334.9" r="8.05" fill="#87d8e3" stroke="#87d8e3"/>
<circle cx="770.3" cy="341.0" r="8.05" fill="#87d8e3" stroke="#87d8e3"/>
<circle cx="777.0" cy="343.7" r="8.05" fill="#87d8e3" stroke="#87d8e3"/>
<circle cx="786.4" cy="339.6" r="8.05" fill="#87d8e3" stroke="#87d8e3"/>
<circle cx="793.1" cy="342.3" r="8.05" fill="#87d8e3" stroke="#87d8e3"/>
<circle cx="794.5" cy="351.7" r="8.05" fill="#87d8e3" stroke="#87d8e3"/>
<circle cx="784.4" cy="368.4" r="8.05" fill="#87d8e3" stroke="#87d8e3"/>
<circle cx="789.1" cy="363.1" r="8.05" fill="#87d8e3" stroke="#87d8e3"/>
<circle cx="768.3" cy="391.5" r="8.05" fill="#87d8e3" stroke="#87d8e3"/>
<circle cx="771.6" cy="395.3" r="8.05" fill="#87d8e3" stroke="#87d8e3"/>
<circle cx="790.4" cy="402.0" r="8.05" fill="#87d8e3" stroke="#87d8e3"/>
<circle cx="767.6" cy="407.4" r="8.05" fill="#87d8e3" stroke="#87d8e3"/>
<circle cx="778.4" cy="407.4" r="8.05" fill="#87d8e3" stroke="#87d8e3"/>
<circle cx="770.3" cy="416.8" r="8.05" fill="#87d8e3" stroke="#87d8e3"/>
<circle cx="771.6" cy="424.2" r="8.05" fill="#87d8e3" stroke="#87d8e3"/>
<circle cx="795.4" cy="424.6" r="8.05" fill="#87d8e3" stroke="#87d8e3"/>
<circle cx="767.6" cy="443.0" r="8.05" fill="#87d8e3" stroke="#87d8e3"/>
<circle cx="770.3" cy="458.4" r="8.05" fill="#87d8e3" stroke="#87d8e3"/>
<circle cx="787.8" cy="459.1" r="8.05" fill="#87d8e3" stroke="#87d8e3"/>
<circle cx="764.9" cy="461.1" r="8.05" fill="#87d8e3" stroke="#87d8e3"/>
<circle cx="767.6" cy="463.1" r="8.05" fill="#87d8e3" stroke="#87d8e3"/>
<circle cx="787.8" cy="459.0" r="8.05" fill="#87d8e3" stroke="#87d8e3"/>
<circle cx="768.3" cy="473.8" r="8.05" fill="#87d8e3" stroke="#87d8e3"/>
<circle cx="779.7" cy="478.5" r="8.05" fill="#87d8e3" stroke="#87d8e3"/>
<circle cx="783.7" cy="494.0" r="8.05" fill="#87d8e3" stroke="#87d8e3"/>
<circle cx="798.5" cy="495.3" r="8.05" fill="#87d8e3" stroke="#87d8e3"/>
<circle cx="783.1" cy="501.3" r="8.05" fill="#87d8e3" stroke="#87d8e3"/>
<circle cx="786.4" cy="512.1" r="8.05" fill="#87d8e3" stroke="#87d8e3"/>
<circle cx="775.7" cy="516.1" r="8.05" fill="#87d8e3" stroke="#87d8e3"/>
<circle cx="766.3" cy="522.8" r="8.05" fill="#87d8e3" stroke="#87d8e3"/>
<circle cx="766.9" cy="539.6" r="8.05" fill="#87d8e3" stroke="#87d8e3"/>
<circle cx="766.9" cy="545.7" r="8.05" fill="#87d8e3" stroke="#87d8e3"/>
<circle cx="783.7" cy="701.7" r="8.05" fill="#87d8e3" stroke="#87d8e3"/>
<circle cx="790.4" cy="701.7" r="8.05" fill="#87d8e3" stroke="#87d8e3"/>
<circle cx="799.8" cy="701.7" r="8.05" fill="#87d8e3" stroke="#87d8e3"/>
<circle cx="869.4" cy="151.5" r="8.05" fill="#f7931e" stroke="#f7931e"/>
<circle cx="924.6" cy="142.4" r="8.05" fill="#f7931e" stroke="#f7931e"/>
<circle cx="1056.5" cy="141.3" r="8.05" fill="#f7931e" stroke="#f7931e"/>
<circle cx="961.4" cy="200.3" r="8.05" fill="#f7931e" stroke="#f7931e"/>
<circle cx="854.8" cy="216.0" r="8.05" fill="#87d8e3" stroke="#87d8e3"/>
<circle cx="1133.8" cy="220.7" r="8.05" fill="#87d8e3" stroke="#87d8e3"/>
<circle cx="961.9" cy="236.2" r="8.05" fill="#f7931e" stroke="#f7931e"/>
<circle cx="982.3" cy="236.2" r="8.05" fill="#f7931e" stroke="#f7931e"/>
<circle cx="955.4" cy="240.0" r="8.05" fill="#87d8e3" stroke="#87d8e3"/>
<circle cx="1238.4" cy="173.1" r="8.05" fill="#87d8e3" stroke="#87d8e3"/>
<circle cx="1231.1" cy="217.3" r="8.05" fill="#f7931e" stroke="#f7931e"/>
<circle cx="1369.2" cy="231.7" r="8.05" fill="#f7931e" stroke="#f7931e"/>
<circle cx="1459.6" cy="193.0" r="8.05" fill="#f7931e" stroke="#f7931e"/>
<circle cx="864.4" cy="265.6" r="8.05" fill="#87d8e3" stroke="#87d8e3"/>
<circle cx="945.2" cy="266.5" r="8.05" fill="#f7931e" stroke="#f7931e"/>
<circle cx="923.7" cy="287.8" r="8.05" fill="#f7931e" stroke="#f7931e"/>
<circle cx="924.9" cy="278.5" r="8.05" fill="#87d8e3" stroke="#87d8e3"/>
<circle cx="951.9" cy="286.0" r="8.05" fill="#87d8e3" stroke="#87d8e3"/>
<circle cx="935.5" cy="295.8" r="8.05" fill="#87d8e3" stroke="#87d8e3"/>
<circle cx="900.5" cy="302.8" r="8.05" fill="#87d8e3" stroke="#87d8e3"/>
<circle cx="920.0" cy="308.2" r="8.05" fill="#f7931e" stroke="#f7931e"/>
<circle cx="1013.7" cy="272.3" r="8.05" fill="#87d8e3" stroke="#87d8e3"/>
<circle cx="1044.1" cy="287.1" r="8.05" fill="#f7931e" stroke="#f7931e"/>
<circle cx="1042.8" cy="273.1" r="8.05" fill="#87d8e3" stroke="#87d8e3"/>
<circle cx="1047.6" cy="306.8" r="8.05" fill="#87d8e3" stroke="#87d8e3"/>
<circle cx="865.0" cy="324.8" r="8.05" fill="#f7931e" stroke="#f7931e"/>
<circle cx="867.7" cy="313.0" r="8.05" fill="#87d8e3" stroke="#87d8e3"/>
<circle cx="888.1" cy="348.5" r="8.05" fill="#f7931e" stroke="#f7931e"/>
<circle cx="960.3" cy="325.2" r="8.05" fill="#f7931e" stroke="#f7931e"/>
<circle cx="955.4" cy="338.7" r="8.05" fill="#f7931e" stroke="#f7931e"/>
<circle cx="970.3" cy="345.4" r="8.05" fill="#f7931e" stroke="#f7931e"/>
<circle cx="985.8" cy="355.4" r="8.05" fill="#f7931e" stroke="#f7931e"/>
<circle cx="981.4" cy="359.6" r="8.05" fill="#f7931e" stroke="#f7931e"/>
<circle cx="1002.6" cy="322.3" r="8.05" fill="#f7931e" stroke="#f7931e"/>
<circle cx="856.8" cy="368.9" r="8.05" fill="#f7931e" stroke="#f7931e"/>
<circle cx="855.5" cy="353.8" r="8.05" fill="#87d8e3" stroke="#87d8e3"/>
<circle cx="925.5" cy="362.9" r="8.05" fill="#87d8e3" stroke="#87d8e3"/>
<circle cx="843.3" cy="382.9" r="8.05" fill="#f7931e" stroke="#f7931e"/>
<circle cx="855.7" cy="382.9" r="8.05" fill="#f7931e" stroke="#f7931e"/>
<circle cx="879.0" cy="393.7" r="8.05" fill="#f7931e" stroke="#f7931e"/>
<circle cx="889.6" cy="392.4" r="8.05" fill="#f7931e" stroke="#f7931e"/>
<circle cx="867.2" cy="393.9" r="8.05" fill="#87d8e3" stroke="#87d8e3"/>
<circle cx="933.1" cy="387.9" r="8.05" fill="#f7931e" stroke="#f7931e"/>
<circle cx="943.5" cy="378.0" r="8.05" fill="#87d8e3" stroke="#87d8e3"/>
<circle cx="923.7" cy="391.9" r="8.05" fill="#87d8e3" stroke="#87d8e3"/>
<circle cx="937.3" cy="393.7" r="8.05" fill="#87d8e3" stroke="#87d8e3"/>
<circle cx="959.0" cy="407.9" r="8.05" fill="#f7931e" stroke="#f7931e"/>
<circle cx="902.5" cy="419.6" r="8.05" fill="#f7931e" stroke="#f7931e"/>
<circle cx="859.9" cy="428.9" r="8.05" fill="#f7931e" stroke="#f7931e"/>
<circle cx="867.2" cy="423.4" r="8.05" fill="#87d8e3" stroke="#87d8e3"/>
<circle cx="1103.5" cy="372.7" r="8.05" fill="#f7931e" stroke="#f7931e"/>
<circle cx="1139.8" cy="395.0" r="8.05" fill="#87d8e3" stroke="#87d8e3"/>
<circle cx="1101.7" cy="412.8" r="8.05" fill="#87d8e3" stroke="#87d8e3"/>
<circle cx="1222.5" cy="352.2" r="8.05" fill="#f7931e" stroke="#f7931e"/>
<circle cx="1334.3" cy="348.0" r="8.05" fill="#f7931e" stroke="#f7931e"/>
<circle cx="1207.9" cy="397.5" r="8.05" fill="#f7931e" stroke="#f7931e"/>
<circle cx="1185.4" cy="417.1" r="8.05" fill="#f7931e" stroke="#f7931e"/>
<circle cx="1194.7" cy="416.2" r="8.05" fill="#f7931e" stroke="#f7931e"/>
<circle cx="1058.5" cy="430.8" r="8.05" fill="#87d8e3" stroke="#87d8e3"/>
<circle cx="859.9" cy="441.7" r="8.05" fill="#f7931e" stroke="#f7931e"/>
<circle cx="864.4" cy="451.2" r="8.05" fill="#87d8e3" stroke="#87d8e3"/>
<circle cx="875.4" cy="454.5" r="8.05" fill="#87d8e3" stroke="#87d8e3"/>
<circle cx="908.7" cy="438.8" r="8.05" fill="#f7931e" stroke="#f7931e"/>
<circle cx="900.9" cy="453.6" r="8.05" fill="#f7931e" stroke="#f7931e"/>
<circle cx="948.6" cy="435.5" r="8.05" fill="#f7931e" stroke="#f7931e"/>
<circle cx="944.1" cy="442.6" r="8.05" fill="#f7931e" stroke="#f7931e"/>
<circle cx="1011.3" cy="436.1" r="8.05" fill="#f7931e" stroke="#f7931e"/>
<circle cx="1035.9" cy="451.0" r="8.05" fill="#87d8e3" stroke="#87d8e3"/>
<circle cx="850.2" cy="468.3" r="8.05" fill="#87d8e3" stroke="#87d8e3"/>
<circle cx="923.7" cy="466.5" r="8.05" fill="#f7931e" stroke="#f7931e"/>
<circle cx="996.2" cy="480.9" r="8.05" fill="#f7931e" stroke="#f7931e"/>
<circle cx="1000.2" cy="481.6" r="8.05" fill="#87d8e3" stroke="#87d8e3"/>
<circle cx="1015.7" cy="471.1" r="8.05" fill="#87d8e3" stroke="#87d8e3"/>
<circle cx="859.5" cy="494.2" r="8.05" fill="#f7931e" stroke="#f7931e"/>
<circle cx="876.3" cy="494.9" r="8.05" fill="#f7931e" stroke="#f7931e"/>
<circle cx="900.3" cy="497.7" r="8.05" fill="#f7931e" stroke="#f7931e"/>
<circle cx="843.3" cy="499.7" r="8.05" fill="#f7931e" stroke="#f7931e"/>
<circle cx="840.0" cy="499.3" r="8.05" fill="#87d8e3" stroke="#87d8e3"/>
<circle cx="853.9" cy="540.7" r="8.05" fill="#f7931e" stroke="#f7931e"/>
<circle cx="890.7" cy="546.9" r="8.05" fill="#f7931e" stroke="#f7931e"/>
<circle cx="877.4" cy="555.1" r="8.05" fill="#f7931e" stroke="#f7931e"/>
<circle cx="868.8" cy="562.9" r="8.05" fill="#f7931e" stroke="#f7931e"/>
<circle cx="894.9" cy="567.8" r="8.05" fill="#f7931e" stroke="#f7931e"/>
<circle cx="844.6" cy="565.1" r="8.05" fill="#f7931e" stroke="#f7931e"/>
<circle cx="853.3" cy="574.4" r="8.05" fill="#87d8e3" stroke="#87d8e3"/>
<circle cx="1319.1" cy="469.6" r="8.05" fill="#f7931e" stroke="#f7931e"/>
<circle cx="839.3" cy="598.8" r="8.05" fill="#f7931e" stroke="#f7931e"/>
<circle cx="855.3" cy="625.4" r="8.05" fill="#f7931e" stroke="#f7931e"/>
<circle cx="834.4" cy="702.1" r="8.05" fill="#f7931e" stroke="#f7931e"/>
<circle cx="841.1" cy="702.1" r="8.05" fill="#f7931e" stroke="#f7931e"/>
<circle cx="847.7" cy="702.1" r="8.05" fill="#f7931e" stroke="#f7931e"/>
<circle cx="856.2" cy="702.1" r="8.05" fill="#f7931e" stroke="#f7931e"/>
<circle cx="905.6" cy="702.1" r="8.05" fill="#87d8e3" stroke="#87d8e3"/>
<circle cx="939.3" cy="702.1" r="8.05" fill="#f7931e" stroke="#f7931e"/>
<circle cx="959.2" cy="702.1" r="8.05" fill="#f7931e" stroke="#f7931e"/>
<circle cx="968.7" cy="701.0" r="8.05" fill="#f7931e" stroke="#f7931e"/>
<circle cx="984.7" cy="702.1" r="8.05" fill="#f7931e" stroke="#f7931e"/>
<circle cx="1036.8" cy="702.1" r="8.05" fill="#f7931e" stroke="#f7931e"/>
<circle cx="1052.3" cy="702.1" r="8.05" fill="#f7931e" stroke="#f7931e"/>
<circle cx="827.1" cy="87.8" r="8.05" fill="#f7931e" stroke="#f7931e"/>
<circle cx="801.9" cy="158.7" r="8.05" fill="#f7931e" stroke="#f7931e"/>
<circle cx="769.1" cy="192.1" r="8.05" fill="#87d8e3" stroke="#87d8e3"/>
<circle cx="777.3" cy="218.5" r="8.05" fill="#87d8e3" stroke="#87d8e3"/>
<circle cx="779.8" cy="210.7" r="8.05" fill="#87d8e3" stroke="#87d8e3"/>
<circle cx="803.3" cy="207.4" r="8.05" fill="#f7931e" stroke="#f7931e"/>
<circle cx="786.7" cy="230.7" r="8.05" fill="#f7931e" stroke="#f7931e"/>
<circle cx="776.6" cy="251.0" r="8.05" fill="#f7931e" stroke="#f7931e"/>
<circle cx="779.8" cy="254.7" r="8.05" fill="#87d8e3" stroke="#87d8e3"/>
<circle cx="818.5" cy="248.5" r="8.05" fill="#f7931e" stroke="#f7931e"/>
<circle cx="815.4" cy="258.6" r="8.05" fill="#f7931e" stroke="#f7931e"/>
<circle cx="794.5" cy="267.1" r="8.05" fill="#f7931e" stroke="#f7931e"/>
<circle cx="797.6" cy="255.9" r="8.05" fill="#87d8e3" stroke="#87d8e3"/>
<circle cx="783.7" cy="272.5" r="8.05" fill="#f7931e" stroke="#f7931e"/>
<circle cx="799.8" cy="287.9" r="8.05" fill="#f7931e" stroke="#f7931e"/>
<circle cx="813.3" cy="341.4" r="8.05" fill="#f7931e" stroke="#f7931e"/>
<circle cx="836.1" cy="328.9" r="8.05" fill="#f7931e" stroke="#f7931e"/>
<circle cx="840.1" cy="308.7" r="8.05" fill="#f7931e" stroke="#f7931e"/>
<circle cx="769.1" cy="274.7" r="8.05" fill="#87d8e3" stroke="#87d8e3"/>
<circle cx="779.7" cy="285.9" r="8.05" fill="#87d8e3" stroke="#87d8e3"/>
<circle cx="768.3" cy="288.6" r="8.05" fill="#87d8e3" stroke="#87d8e3"/>
<circle cx="792.9" cy="284.8" r="8.05" fill="#87d8e3" stroke="#87d8e3"/>
<circle cx="804.3" cy="306.7" r="8.05" fill="#87d8e3" stroke="#87d8e3"/>
<circle cx="834.4" cy="296.0" r="8.05" fill="#87d8e3" stroke="#87d8e3"/>
<circle cx="848.2" cy="299.6" r="8.05" fill="#87d8e3" stroke="#87d8e3"/>
<circle cx="842.6" cy="318.7" r="8.05" fill="#87d8e3" stroke="#87d8e3"/>
<circle cx="807.9" cy="369.8" r="8.05" fill="#f7931e" stroke="#f7931e"/>
<circle cx="824.0" cy="366.8" r="8.05" fill="#f7931e" stroke="#f7931e"/>
<circle cx="813.3" cy="403.4" r="8.05" fill="#f7931e" stroke="#f7931e"/>
<circle cx="806.8" cy="413.4" r="8.05" fill="#f7931e" stroke="#f7931e"/>
<circle cx="813.0" cy="436.3" r="8.05" fill="#f7931e" stroke="#f7931e"/>
<circle cx="824.0" cy="459.8" r="8.05" fill="#f7931e" stroke="#f7931e"/>
<circle cx="802.5" cy="371.8" r="8.05" fill="#87d8e3" stroke="#87d8e3"/>
<circle cx="807.2" cy="361.7" r="8.05" fill="#87d8e3" stroke="#87d8e3"/>
<circle cx="805.9" cy="390.2" r="8.05" fill="#87d8e3" stroke="#87d8e3"/>
<circle cx="802.1" cy="403.0" r="8.05" fill="#87d8e3" stroke="#87d8e3"/>
<circle cx="803.2" cy="446.3" r="8.05" fill="#87d8e3" stroke="#87d8e3"/>
<circle cx="809.2" cy="454.4" r="8.05" fill="#87d8e3" stroke="#87d8e3"/>
<circle cx="821.3" cy="455.1" r="8.05" fill="#87d8e3" stroke="#87d8e3"/>
<circle cx="832.1" cy="380.1" r="8.05" fill="#87d8e3" stroke="#87d8e3"/>
<circle cx="830.7" cy="391.5" r="8.05" fill="#87d8e3" stroke="#87d8e3"/>
<circle cx="829.4" cy="473.8" r="8.05" fill="#f7931e" stroke="#f7931e"/>
<circle cx="817.3" cy="476.5" r="8.05" fill="#f7931e" stroke="#f7931e"/>
<circle cx="828.7" cy="495.3" r="8.05" fill="#f7931e" stroke="#f7931e"/>
<circle cx="802.1" cy="520.1" r="8.05" fill="#f7931e" stroke="#f7931e"/>
<circle cx="824.7" cy="521.1" r="8.05" fill="#f7931e" stroke="#f7931e"/>
<circle cx="813.9" cy="543.0" r="8.05" fill="#f7931e" stroke="#f7931e"/>
<circle cx="804.5" cy="549.0" r="8.05" fill="#f7931e" stroke="#f7931e"/>
<circle cx="816.0" cy="561.1" r="8.05" fill="#f7931e" stroke="#f7931e"/>
<circle cx="809.2" cy="457.0" r="8.05" fill="#87d8e3" stroke="#87d8e3"/>
<circle cx="822.0" cy="457.7" r="8.05" fill="#87d8e3" stroke="#87d8e3"/>
<circle cx="803.2" cy="483.9" r="8.05" fill="#87d8e3" stroke="#87d8e3"/>
<circle cx="811.3" cy="479.2" r="8.05" fill="#87d8e3" stroke="#87d8e3"/>
<circle cx="801.2" cy="505.0" r="8.05" fill="#87d8e3" stroke="#87d8e3"/>
<circle cx="814.6" cy="563.7" r="8.05" fill="#f7931e" stroke="#f7931e"/>
<circle cx="818.7" cy="563.1" r="8.05" fill="#f7931e" stroke="#f7931e"/>
<circle cx="826.7" cy="575.4" r="8.05" fill="#f7931e" stroke="#f7931e"/>
<circle cx="828.1" cy="594.0" r="8.05" fill="#f7931e" stroke="#f7931e"/>
<circle cx="817.3" cy="598.7" r="8.05" fill="#f7931e" stroke="#f7931e"/>
<circle cx="800.5" cy="590.6" r="8.05" fill="#f7931e" stroke="#f7931e"/>
<circle cx="805.2" cy="612.8" r="8.05" fill="#f7931e" stroke="#f7931e"/>
<circle cx="810.6" cy="608.7" r="8.05" fill="#f7931e" stroke="#f7931e"/>
<circle cx="819.3" cy="616.1" r="8.05" fill="#f7931e" stroke="#f7931e"/>
<circle cx="811.9" cy="618.1" r="8.05" fill="#f7931e" stroke="#f7931e"/>
<circle cx="810.6" cy="628.2" r="8.05" fill="#f7931e" stroke="#f7931e"/>
<circle cx="817.3" cy="701.7" r="8.05" fill="#f7931e" stroke="#f7931e"/>
<circle cx="824.0" cy="701.7" r="8.05" fill="#f7931e" stroke="#f7931e"/>
<circle cx="806.6" cy="701.7" r="8.05" fill="#87d8e3" stroke="#87d8e3"/>
<circle cx="816.0" cy="701.7" r="8.05" fill="#87d8e3" stroke="#87d8e3"/>
<circle cx="822.7" cy="701.7" r="8.05" fill="#87d8e3" stroke="#87d8e3"/>
</g>
<path d="M833.1 63V726M739 490.2H1488" stroke="#757575" stroke-width="1.7" fill="none"/>
<path d="M961.3 63.3L1259.6 490.6" stroke="#000" stroke-width="1.7" stroke-dasharray="13.5 12.7" stroke-dashoffset="7.7" fill="none"/>
<rect x="739" y="63" width="748.5" height="663" fill="none" stroke="#000" stroke-width="2.3"/>
<path d="M766.0 726V741M910.9 726V741M1055.4 726V741M1200.0 726V741M1344.6 726V741M739 701.9H723.8M739 539.6H723.8M739 377.4H723.8M739 214.8H723.8" stroke="#000" stroke-width="2" fill="none"/>
<text transform="translate(749.78 776.80) scale(1 1.040)" font-size="31.3" letter-spacing="0.52" fill="#000">0.0</text>
<text transform="translate(894.48 776.80) scale(1 1.040)" font-size="31.3" letter-spacing="-1.38" fill="#000">0.1</text>
<text transform="translate(1039.48 776.80) scale(1 1.040)" font-size="31.3" letter-spacing="0.49" fill="#000">0.2</text>
<text transform="translate(1183.38 776.80) scale(1 1.040)" font-size="31.3" letter-spacing="0.94" fill="#000">0.3</text>
<text transform="translate(1328.38 776.80) scale(1 1.040)" font-size="31.3" letter-spacing="0.21" fill="#000">0.4</text>
<text transform="translate(698.22 710.40) scale(1 1.040)" font-size="31.3" fill="#000">0</text>
<text transform="translate(698.57 548.10) scale(1 1.040)" font-size="31.3" fill="#000">2</text>
<text transform="translate(697.91 385.90) scale(1 1.040)" font-size="31.3" fill="#000">4</text>
<text transform="translate(698.37 223.30) scale(1 1.040)" font-size="31.3" fill="#000">6</text>
<text transform="translate(951.16 823.20) scale(1 1.040)" font-size="31.7" letter-spacing="1.74" fill="#000">log</text>
<text transform="translate(997.49 823.20) scale(1 1.040)" font-size="18.5" letter-spacing="0.65" fill="#000">10</text>
<text transform="translate(1019.03 823.20) scale(1 1.040)" font-size="31.7" letter-spacing="1.10" fill="#000">(Threat Index)</text>
<text transform="translate(669.70 635.52) rotate(-90) scale(1 1.070)" font-size="30.0" letter-spacing="0.01" fill="#000">log</text>
<text transform="translate(669.70 597.53) rotate(-90) scale(1 1.070)" font-size="17.5" letter-spacing="-0.65" fill="#000">10</text>
<text transform="translate(669.70 577.76) rotate(-90) scale(1 1.070)" font-size="30.0" letter-spacing="-0.01" fill="#000">(conservative jaguar pop. size)</text>
<text transform="translate(1028.07 130.50) scale(1 1.040)" font-size="21.5" letter-spacing="0.08" fill="#1a1a1a">IR280</text>
<text transform="translate(1095.14 208.90) scale(1 1.040)" font-size="21.5" fill="#1a1a1a">UC102</text>
<text transform="translate(1212.44 161.20) scale(1 1.040)" font-size="21.5" letter-spacing="-0.12" fill="#1a1a1a">UC01</text>
<text transform="translate(1202.22 205.80) scale(1 1.040)" font-size="21.5" letter-spacing="-0.15" fill="#1a1a1a">IR267</text>
<text transform="translate(1335.42 219.10) scale(1 1.040)" font-size="21.5" letter-spacing="-0.34" fill="#1a1a1a">IR119</text>
<text transform="translate(1422.52 180.60) scale(1 1.040)" font-size="21.5" letter-spacing="0.06" fill="#1a1a1a">IR180</text>
<text transform="translate(1199.32 339.60) scale(1 1.040)" font-size="21.5" letter-spacing="0.06" fill="#1a1a1a">IR45</text>
<text transform="translate(1310.52 335.60) scale(1 1.040)" font-size="21.5" letter-spacing="0.14" fill="#1a1a1a">IR20</text>
<text transform="translate(1185.62 384.60) scale(1 1.040)" font-size="21.5" letter-spacing="0.19" fill="#1a1a1a">IR25</text>
<text transform="translate(1289.52 455.70) scale(1 1.040)" font-size="21.5" letter-spacing="0.12" fill="#1a1a1a">IR142</text>
<text transform="translate(1357.26 98.70) scale(1 1.040)" font-size="36.2" letter-spacing="0.51" fill="#1a1a1a">ST-HP</text>
<path d="M499.8 690.4V824.6M499.8 690.4H492.0M499.8 709.5H492.0M499.8 728.8H492.0M499.8 748.3H492.0M499.8 767.2H492.0M499.8 786.4H492.0M499.8 805.5H492.0M499.8 824.6H492.0M527.0 830.3H656.0M527.0 830.3V838.5M569.6 830.3V838.5M612.4 830.3V838.5M656.0 830.3V838.5" stroke="#7a7a7a" stroke-width="0.8" fill="none"/>
<text x="490.7" y="694.6" font-size="14.6" text-anchor="end" fill="#1a1a1a">0.7</text>
<text x="490.7" y="713.7" font-size="14.6" text-anchor="end" fill="#1a1a1a">0.6</text>
<text x="490.7" y="733.0" font-size="14.6" text-anchor="end" fill="#1a1a1a">0.5</text>
<text x="490.7" y="752.5" font-size="14.6" text-anchor="end" fill="#1a1a1a">0.4</text>
<text x="490.7" y="771.4" font-size="14.6" text-anchor="end" fill="#1a1a1a">0.3</text>
<text x="490.7" y="790.6" font-size="14.6" text-anchor="end" fill="#1a1a1a">0.2</text>
<text x="490.7" y="809.7" font-size="14.6" text-anchor="end" fill="#1a1a1a">0.1</text>
<text x="490.7" y="828.8" font-size="14.6" text-anchor="end" fill="#1a1a1a">0.0</text>
<text transform="translate(460.1 821.7) rotate(-90)" font-size="15" fill="#1a1a1a">log<tspan font-size="8.5">10</tspan> (Threat index)</text>
<path d="M526.8 814.3V824.2" stroke="#333" stroke-width="0.5" stroke-dasharray="3 2" fill="none"/>
<path d="M518.4 814.3H535.6M518.4 824.2H535.6" stroke="#333" stroke-width="0.5" fill="none"/>
<rect x="509.4" y="818.1" width="34.8" height="5.2" fill="#f7931e" stroke="#333" stroke-width="0.5"/>
<rect x="509.4" y="820.0" width="34.8" height="3.2" fill="#000"/>
<path d="M569.5 808.5V824.6" stroke="#333" stroke-width="0.5" stroke-dasharray="3 2" fill="none"/>
<path d="M561.4 808.5H578.0M561.4 824.6H578.0" stroke="#333" stroke-width="0.5" fill="none"/>
<rect x="552.2" y="817.5" width="34.6" height="6.7" fill="#f7931e" stroke="#333" stroke-width="0.5"/>
<rect x="552.2" y="820.8" width="34.6" height="3.4" fill="#000"/>
<path d="M612.4 780.2V824.6" stroke="#333" stroke-width="0.5" stroke-dasharray="3 2" fill="none"/>
<path d="M604.0 780.2H620.7M604.0 824.6H620.7" stroke="#333" stroke-width="0.5" fill="none"/>
<rect x="595.2" y="806.2" width="34.4" height="18.0" fill="#87d8e3" stroke="#333" stroke-width="0.5"/>
<rect x="595.2" y="819.4" width="34.4" height="3.2" fill="#000"/>
<path d="M655.5 807.0V824.6" stroke="#333" stroke-width="0.5" stroke-dasharray="3 2" fill="none"/>
<path d="M646.5 807.0H663.7M646.5 824.6H663.7" stroke="#333" stroke-width="0.5" fill="none"/>
<rect x="638.2" y="815.0" width="34.4" height="8.8" fill="#87d8e3" stroke="#333" stroke-width="0.5"/>
<rect x="638.2" y="819.4" width="34.4" height="3.2" fill="#000"/>
<g fill="none" stroke="#222" stroke-width="0.5"><circle cx="527.0" cy="810.2" r="1.6"/><circle cx="527.0" cy="799.0" r="1.6"/><circle cx="527.0" cy="793.6" r="1.6"/><circle cx="527.0" cy="791.7" r="1.6"/><circle cx="569.6" cy="733.0" r="1.6"/><circle cx="569.6" cy="744.9" r="1.6"/><circle cx="569.6" cy="749.6" r="1.6"/><circle cx="569.6" cy="751.2" r="1.6"/><circle cx="569.6" cy="763.0" r="1.6"/><circle cx="569.6" cy="764.9" r="1.6"/><circle cx="569.6" cy="766.9" r="1.6"/><circle cx="569.6" cy="768.8" r="1.6"/><circle cx="569.6" cy="780.2" r="1.6"/><circle cx="569.6" cy="786.4" r="1.6"/><circle cx="569.6" cy="787.9" r="1.6"/><circle cx="569.6" cy="789.8" r="1.6"/><circle cx="569.6" cy="793.6" r="1.6"/><circle cx="569.6" cy="796.5" r="1.6"/><circle cx="569.6" cy="798.4" r="1.6"/><circle cx="569.6" cy="800.3" r="1.6"/><circle cx="569.6" cy="802.2" r="1.6"/><circle cx="569.6" cy="804.1" r="1.6"/><circle cx="569.6" cy="806.0" r="1.6"/><circle cx="569.6" cy="808.0" r="1.6"/><circle cx="612.6" cy="762.1" r="1.6"/><circle cx="612.6" cy="775.8" r="1.6"/><circle cx="655.1" cy="691.9" r="1.6"/><circle cx="655.1" cy="787.9" r="1.6"/><circle cx="655.1" cy="789.4" r="1.6"/><circle cx="655.1" cy="794.0" r="1.6"/><circle cx="655.1" cy="800.9" r="1.6"/></g>
<circle cx="11.8" cy="794.3" r="11.8" fill="#f7931e" fill-opacity="0.8"/>
<circle cx="12.5" cy="824.8" r="11.8" fill="#87d8e3" fill-opacity="0.8"/>
<text transform="translate(26.44 802.90) scale(1 1.040)" font-size="23.4" letter-spacing="0.32" fill="#000">Indigenous Reserves (IR)</text>
<text transform="translate(29.51 830.80) scale(1 1.040)" font-size="23.4" letter-spacing="0.26" fill="#000">Conservation Unities (UC)</text>
</svg></body></html>
